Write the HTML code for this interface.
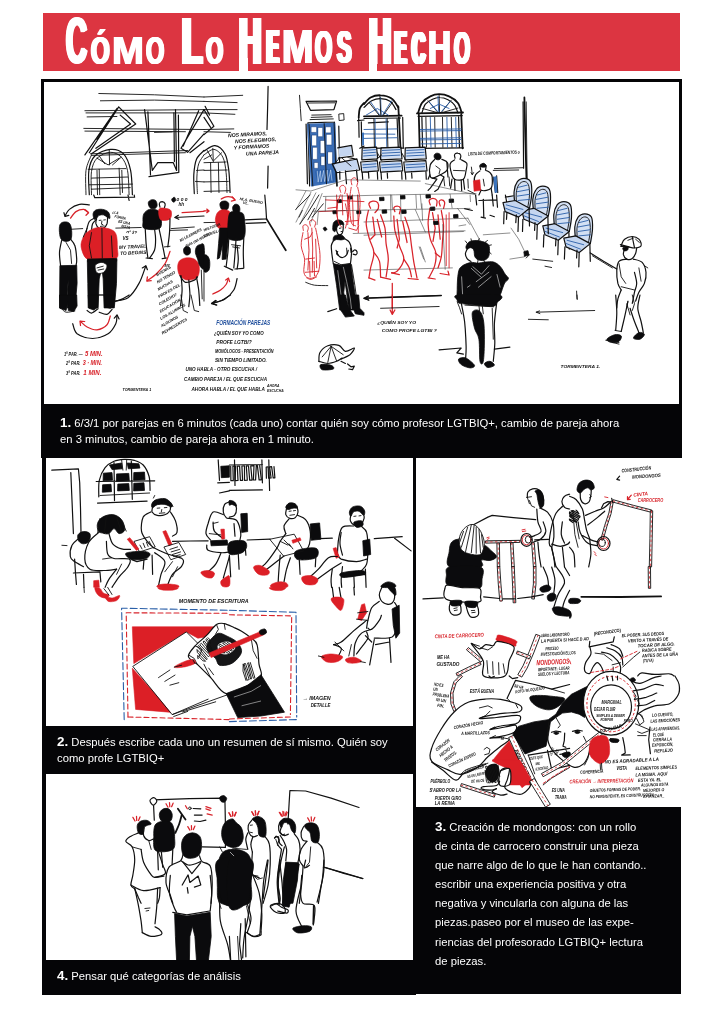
<!DOCTYPE html>
<html lang="es">
<head>
<meta charset="utf-8">
<title>Cómo Lo Hemos Hecho</title>
<style>
html,body{margin:0;padding:0;background:#fff;}
body{width:724px;height:1023px;position:relative;overflow:hidden;font-family:"Liberation Sans",sans-serif;}
.abs{position:absolute;}
#bar{left:42.9px;top:12.9px;width:637.5px;height:58px;background:#dc3541;}
#title{will-change:transform;margin:0;position:absolute;left:0;top:0;width:724px;height:80px;font-size:0;color:#fff;font-weight:bold;}
#title span{position:absolute;display:block;line-height:1;transform-origin:0 0;text-transform:uppercase;white-space:pre;}
.hstem{background:#fff;}
.blk{background:#050507;}
.wht{background:#fff;overflow:hidden;}
#f1{left:40.8px;top:79px;width:641.4px;height:379px;}
#p1{left:44px;top:82px;width:635.2px;height:322px;}
#f2{left:42.1px;top:457.6px;width:374.3px;height:537px;}
#p2{left:45.6px;top:457.6px;width:367.4px;height:268.7px;}
#p4{left:45.6px;top:773.8px;width:367.4px;height:186.6px;}
#f3{left:416.4px;top:806.5px;width:264.4px;height:187.1px;}
#p3{left:416.4px;top:458px;width:307.6px;height:348.5px;}
.cap{will-change:transform;color:#fff;font-size:11.25px;line-height:15.6px;white-space:nowrap;}
.cap b{font-size:13.4px;line-height:0;}
#c1{left:60.3px;top:415.9px;}
#c2{left:57.3px;top:735.2px;}
#c3{left:434.9px;top:818.2px;line-height:19.1px;}
#c4{left:57px;top:968.6px;}
svg{will-change:transform;position:absolute;left:0;top:0;overflow:hidden;}
svg text{font-family:"Liberation Sans",sans-serif;}
.k{fill:none;stroke:#111;stroke-width:.9;stroke-linecap:round;stroke-linejoin:round;}
.kt{fill:none;stroke:#333;stroke-width:.55;stroke-linecap:round;stroke-linejoin:round;}
.k2{fill:none;stroke:#111;stroke-width:1.2;stroke-linecap:round;stroke-linejoin:round;}
.k3{fill:none;stroke:#111;stroke-width:1.8;stroke-linecap:round;stroke-linejoin:round;}
.kf{fill:#0b0b0d;stroke:#0b0b0d;stroke-width:.8;stroke-linejoin:round;}
.r{fill:none;stroke:#d8232a;stroke-width:.9;stroke-linecap:round;stroke-linejoin:round;}
.r2{fill:none;stroke:#d8232a;stroke-width:1.25;stroke-linecap:round;stroke-linejoin:round;}
.rf{fill:#dc1f26;stroke:#dc1f26;stroke-width:.6;stroke-linejoin:round;}
.b{fill:none;stroke:#2a5fa8;stroke-width:.9;stroke-linecap:round;stroke-linejoin:round;}
.bf{fill:#3b74bd;stroke:none;}
.hw{font-size:4.6px;fill:#111;font-style:italic;font-weight:bold;}
.hwr{font-size:4.6px;fill:#d8232a;font-style:italic;font-weight:bold;}
.hwb{font-size:4.6px;fill:#1f4e9c;font-style:italic;font-weight:bold;}
</style>
</head>
<body>
<div id="bar" class="abs"></div>
<h1 id="title"><span style="left:66.10px;top:8.28px;font-size:65.54px;transform:scaleX(0.4436);text-shadow:1.13px 0 0 #fff,-1.13px 0 0 #fff,2.25px 0 0 #fff,-2.25px 0 0 #fff,3.38px 0 0 #fff,-3.38px 0 0 #fff;">C</span><span style="left:90.90px;top:31.63px;font-size:38.28px;transform:scaleX(0.6255);text-shadow:0.95px 0 0 #fff,-0.95px 0 0 #fff,1.89px 0 0 #fff,-1.89px 0 0 #fff;">ó</span><span style="left:111.99px;top:31.06px;font-size:39.39px;transform:scaleX(0.9727);text-shadow:0.67px 0 0 #fff,-0.67px 0 0 #fff;">m</span><span style="left:146.34px;top:31.63px;font-size:38.28px;transform:scaleX(0.6158);text-shadow:0.90px 0 0 #fff,-0.90px 0 0 #fff,1.81px 0 0 #fff,-1.81px 0 0 #fff;">o</span> <span style="left:181.71px;top:8.05px;font-size:66.57px;transform:scaleX(0.4964);text-shadow:1.17px 0 0 #fff,-1.17px 0 0 #fff,2.34px 0 0 #fff,-2.34px 0 0 #fff,3.51px 0 0 #fff,-3.51px 0 0 #fff,4.68px 0 0 #fff,-4.68px 0 0 #fff;">L</span><span style="left:205.92px;top:31.63px;font-size:38.28px;transform:scaleX(0.5770);text-shadow:1.06px 0 0 #fff,-1.06px 0 0 #fff,2.13px 0 0 #fff,-2.13px 0 0 #fff;">o</span> <span style="left:239.28px;top:8.05px;font-size:66.57px;transform:scaleX(0.4670);text-shadow:1.10px 0 0 #fff,-1.10px 0 0 #fff,2.21px 0 0 #fff,-2.21px 0 0 #fff,3.31px 0 0 #fff,-3.31px 0 0 #fff,4.41px 0 0 #fff,-4.41px 0 0 #fff;">H</span><span style="left:266.94px;top:23.42px;font-size:47.82px;transform:scaleX(0.3560);text-shadow:1.06px 0 0 #fff,-1.06px 0 0 #fff,2.13px 0 0 #fff,-2.13px 0 0 #fff,3.19px 0 0 #fff,-3.19px 0 0 #fff,4.26px 0 0 #fff,-4.26px 0 0 #fff,5.32px 0 0 #fff,-5.32px 0 0 #fff,6.39px 0 0 #fff,-6.39px 0 0 #fff;">e</span><span style="left:281.63px;top:23.42px;font-size:47.82px;transform:scaleX(0.7866);text-shadow:0.60px 0 0 #fff,-0.60px 0 0 #fff,1.21px 0 0 #fff,-1.21px 0 0 #fff;">m</span><span style="left:315.37px;top:24.11px;font-size:46.47px;transform:scaleX(0.4753);text-shadow:0.90px 0 0 #fff,-0.90px 0 0 #fff,1.79px 0 0 #fff,-1.79px 0 0 #fff,2.69px 0 0 #fff,-2.69px 0 0 #fff;">o</span><span style="left:336.54px;top:24.11px;font-size:46.47px;transform:scaleX(0.4661);text-shadow:1.05px 0 0 #fff,-1.05px 0 0 #fff,2.09px 0 0 #fff,-2.09px 0 0 #fff,3.14px 0 0 #fff,-3.14px 0 0 #fff;">s</span> <span style="left:369.01px;top:8.05px;font-size:66.57px;transform:scaleX(0.4636);text-shadow:1.07px 0 0 #fff,-1.07px 0 0 #fff,2.13px 0 0 #fff,-2.13px 0 0 #fff,3.20px 0 0 #fff,-3.20px 0 0 #fff,4.27px 0 0 #fff,-4.27px 0 0 #fff;">H</span><span style="left:395.25px;top:22.93px;font-size:48.40px;transform:scaleX(0.3418);text-shadow:1.15px 0 0 #fff,-1.15px 0 0 #fff,2.30px 0 0 #fff,-2.30px 0 0 #fff,3.45px 0 0 #fff,-3.45px 0 0 #fff,4.60px 0 0 #fff,-4.60px 0 0 #fff,5.75px 0 0 #fff,-5.75px 0 0 #fff,6.90px 0 0 #fff,-6.90px 0 0 #fff;">e</span><span style="left:411.74px;top:23.63px;font-size:47.03px;transform:scaleX(0.3879);text-shadow:0.97px 0 0 #fff,-0.97px 0 0 #fff,1.95px 0 0 #fff,-1.95px 0 0 #fff,2.92px 0 0 #fff,-2.92px 0 0 #fff,3.89px 0 0 #fff,-3.89px 0 0 #fff,4.86px 0 0 #fff,-4.86px 0 0 #fff;">c</span><span style="left:428.49px;top:22.93px;font-size:48.40px;transform:scaleX(0.6563);text-shadow:0.77px 0 0 #fff,-0.77px 0 0 #fff,1.54px 0 0 #fff,-1.54px 0 0 #fff;">h</span><span style="left:454.20px;top:23.63px;font-size:47.03px;transform:scaleX(0.4380);text-shadow:1.02px 0 0 #fff,-1.02px 0 0 #fff,2.04px 0 0 #fff,-2.04px 0 0 #fff,3.07px 0 0 #fff,-3.07px 0 0 #fff;">o</span></h1>
<div class="abs hstem" style="left:239.3px;top:58px;width:8.6px;height:14px;"></div>
<div class="abs hstem" style="left:369.1px;top:58px;width:8.3px;height:14px;"></div>
<div id="f1" class="abs blk"></div>
<div id="f2" class="abs blk"></div>
<div id="f3" class="abs blk"></div>
<div id="p1" class="abs wht"><svg width="635.2" height="322" viewBox="44 82 635.2 322">
<path class="k" d="M98.8 93.5 L154.5 94.8 L204.0 97.0 M100.4 100.8 L154.5 100.1 L204.0 101.4 M84.9 110.7 L204.0 109.6 M86.0 112.9 L204.0 112.9 M87.1 116.9 L116.9 116.5 M83.8 128.4 L204.0 129.5 M84.9 131.1 L185.4 131.7 M154.5 132.4 L172.2 131.9 M90.4 153.8 L187.6 150.5 M91.5 155.4 L185.4 152.7"/>
<path class="k2" d="M89.3 152.7 L118.7 106.8 L135.7 124.0 L91.5 153.8 M84.9 154.9 L116.9 108.5 M120.2 115.1 L130.6 124.0 L95.9 148.3 M110.3 119.6 L97.0 139.5"/>
<path class="k2" d="M144.6 109.6 L152.3 170.4 L157.8 162.7 L173.3 162.7 L176.6 170.4 L175.5 109.6 M147.9 111.8 L150.5 174.8 M173.9 112.9 L174.4 161.6 M149.0 176.6 L177.7 172.6 M178.4 115.1 L178.8 172.6"/>
<path class="k2" d="M204.0 109.6 L181.0 148.3 L187.6 152.3 L204.0 133.9 M198.7 110.7 L183.2 146.1 M204.0 141.7 L189.9 152.7"/>
<path class="k2" d="M89.3 194.7 C89.2 190.7 87.9 176.8 88.9 170.4 C89.8 164.0 91.3 159.5 94.8 156.0 C98.4 152.5 105.5 149.8 110.3 149.4 C115.1 149.0 120.2 150.3 123.6 153.8 C126.9 157.3 129.2 163.6 130.6 170.4 C132.1 177.2 132.1 190.7 132.4 194.7"/>
<path class="k" d="M86.0 194.7 C86.0 190.7 85.1 177.0 86.0 170.4 C86.9 163.8 90.6 157.5 91.5 154.9"/>
<path class="k" d="M91.5 194.7 C91.5 190.8 90.6 177.6 91.5 171.5 C92.4 165.4 93.9 161.4 97.0 158.2 C100.2 155.0 106.2 152.5 110.3 152.3 C114.3 152.1 118.5 154.1 121.3 157.1 C124.2 160.2 126.2 164.1 127.5 170.4 C128.8 176.7 128.8 190.7 129.1 194.7"/>
<path class="k" d="M109.2 149.4 L109.6 164.9 M97.0 158.2 L108.1 164.9 L119.1 158.2 M99.2 156.0 L104.8 163.8 M121.3 157.1 L112.5 164.9 M88.2 169.3 L125.8 168.6 M91.5 178.1 L128.0 177.0 M89.3 184.8 L132.4 184.1 M91.5 189.2 L130.2 187.6 M99.2 169.3 L99.7 194.7 M97.0 170.4 L97.5 194.7 M119.1 168.2 L120.2 194.7 M121.8 170.4 L122.5 192.5"/>
<path class="k2" d="M204.0 150.5 C202.7 152.0 198.2 155.3 196.5 159.3 C194.8 163.4 194.2 169.1 193.8 174.8 C193.5 180.5 194.2 190.5 194.3 193.6"/>
<path class="k" d="M204.0 154.9 C203.1 156.4 199.9 160.1 198.7 163.8 C197.5 167.5 197.1 172.1 196.9 177.0 C196.7 182.0 197.3 190.8 197.4 193.6"/>
<path class="k" d="M196.5 170.4 L204.0 170.0 M195.4 181.4 L204.0 181.9"/>
<path class="k" d="M204.0 97.0 L242.7 95.3 M204.0 101.4 L237.1 102.6 M204.0 109.6 L237.1 109.6 M204.0 112.9 L234.9 114.3 M204.0 129.5 L233.8 128.9 M204.0 131.7 L230.5 132.4"/>
<path class="k2" d="M204.0 109.6 L213.9 126.2 L204.0 134.6 M205.1 106.3 L209.5 115.1 M204.0 117.4 L210.6 127.3"/>
<path class="k2" d="M204.0 151.0 C205.8 150.1 211.6 145.2 215.0 145.6 C218.5 146.1 222.7 149.7 225.0 153.8 C227.3 157.9 227.9 164.0 228.8 170.4 C229.6 176.8 229.9 188.8 230.1 192.5"/>
<path class="k" d="M204.0 154.9 C205.7 154.0 210.8 149.0 213.9 149.4 C217.1 149.8 220.8 153.3 222.8 157.1 C224.8 161.0 225.4 166.7 226.1 172.6 C226.8 178.5 226.8 189.2 227.0 192.5"/>
<path class="k" d="M204.0 162.7 L226.1 162.0 M204.0 170.4 L227.2 170.0 M204.0 181.9 L228.3 181.4 M204.0 191.4 L229.4 190.7 M210.6 162.7 L211.1 192.5 M218.4 162.7 L219.0 192.5 M212.8 148.3 L213.3 161.6 M204.0 159.3 L211.7 154.9 M213.9 160.5 L221.7 152.7 M207.3 150.5 L212.8 160.5"/>
<path class="k2" d="M268.1 86.4 L267.6 108.5 L267.0 129.5 M268.1 166.0 L267.6 188.1"/>
<text class="hw" x="227.9" y="137.2" style="font-size:5.2px" transform="rotate(-3 227.9 137.2)">NOS MIRAMOS,</text>
<text class="hw" x="234.9" y="143.2" style="font-size:5.2px" transform="rotate(-3 234.9 143.2)">NOS ELEGIMOS,</text>
<text class="hw" x="233.8" y="149.4" style="font-size:5.2px" transform="rotate(-3 233.8 149.4)">Y FORMAMOS</text>
<text class="hw" x="246.0" y="155.6" style="font-size:5.2px" transform="rotate(-3 246.0 155.6)">UNA PAREJA</text>
<path class="k" d="M299.5 95.3 L300.4 108.5 L301.2 120.7"/>
<path class="k2" d="M306.1 101.4 L336.6 101.0 L333.9 109.6 L310.5 110.3Z"/>
<path class="k" d="M307.9 103.0 L334.8 102.8 M311.2 117.4 L332.2 116.7 M310.1 119.6 L333.3 118.9 M311.8 115.1 L331.1 114.7"/>
<path class="k2" d="M307.9 122.9 L308.8 154.9 L309.6 185.9 M334.4 122.2 L335.7 154.9 L337.0 185.9 M307.9 122.9 L334.4 122.0 M306.1 124.0 L307.4 183.7 M338.8 126.2 L339.9 179.2"/>
<path class="bf" d="M307.0 123.7 L335.3 122.7 L337.4 182.2 L311.0 186.5Z" style="fill:#3a6db6"/>
<path class="k" d="M311.3 126.8 L316.6 126.8 L316.6 132.4 L311.3 132.4Z" style="fill:#fff;stroke:#1d3f7a;stroke-width:.5"/>
<path class="k" d="M318.1 127.5 L322.7 127.5 L322.7 136.7 L318.1 136.7Z" style="fill:#fff;stroke:#1d3f7a;stroke-width:.5"/>
<path class="k" d="M325.7 126.8 L331.0 126.8 L331.0 132.9 L325.7 132.9Z" style="fill:#fff;stroke:#1d3f7a;stroke-width:.5"/>
<path class="k" d="M312.0 135.1 L316.6 135.1 L316.6 145.8 L312.0 145.8Z" style="fill:#fff;stroke:#1d3f7a;stroke-width:.5"/>
<path class="k" d="M320.4 140.5 L324.9 140.5 L324.9 153.4 L320.4 153.4Z" style="fill:#fff;stroke:#1d3f7a;stroke-width:.5"/>
<path class="k" d="M326.5 134.4 L331.8 134.4 L331.8 145.0 L326.5 145.0Z" style="fill:#fff;stroke:#1d3f7a;stroke-width:.5"/>
<path class="k" d="M312.8 147.3 L317.3 147.3 L317.3 159.4 L312.8 159.4Z" style="fill:#fff;stroke:#1d3f7a;stroke-width:.5"/>
<path class="k" d="M328.0 151.9 L332.5 151.9 L332.5 164.0 L328.0 164.0Z" style="fill:#fff;stroke:#1d3f7a;stroke-width:.5"/>
<path class="k" d="M321.1 156.4 L324.9 156.4 L324.9 165.5 L321.1 165.5Z" style="fill:#fff;stroke:#1d3f7a;stroke-width:.5"/>
<path class="k" d="M314.3 162.5 L318.1 162.5 L318.1 168.3 L314.3 168.3Z" style="fill:#fff;stroke:#1d3f7a;stroke-width:.5"/>
<path class="b" d="M334.2 173.9 L333.8 181.5 L333.1 181.6 L332.1 169.4 L330.8 169.4 L331.6 181.8 L329.8 181.9 L329.8 169.5 L328.3 169.5 L328.7 182.0 L327.3 182.1 L326.9 169.6 L325.4 169.7 L326.1 182.2 L324.8 182.3 L323.9 169.7 L323.1 169.8 L322.9 182.5 L321.5 182.6 L321.8 169.8 L319.8 169.9 L320.8 182.7 L319.1 182.8 L318.7 170.0 L317.1 170.0 L318.0 182.9 L315.6 172.2 L316.4 170.1"/>
<path d="M317.3 170.8 L318.1 182.2 L320.4 170.8 L321.1 181.9 L323.7 170.4 L324.6 181.6 L327.2 170.1 L328.3 181.3 L330.7 169.8 L331.9 180.7" style="fill:none;stroke:#cfe0f7;stroke-width:.6"/>
<path class="k" d="M309.0 124.5 L312.8 186.0 M334.1 123.0 L336.3 182.2 M324.2 123.7 L326.5 183.8"/>
<path class="k" d="M339.2 114.0 L343.7 113.6 L344.1 120.0 L339.5 120.5Z"/>
<path class="bf" d="M338.8 148.3 L351.0 146.1 L352.5 154.9 L339.2 157.1Z" style="fill:#c5d6f0"/>
<path class="bf" d="M333.3 163.8 L356.5 159.3 L358.7 169.3 L336.6 171.5Z" style="fill:#c5d6f0"/>
<path class="k2" d="M337.7 147.9 L351.6 145.4 L353.2 156.0 L338.4 158.2 M332.2 163.8 L356.9 158.9 L359.8 170.0 L336.2 172.6 L332.2 163.8 M336.2 172.6 L337.0 185.9 M356.5 170.0 L357.6 181.4 M347.6 157.1 L356.5 159.3 M345.4 170.8 L346.5 183.7"/>
<path class="k" d="M342.1 158.2 L351.0 166.0 M339.2 158.2 L334.4 164.2"/>
<path class="k3" d="M364.0 103.0 C363.3 103.9 360.7 106.1 359.8 108.5 C358.9 110.9 358.9 115.9 358.7 117.4"/>
<path class="k2" d="M358.7 117.4 L359.1 137.2 M357.6 120.7 L364.0 120.0 M361.3 121.8 L361.8 146.1 M359.8 148.3 L364.0 146.1"/>
<path class="bf" d="M362.0 132.8 L364.0 132.4 L364.0 145.0 L362.2 145.6Z"/>
<path class="k3" d="M364.0 104.1 C365.1 103.0 367.9 98.9 370.6 97.5 C373.4 96.0 377.1 95.1 380.6 95.3 C384.1 95.4 388.7 96.5 391.6 98.6 C394.6 100.6 397.1 105.9 398.3 107.4"/>
<path class="k2" d="M364.0 107.4 C365.3 106.3 369.0 102.3 371.7 100.8 C374.5 99.3 377.4 98.5 380.6 98.6 C383.7 98.7 387.9 99.6 390.5 101.4 C393.1 103.3 395.1 108.3 396.0 109.6"/>
<path class="k3" d="M364.0 116.3 L401.6 115.6 M398.3 106.3 L399.4 126.2 L400.5 148.3"/>
<path class="k2" d="M364.0 118.5 L400.5 118.0 M397.1 118.5 L398.3 148.3 M402.7 117.4 L403.3 148.3 M364.0 148.3 L403.8 147.9 M368.4 122.9 L388.3 121.8"/>
<path class="b" d="M380.6 97.5 L381.2 115.1 M370.6 101.9 L379.5 114.7 M391.6 100.8 L382.8 114.7 M364.0 129.5 L397.1 128.9 M364.0 138.4 L397.1 137.7 M364.0 133.9 L394.9 134.2 M375.0 118.5 L375.5 147.2 M386.1 118.5 L386.8 147.2 M366.2 115.1 L377.3 108.5 L388.3 115.1"/>
<path class="k" d="M379.9 96.4 L380.8 115.1 M369.5 103.0 L379.0 115.1 M392.7 101.9 L383.4 115.1 M373.9 118.5 L374.4 147.2 M387.2 118.5 L387.9 147.2"/>
<path class="k3" d="M418.1 112.9 C418.8 111.3 419.9 105.8 421.9 103.0 C423.9 100.2 427.4 97.8 430.3 96.4 C433.2 94.9 436.0 94.2 439.1 94.2 C442.3 94.2 446.0 94.9 449.1 96.4 C452.2 97.8 455.8 100.2 457.9 103.0 C460.0 105.8 461.1 111.3 461.7 112.9"/>
<path class="k2" d="M421.9 112.9 C422.5 111.5 423.7 106.4 425.4 104.1 C427.2 101.8 430.2 100.3 432.5 99.2 C434.9 98.1 437.0 97.4 439.6 97.5 C442.2 97.5 445.5 98.4 448.0 99.7 C450.5 101.0 453.0 103.0 454.6 105.2 C456.3 107.4 457.4 111.7 457.9 112.9"/>
<path class="k3" d="M417.0 113.4 L463.0 112.5 M418.8 114.0 L419.7 148.3 M461.2 112.9 L462.6 148.3"/>
<path class="k2" d="M418.1 116.3 L462.3 115.6 M419.2 148.3 L463.4 147.9 M421.9 117.4 L422.6 147.9 M458.6 116.9 L459.5 147.9"/>
<path class="k" d="M425.9 117.4 L426.5 147.2 M434.7 117.4 L435.2 147.2 M442.5 117.4 L442.9 147.2 M451.3 117.4 L452.0 147.2 M439.1 94.8 L439.6 112.5 M428.1 100.8 L438.0 112.5 M451.3 100.1 L441.3 112.5 M422.6 108.5 L436.9 112.5 M457.9 108.1 L442.5 112.5"/>
<path class="b" d="M420.4 129.5 L461.2 128.9 M420.4 131.1 L461.2 130.6 M420.4 138.4 L461.2 137.7 M420.4 139.9 L461.2 139.5 M430.3 117.4 L431.0 147.2 M446.9 117.4 L447.5 147.2 M438.0 96.4 L438.7 111.8 M429.2 101.9 L437.4 111.2 M450.2 101.4 L441.8 111.2 M430.3 108.5 L439.1 104.1 L449.1 108.5 M421.0 143.9 L460.8 143.4 M455.7 117.4 L456.4 147.2"/>
<path class="bf" d="M362.9 148.3 L376.2 147.9 L377.3 158.2 L361.8 158.9Z" style="fill:#d3e0f4"/>
<path class="bf" d="M361.8 162.7 L376.2 161.6 L377.3 170.4 L362.9 171.5Z" style="fill:#c5d6f0"/>
<path class="k2" d="M362.2 147.9 L376.6 147.2 L377.7 158.9 L361.8 159.8 L362.2 147.9 M360.7 162.0 L377.3 160.7 L378.4 170.8 L361.8 172.2 L360.7 162.0 M362.2 172.2 L362.7 179.2 M377.3 170.8 L377.7 179.2 M368.4 171.5 L368.9 178.1"/>
<path class="b" d="M363.6 150.5 L375.5 149.6 M363.6 153.2 L375.5 152.3 M363.6 156.0 L375.5 155.1 M362.9 164.9 L376.2 163.8 M362.9 167.7 L376.2 166.6"/>
<path class="bf" d="M381.7 148.3 L400.5 147.9 L401.6 158.2 L380.6 158.9Z" style="fill:#d3e0f4"/>
<path class="bf" d="M380.6 162.7 L400.5 161.6 L401.6 170.4 L381.7 171.5Z" style="fill:#c5d6f0"/>
<path class="k2" d="M381.0 147.9 L400.9 147.2 L402.0 158.9 L380.6 159.8 L381.0 147.9 M379.5 162.0 L401.6 160.7 L402.7 170.8 L380.6 172.2 L379.5 162.0 M381.0 172.2 L381.5 179.2 M401.6 170.8 L402.0 179.2 M387.2 171.5 L387.6 178.1"/>
<path class="b" d="M382.3 150.5 L399.8 149.6 M382.3 153.2 L399.8 152.3 M382.3 156.0 L399.8 155.1 M381.7 164.9 L400.5 163.8 M381.7 167.7 L400.5 166.6"/>
<path class="bf" d="M406.0 148.3 L424.8 147.9 L425.9 158.2 L404.9 158.9Z" style="fill:#d3e0f4"/>
<path class="bf" d="M404.9 162.7 L424.8 161.6 L425.9 170.4 L406.0 171.5Z" style="fill:#c5d6f0"/>
<path class="k2" d="M405.3 147.9 L425.2 147.2 L426.3 158.9 L404.9 159.8 L405.3 147.9 M403.8 162.0 L425.9 160.7 L427.0 170.8 L404.9 172.2 L403.8 162.0 M405.3 172.2 L405.8 179.2 M425.9 170.8 L426.3 179.2 M411.5 171.5 L412.0 178.1"/>
<path class="b" d="M406.7 150.5 L424.1 149.6 M406.7 153.2 L424.1 152.3 M406.7 156.0 L424.1 155.1 M406.0 164.9 L424.8 163.8 M406.0 167.7 L424.8 166.6"/>
<path class="k" d="M377.3 152.7 L381.7 160.5 M401.6 152.7 L406.0 160.5 M376.2 159.3 L381.7 154.9"/>
<path class="kf" d="M434.3 154.9 C434.6 154.1 435.9 153.2 436.9 153.2 C437.9 153.1 439.6 153.6 440.2 154.5 C440.9 155.3 441.3 157.4 440.9 158.2 C440.5 159.1 439.1 159.8 438.0 159.8 C437.0 159.8 435.3 159.1 434.7 158.2 C434.1 157.4 433.9 155.8 434.3 154.9Z"/>
<path class="k2" d="M434.7 159.3 C434.0 160.3 431.1 162.3 430.3 164.9 C429.5 167.5 429.5 172.6 429.9 174.8 C430.2 177.0 430.8 178.1 432.5 178.1 C434.2 178.1 437.8 176.1 440.2 174.8 C442.6 173.5 445.7 172.4 446.9 170.4 C448.1 168.4 448.4 164.5 447.5 162.7 C446.7 160.8 442.7 159.9 441.8 159.3"/>
<path class="k2" d="M432.5 178.1 L436.9 179.2 L430.3 188.1 L428.1 190.3 M440.2 174.8 L444.0 177.0 L438.0 189.2 L434.7 191.4 M446.9 162.7 L448.0 177.0 M429.9 174.8 L428.1 179.2"/>
<path class="k" d="M435.8 166.0 L440.2 169.3 L439.1 173.7 M443.6 177.0 L444.7 185.9 M449.1 177.0 L449.7 185.9"/>
<path class="k2" d="M455.0 158.2 C455.0 157.6 454.1 155.3 454.6 154.5 C455.1 153.6 456.9 153.0 457.9 153.2 C459.0 153.3 460.4 154.3 460.8 155.4 C461.2 156.4 460.2 158.7 460.1 159.3"/>
<path class="k2" d="M454.6 159.8 C453.9 160.5 450.7 161.6 450.2 163.8 C449.6 165.9 450.6 170.0 451.3 172.6 C452.0 175.2 452.6 178.1 454.6 179.2 C456.6 180.3 461.5 180.7 463.4 179.2 C465.4 177.8 465.5 173.0 466.1 170.4 C466.7 167.7 467.6 165.1 466.8 163.3 C466.0 161.6 462.2 160.4 461.2 159.8"/>
<path class="k2" d="M454.6 179.2 L455.0 190.3 M461.2 179.7 L461.7 190.7 M463.4 179.2 L464.6 189.2 M452.0 179.2 L450.6 188.1"/>
<path class="k" d="M453.5 170.4 L464.6 170.8 M467.9 179.2 L468.3 188.1"/>
<path class="k2" d="M480.7 169.3 C480.6 168.7 479.6 166.5 480.0 165.5 C480.5 164.6 482.3 163.7 483.3 163.8 C484.3 163.8 485.6 164.9 486.0 166.0 C486.4 167.0 485.6 169.3 485.5 170.0"/>
<path class="kf" d="M480.0 166.0 C480.4 165.4 482.3 163.4 483.3 163.3 C484.4 163.3 485.9 164.9 486.2 165.5 C486.5 166.2 486.0 166.9 485.1 167.1 C484.3 167.3 482.0 167.0 481.1 166.9 C480.3 166.7 479.7 166.6 480.0 166.0Z"/>
<path class="k2" d="M480.0 170.8 C479.3 171.5 476.5 173.0 475.6 174.8 C474.7 176.6 473.6 178.9 474.5 181.4 C475.4 184.0 478.4 189.2 481.1 190.3 C483.9 191.4 489.2 190.3 491.1 188.1 C492.9 185.9 492.4 179.6 492.2 177.0 C492.0 174.4 491.0 173.7 490.0 172.6 C488.9 171.5 486.7 170.8 486.0 170.4"/>
<path class="k2" d="M481.1 190.3 L478.9 194.9 M491.1 188.1 L492.2 194.9 M493.3 177.0 L495.5 192.5 M496.6 175.9 L497.7 192.5"/>
<path class="bf" d="M493.3 177.0 L496.6 175.9 L497.5 192.5 L494.8 192.9Z"/>
<path class="rf" d="M473.4 180.8 L479.8 179.7 L480.7 190.3 L474.1 191.2Z"/>
<path class="k" d="M467.9 190.3 L474.5 193.6 M483.3 179.2 L484.4 185.9"/>
<text class="hw" x="467.9" y="155.4" style="font-size:4.6px" transform="rotate(-2 467.9 155.4)" textLength="51.9" lengthAdjust="spacingAndGlyphs">LISTA DE COMPORTAMIENTOS o</text>
<path class="k" d="M471.4 167.1 L472.3 174.4 M471.0 172.6 L472.3 174.8 L473.6 172.6"/>
<path class="k2" d="M523.1 101.9 L523.6 168.2"/>
<path class="k" d="M494.4 168.6 L523.1 167.7 M493.3 170.4 L518.7 170.0"/>
<path class="k3" d="M524.4 97.5 L525.3 137.2 L526.7 185.9"/>
<path class="k" d="M526.2 101.9 L527.1 179.2"/>
<path class="k2" d="M93.7 195.0 L94.8 197.7 L134.6 197.2 L134.2 195.0 M128.0 195.0 L129.1 200.5"/>
<path class="k2" d="M65.0 216.0 C65.7 214.9 67.0 211.3 69.4 209.4 C71.8 207.4 76.0 205.0 79.4 204.3 C82.7 203.5 87.6 204.8 89.3 204.9"/>
<path class="k2" d="M63.9 212.7 L65.0 216.4 L68.8 215.3"/>
<path class="r2" d="M70.5 218.2 C71.4 217.1 73.8 213.0 76.0 211.6 C78.3 210.1 81.8 209.3 83.8 209.4 C85.8 209.5 87.5 211.8 88.2 212.2"/>
<path class="r2" d="M84.9 210.0 L88.6 212.7 L86.0 215.3"/>
<path class="kf" d="M59.9 224.8 C60.6 223.1 62.3 222.2 63.9 222.0 C65.5 221.7 68.1 221.9 69.4 223.3 C70.7 224.7 71.4 227.7 71.6 230.4 C71.9 233.0 71.9 237.4 71.0 239.2 C70.0 241.0 67.7 241.4 66.1 241.4 C64.5 241.4 62.3 240.7 61.2 239.2 C60.1 237.7 59.7 235.0 59.5 232.6 C59.2 230.2 59.2 226.6 59.9 224.8Z"/>
<path class="k2" d="M61.7 240.3 C61.3 242.3 59.7 248.2 59.5 252.5 C59.3 256.7 60.4 263.5 60.6 265.7"/>
<path class="k2" d="M70.5 239.2 C71.3 240.3 73.9 242.5 74.9 245.8 C76.0 249.1 76.5 255.8 76.7 259.1 C76.9 262.4 76.2 264.6 76.0 265.7"/>
<path class="k" d="M66.1 242.5 L70.5 250.2 L71.6 263.5"/>
<path class="kf" d="M59.9 265.7 L76.7 265.3 L77.1 283.4 L74.9 307.9 L67.2 307.9 L68.3 279.0 L66.1 307.9 L59.5 307.9Z"/>
<path class="k" d="M70.5 229.3 L82.7 228.6 M115.8 228.1 L141.2 227.5"/>
<path class="kf" d="M93.1 213.8 C93.3 212.2 94.3 210.8 95.9 210.0 C97.5 209.3 100.5 209.0 102.6 209.4 C104.7 209.7 107.3 210.8 108.5 212.2 C109.7 213.7 110.1 217.4 109.9 218.2 C109.6 219.0 108.0 217.7 107.0 217.1 C106.0 216.5 105.0 215.2 103.7 214.9 C102.4 214.6 100.4 214.8 99.2 215.3 C98.1 215.9 97.4 217.5 96.6 218.2 C95.8 218.9 95.0 220.0 94.4 219.3 C93.8 218.6 92.8 215.3 93.1 213.8Z"/>
<path class="k2" d="M96.6 218.2 C96.5 219.1 95.5 222.0 95.9 223.7 C96.4 225.5 98.0 227.9 99.2 228.6 C100.5 229.3 102.4 229.0 103.7 228.1 C105.0 227.3 106.3 225.6 107.0 223.7 C107.6 221.9 107.5 218.2 107.6 217.1"/>
<path class="k" d="M99.2 220.4 L101.0 220.2 M103.7 220.0 L105.4 219.8 M101.9 221.1 L101.5 224.2 L102.8 224.6 M100.4 226.4 L104.1 225.9"/>
<path class="k2" d="M94.4 218.2 C93.5 218.8 90.5 219.9 89.3 221.5 C88.1 223.2 87.6 226.1 87.1 228.1 C86.5 230.2 86.2 232.8 86.0 233.7"/>
<path class="k2" d="M96.6 219.3 C95.9 220.0 93.5 221.9 92.6 223.7 C91.8 225.6 91.7 229.3 91.5 230.4"/>
<path class="rf" d="M88.2 231.5 C90.5 229.9 93.7 228.2 97.0 227.7 C100.4 227.2 105.0 227.6 108.1 228.6 C111.2 229.6 114.3 230.4 115.8 233.7 C117.4 236.9 117.3 244.0 117.4 248.0 C117.5 252.1 119.1 256.1 116.5 258.0 C113.9 259.9 106.8 259.3 101.9 259.5 C97.0 259.7 90.6 261.2 87.1 259.1 C83.6 257.0 81.8 250.6 81.1 246.9 C80.5 243.3 82.2 239.6 83.3 237.0 C84.5 234.4 85.9 233.0 88.2 231.5Z"/>
<path class="k" d="M101.9 228.1 L102.3 258.0 M91.5 232.6 L89.3 245.8 L91.5 258.0 M111.4 235.9 L112.5 256.9 M83.3 237.0 L87.1 228.1"/>
<path class="kf" d="M87.1 259.1 L116.9 258.4 L116.5 261.3 L87.3 261.7"/>
<path class="kf" d="M87.3 260.2 L116.9 259.5 L116.5 283.4 L114.3 307.9 L104.1 307.9 L103.2 279.0 L101.9 267.9 L99.2 279.0 L98.1 307.9 L88.2 307.9 L87.8 283.4Z"/>
<path class="kf" d="M95.3 265.3 C96.1 263.5 99.9 262.3 101.9 262.4 C103.9 262.5 106.7 264.1 107.0 265.7 C107.3 267.4 105.3 271.2 103.7 272.3 C102.0 273.5 98.4 274.0 97.0 272.8 C95.6 271.6 94.5 267.0 95.3 265.3Z" style="fill:#fff;stroke:#111"/>
<path class="k" d="M97.0 267.9 L103.2 266.2 M98.1 270.1 L103.7 269.0"/>
<text class="hw" x="112.1" y="213.1" style="font-size:4.0px" transform="rotate(12 112.1 213.1)" textLength="6.2" lengthAdjust="spacingAndGlyphs">¿LA</text>
<text class="hw" x="114.3" y="217.5" style="font-size:4.0px" transform="rotate(12 114.3 217.5)" textLength="11.5" lengthAdjust="spacingAndGlyphs">FORMA</text>
<text class="hw" x="118.0" y="222.4" style="font-size:4.0px" transform="rotate(12 118.0 222.4)" textLength="12.2" lengthAdjust="spacingAndGlyphs">ES UNA</text>
<text class="hw" x="120.9" y="227.3" style="font-size:4.0px" transform="rotate(12 120.9 227.3)" textLength="9.3" lengthAdjust="spacingAndGlyphs">NOTA</text>
<text class="hw" x="126.2" y="233.0" style="font-size:4.0px" transform="rotate(5 126.2 233.0)" textLength="11.0" lengthAdjust="spacingAndGlyphs">nº 3?</text>
<text class="hw" x="122.5" y="240.3" style="font-size:4.6px">VS</text>
<text class="hw" x="119.1" y="249.1" style="font-size:4.8px" transform="rotate(-3 119.1 249.1)">MY TRAVEL</text>
<text class="hw" x="120.2" y="255.1" style="font-size:4.8px" transform="rotate(-3 120.2 255.1)">TO BEGINS</text>
<path class="kf" d="M148.3 202.7 C148.5 201.4 150.0 200.2 151.2 199.9 C152.4 199.5 154.6 199.6 155.6 200.5 C156.6 201.5 157.3 204.2 157.1 205.6 C157.0 207.0 155.7 208.3 154.5 208.7 C153.3 209.1 151.1 208.8 150.1 207.8 C149.0 206.8 148.1 204.1 148.3 202.7Z"/>
<path class="kf" d="M143.9 213.8 C145.0 211.8 147.3 209.9 149.6 209.4 C152.0 208.8 156.0 209.5 157.8 210.5 C159.7 211.4 160.3 211.9 160.7 214.9 C161.1 217.8 162.7 225.9 160.0 228.1 C157.3 230.4 147.4 229.7 144.6 228.6 C141.7 227.5 143.1 224.0 143.0 221.5 C142.9 219.1 142.8 215.8 143.9 213.8Z"/>
<path class="k2" d="M145.2 228.1 C145.4 230.7 145.7 238.6 146.1 243.6 C146.5 248.6 147.6 255.6 147.9 258.0"/>
<path class="k2" d="M154.5 228.6 C154.7 230.4 155.6 235.6 155.6 239.2 C155.6 242.8 155.5 247.1 154.5 250.2 C153.5 253.4 150.4 256.7 149.6 258.0"/>
<path class="k2" d="M158.9 228.1 C159.5 230.7 161.2 238.6 162.2 243.6 C163.3 248.6 164.6 255.6 165.1 258.0"/>
<path class="k2" d="M146.1 258.0 L152.3 258.6 M162.2 258.6 L166.7 258.0"/>
<path class="k2" d="M160.0 207.2 C159.9 206.5 159.0 204.3 159.4 203.4 C159.7 202.5 161.3 201.6 162.2 201.6 C163.2 201.7 164.7 202.8 165.1 203.8 C165.5 204.9 164.6 207.2 164.4 207.8"/>
<path class="rf" d="M158.9 209.4 C159.7 207.4 163.1 208.0 165.1 208.3 C167.1 208.5 170.3 209.1 171.1 210.9 C171.9 212.7 171.7 217.4 170.0 218.9 C168.2 220.3 162.5 221.3 160.7 219.8 C158.8 218.2 158.2 211.3 158.9 209.4Z"/>
<path class="k2" d="M170.0 218.9 C169.9 221.2 169.9 227.9 169.5 232.6 C169.2 237.2 168.1 244.5 167.8 246.9"/>
<path class="k" d="M164.4 246.9 L170.0 246.3"/>
<path class="r2" d="M182.1 212.7 L204.0 211.4"/>
<path class="k2" d="M174.8 217.5 L204.0 216.0 M178.4 215.3 L174.8 217.5 L178.8 219.3"/>
<path class="k" d="M171.1 228.6 L194.3 227.0 M170.4 230.4 L187.6 229.9"/>
<text class="hw" x="176.6" y="201.2" style="font-size:4.6px">o o o</text>
<text class="hw" x="178.4" y="206.0" style="font-size:4.6px">hh</text>
<path class="kf" d="M171.7 199.4 C171.9 198.6 173.7 197.0 174.4 197.2 C175.0 197.4 175.9 199.7 175.7 200.5 C175.5 201.3 173.9 202.3 173.3 202.1 C172.6 201.9 171.6 200.2 171.7 199.4Z"/>
<path class="r2" d="M170.0 251.4 C169.2 253.4 167.3 259.8 165.1 263.5 C162.9 267.2 159.7 270.6 156.7 273.5 C153.8 276.3 149.0 279.5 147.4 280.7"/>
<path class="r2" d="M147.4 276.8 L146.8 281.2 L151.2 280.7"/>
<path class="k2" d="M114.7 301.1 C116.9 300.5 123.9 300.7 128.0 297.8 C132.0 294.8 136.1 288.7 139.0 283.4 C142.0 278.1 144.6 269.0 145.7 266.2"/>
<path class="k2" d="M142.3 267.9 L145.9 265.7 L147.4 269.7"/>
<path class="kf" d="M183.7 249.1 C184.0 247.9 185.5 246.5 186.5 246.3 C187.6 246.1 189.2 246.9 189.9 248.0 C190.5 249.1 190.7 251.7 190.3 252.9 C189.9 254.1 188.2 255.0 187.2 255.1 C186.2 255.2 184.9 254.6 184.3 253.6 C183.7 252.6 183.3 250.4 183.7 249.1Z"/>
<path class="rf" d="M179.2 261.3 C180.5 259.6 182.9 258.4 185.4 258.0 C187.9 257.6 192.0 257.8 194.3 259.1 C196.6 260.4 198.6 262.8 199.1 265.7 C199.7 268.7 199.5 274.4 197.6 276.8 C195.7 279.2 190.6 280.3 187.6 280.1 C184.7 279.9 181.6 277.7 179.9 275.7 C178.3 273.6 177.8 270.3 177.7 267.9 C177.6 265.5 178.0 263.0 179.2 261.3Z"/>
<path class="k2" d="M181.0 275.7 C181.2 278.1 182.2 285.1 182.1 290.0 C182.0 295.0 180.8 302.9 180.6 305.5"/>
<path class="k2" d="M196.5 277.2 C196.9 279.3 198.1 285.3 198.7 290.0 C199.2 294.7 199.6 302.9 199.8 305.5"/>
<path class="k2" d="M188.8 280.1 C188.9 282.5 189.9 290.0 189.9 294.4 C189.9 298.9 188.9 304.6 188.8 306.6"/>
<path class="k2" d="M179.9 275.7 C180.8 276.8 183.0 281.6 185.4 282.3 C187.8 283.0 192.3 281.0 194.3 280.1 C196.3 279.2 197.0 277.3 197.6 276.8"/>
<path class="kf" d="M196.5 246.9 C197.2 245.6 198.5 244.9 199.8 244.7 C201.1 244.5 203.3 242.0 204.0 245.8 C204.7 249.7 204.7 264.6 204.0 267.9 C203.3 271.2 200.9 267.2 199.8 265.7 C198.7 264.2 198.3 261.3 197.6 259.1 C196.9 256.9 195.6 254.5 195.4 252.5 C195.2 250.4 195.7 248.2 196.5 246.9Z"/>
<path class="k" d="M201.3 270.1 L202.2 298.9 M204.0 271.2 L204.0 301.1"/>
<text class="hw" x="180.6" y="241.9" style="font-size:4.0px" transform="rotate(-28 180.6 241.9)" textLength="24.3" lengthAdjust="spacingAndGlyphs">MI LEARNERS</text>
<text class="hw" x="186.5" y="247.6" style="font-size:4.0px" transform="rotate(-28 186.5 247.6)" textLength="28.7" lengthAdjust="spacingAndGlyphs">PARA UNA HISTORIA</text>
<path class="kf" d="M219.9 204.3 C220.0 203.1 220.6 202.1 221.7 201.6 C222.7 201.1 224.9 200.8 226.1 201.2 C227.3 201.6 228.5 202.6 228.8 203.8 C229.0 205.1 228.6 207.5 227.9 208.7 C227.1 209.9 225.4 210.9 224.3 210.9 C223.2 210.9 222.0 209.8 221.2 208.7 C220.5 207.6 219.8 205.5 219.9 204.3Z"/>
<path class="r2" d="M221.2 199.0 C222.0 198.6 224.4 197.1 226.1 196.8 C227.8 196.5 230.2 196.7 231.6 197.2 C233.1 197.7 234.4 199.4 234.9 199.9"/>
<path class="r2" d="M232.3 196.8 L235.2 200.1 L231.4 201.2"/>
<path class="rf" d="M216.8 213.8 C217.8 211.9 219.4 210.6 221.2 210.0 C223.1 209.5 226.3 209.7 227.9 210.5 C229.4 211.3 230.2 211.9 230.5 214.9 C230.9 217.8 231.9 225.9 230.1 228.1 C228.2 230.4 221.9 229.7 219.5 228.6 C217.0 227.5 215.9 224.0 215.5 221.5 C215.0 219.1 215.9 215.7 216.8 213.8Z"/>
<path class="kf" d="M219.9 228.1 L228.8 228.1 L227.9 243.6 L226.1 259.1 L222.1 259.5 L222.8 243.6 L219.5 258.0 L217.3 259.1 L218.6 243.6Z"/>
<path class="kf" d="M232.7 207.2 C233.0 205.9 234.3 204.5 235.4 204.3 C236.4 204.0 238.2 204.6 238.9 205.6 C239.7 206.6 240.1 209.2 239.8 210.5 C239.5 211.7 238.2 212.9 237.1 213.1 C236.1 213.3 234.3 212.8 233.6 211.8 C232.9 210.8 232.4 208.4 232.7 207.2Z"/>
<path class="kf" d="M229.4 213.8 C230.4 211.4 232.0 211.8 233.8 211.6 C235.7 211.3 238.7 211.3 240.5 212.2 C242.2 213.2 243.7 212.8 244.2 217.1 C244.8 221.4 246.4 234.5 243.8 238.1 C241.2 241.7 231.4 240.8 228.8 238.8 C226.1 236.7 227.8 230.1 227.9 225.9 C228.0 221.8 228.4 216.2 229.4 213.8Z"/>
<path class="k2" d="M228.8 238.8 C228.6 241.0 228.3 247.8 227.9 252.5 C227.4 257.1 226.4 264.4 226.1 266.8"/>
<path class="k2" d="M243.8 238.1 C243.7 240.5 243.3 247.5 243.3 252.5 C243.3 257.4 243.7 265.3 243.8 267.9"/>
<path class="k2" d="M236.0 239.2 C235.9 241.8 235.3 249.9 234.9 254.7 C234.6 259.5 234.0 265.7 233.8 267.9"/>
<path class="k2" d="M237.1 245.8 C237.3 248.0 238.3 255.2 238.3 259.1 C238.3 263.0 237.3 267.4 237.1 269.0"/>
<path class="k2" d="M224.3 266.2 L232.7 270.1 M234.9 269.0 L243.3 268.4"/>
<path class="k" d="M231.6 244.7 L240.5 245.8 M232.7 246.9 L239.4 248.0"/>
<text class="hw" x="239.4" y="199.9" style="font-size:3.8px" transform="rotate(10 239.4 199.9)">HLA. BUENO</text>
<text class="hw" x="242.7" y="203.8" style="font-size:3.8px" transform="rotate(10 242.7 203.8)">VL.</text>
<path class="k2" d="M264.8 195.0 L265.9 208.3 L266.5 218.2 M244.9 219.8 L266.5 218.9 M246.0 223.3 L265.9 222.6"/>
<path class="k3" d="M266.5 218.9 L276.9 235.9 L285.8 250.2"/>
<path class="r2" d="M204.0 210.9 L208.9 210.9 M206.7 209.1 L209.1 210.9 L206.7 212.7"/>
<path class="k" d="M204.0 222.6 L215.0 222.4"/>
<text class="hw" x="204.0" y="231.5" style="font-size:3.8px" transform="rotate(-20 204.0 231.5)">HISTORIA</text>
<text class="hw" x="204.0" y="237.4" style="font-size:3.8px" transform="rotate(-20 204.0 237.4)">ESCUELA</text>
<path class="kf" d="M204.0 256.4 C204.6 253.9 206.4 255.0 207.3 255.8 C208.3 256.6 209.5 258.9 209.7 261.3 C210.0 263.7 209.8 268.5 208.9 270.1 C207.9 271.8 204.8 273.5 204.0 271.2 C203.2 269.0 203.4 259.0 204.0 256.4Z"/>
<path class="r2" d="M212.8 294.0 C214.1 293.3 218.4 291.6 220.6 290.0 C222.8 288.4 224.8 286.4 226.1 284.5 C227.4 282.6 227.9 279.5 228.3 278.5"/>
<path class="r2" d="M225.7 280.1 L228.5 278.1 L229.6 281.6"/>
<path class="k2" d="M237.1 278.5 C236.6 280.5 235.9 286.6 233.8 290.0 C231.8 293.4 228.5 296.7 225.0 298.9 C221.5 301.1 214.9 302.6 212.8 303.3"/>
<path class="k2" d="M216.2 300.6 L212.4 303.5 L216.8 305.1"/>
<path class="k" d="M310.1 195.0 L295.7 209.4 M318.9 195.0 L307.9 212.7 L300.1 223.7 M314.5 208.3 L307.9 219.8 M323.3 203.8 L312.3 217.1 M302.3 210.5 L299.0 217.1"/>
<path class="r" d="M303.4 230.4 C303.4 229.6 302.6 226.9 303.0 225.9 C303.4 225.0 305.2 224.5 306.1 224.8 C307.0 225.1 308.1 226.6 308.3 227.7 C308.5 228.8 307.6 230.8 307.4 231.5"/>
<path class="r" d="M310.5 225.9 C310.4 225.2 309.3 222.6 309.6 221.5 C310.0 220.5 311.7 219.6 312.7 219.8 C313.7 219.9 315.3 221.4 315.6 222.6 C315.9 223.8 314.7 226.3 314.5 227.0"/>
<path class="r" d="M303.0 232.6 C302.7 234.8 301.0 241.4 301.2 245.8 C301.5 250.2 304.1 254.7 304.6 259.1 C305.0 263.5 303.3 269.2 303.9 272.3 C304.4 275.5 306.1 277.1 307.9 277.9 C309.6 278.7 312.7 278.5 314.5 277.2 C316.3 275.9 318.0 273.9 318.9 270.1 C319.8 266.4 320.2 259.8 320.0 254.7 C319.8 249.5 318.5 243.6 317.8 239.2 C317.1 234.8 316.0 230.0 315.6 228.1"/>
<path class="r" d="M307.9 232.6 L309.0 250.2 L307.9 270.1 M311.8 228.1 L312.7 248.0 L312.3 272.3 M315.6 239.2 L316.7 267.9 M305.7 259.1 L314.5 258.0 M305.2 272.3 L318.9 271.2 M304.6 239.2 L310.1 237.0 L312.3 232.6 M309.6 261.3 L310.1 276.8 M314.1 261.3 L314.5 275.7"/>
<path class="r" d="M306.8 277.9 C307.5 278.1 309.5 279.6 311.2 279.4 C312.8 279.2 315.8 277.2 316.7 276.8"/>
<path class="r" d="M325.5 199.9 L364.0 201.6 M318.9 211.6 L345.4 210.5 M336.6 195.0 L337.0 208.3 M342.1 195.0 L342.8 214.9 M347.6 195.0 L348.1 217.1 M352.5 195.0 L353.4 225.9 M357.6 195.0 L358.3 232.6 M327.8 208.3 L336.6 207.2 M345.4 221.5 L358.7 220.4 M348.8 228.1 L356.5 230.4 L358.7 225.9"/>
<path class="r" d="M337.7 201.6 C337.5 203.5 336.4 209.0 336.6 212.7 C336.8 216.4 338.4 221.9 338.8 223.7"/>
<path class="r" d="M345.4 203.8 C345.8 206.0 347.6 213.0 347.6 217.1 C347.6 221.2 345.8 226.3 345.4 228.1"/>
<path class="kf" d="M332.8 210.9 L336.8 210.7 L337.0 213.6 L333.1 213.8Z"/>
<path class="kf" d="M337.3 199.9 L341.2 199.6 L341.5 202.5 L337.5 202.7Z"/>
<path class="kf" d="M356.7 210.9 L360.7 210.7 L360.9 213.6 L356.9 213.8Z"/>
<path class="kf" d="M347.9 196.3 L351.8 196.1 L352.1 199.0 L348.1 199.2Z"/>
<path class="k" d="M305.7 282.3 C307.1 282.8 310.8 284.6 314.5 285.2 C318.2 285.7 325.5 285.5 327.8 285.6"/>
<path class="kf" d="M323.3 228.1 C323.5 227.6 325.0 227.0 325.5 227.3 C326.1 227.5 327.0 228.9 326.9 229.5 C326.7 230.1 325.3 231.0 324.7 230.8 C324.1 230.6 323.2 228.7 323.3 228.1Z"/>
<path class="kf" d="M332.8 227.2 C332.9 225.8 333.0 223.4 333.9 222.2 C334.7 221.0 336.4 220.2 337.7 220.0 C339.1 219.8 341.1 220.2 342.2 221.1 C343.2 221.9 344.0 224.4 343.8 224.9 C343.6 225.5 342.0 224.3 341.0 224.4 C340.1 224.5 339.0 224.9 338.3 225.5 C337.6 226.1 337.2 227.2 336.6 228.3 C336.1 229.3 335.6 231.2 335.0 231.6 C334.4 231.9 333.5 231.2 333.1 230.5 C332.7 229.7 332.6 228.5 332.8 227.2Z"/>
<path class="k2" d="M336.6 228.3 C336.7 228.8 336.5 230.5 336.9 231.6 C337.2 232.6 338.0 234.3 338.8 234.7 C339.6 235.1 340.9 234.7 341.6 234.0 C342.3 233.3 342.8 231.9 343.0 230.5 C343.3 229.1 343.2 226.3 343.3 225.5"/>
<path class="k" d="M339.4 228.3 L341.0 228.0 M341.0 231.6 L342.4 231.4"/>
<path class="kf" d="M333.9 236.5 C334.6 235.5 336.4 235.1 337.7 234.9 C339.1 234.7 341.0 234.8 342.2 235.4 C343.4 236.1 345.1 238.0 344.9 238.8 C344.7 239.5 342.4 239.7 341.0 239.9 C339.7 240.0 337.9 239.3 336.6 239.5 C335.3 239.7 333.8 241.5 333.3 241.0 C332.9 240.5 333.1 237.6 333.9 236.5Z"/>
<path class="k2" d="M333.3 241.0 C333.0 241.8 331.5 243.6 331.3 245.9 C331.1 248.2 331.7 251.8 332.0 254.8 C332.3 257.7 333.1 262.1 333.3 263.6"/>
<path class="k2" d="M344.9 238.8 C345.7 239.3 348.2 240.3 349.3 242.1 C350.4 243.8 351.2 246.8 351.5 249.3 C351.9 251.7 351.4 254.6 351.2 257.0 C351.0 259.4 350.6 262.5 350.4 263.6"/>
<path class="k2" d="M336.1 250.4 C336.5 251.3 337.7 254.7 338.8 255.9 C339.9 257.1 341.4 257.7 342.7 257.5 C344.0 257.4 345.7 256.0 346.6 254.8 C347.5 253.6 348.0 251.1 348.2 250.4"/>
<path class="k2" d="M337.7 251.5 C337.6 251.8 336.5 253.0 336.6 253.7 C336.7 254.3 338.0 255.1 338.3 255.3"/>
<path class="k2" d="M352.7 251.5 C353.0 251.2 354.1 249.7 354.9 249.8 C355.6 249.9 356.9 251.2 357.1 252.0 C357.3 252.8 356.6 254.4 356.0 254.8 C355.3 255.1 353.7 254.3 353.2 254.2"/>
<path class="k" d="M346.6 248.1 L347.1 253.7 M350.4 248.1 L351.0 252.6 M334.4 261.4 L341.0 264.7 L349.9 263.6"/>
<path class="kf" d="M333.3 263.6 L341.0 265.3 L350.8 263.6 L353.2 281.3 L356.0 301.2 L356.7 310.0 L348.8 310.0 L346.6 292.3 L344.9 281.3 L343.8 292.3 L345.5 310.0 L339.7 310.0 L336.6 285.7Z"/>
<path d="M343.3 266.9 L346.6 281.3 L350.4 299.0 L351.5 308.9" style="fill:none;stroke:#fff;stroke-width:.5"/>
<path d="M337.7 270.2 L339.9 286.8 L342.2 303.4" style="fill:none;stroke:#fff;stroke-width:.5"/>
<path class="k" d="M351.5 264.7 L354.9 285.7 L357.1 302.3"/>
<path class="kt" d="M364.0 222.0 L467.9 218.2 M364.0 235.2 L463.4 231.5 M390.5 195.0 L391.0 221.5 M400.5 195.0 L401.1 221.1 M415.9 195.0 L416.6 208.3 M421.9 203.8 L422.6 220.4 M364.0 270.1 L452.4 267.9 M419.2 246.9 L423.7 259.1 M459.0 225.9 L465.7 224.8 M483.3 234.8 L509.9 233.0 M467.9 218.2 L474.5 230.4 L481.1 242.5 M511.0 228.1 L518.7 239.2 L524.0 250.2 M509.9 259.1 L524.0 256.9 M470.1 195.0 L470.5 201.6"/>
<path class="r2" d="M370.6 208.3 C370.3 207.5 368.5 205.0 368.9 203.8 C369.2 202.7 371.4 201.4 372.8 201.2 C374.3 201.0 376.8 201.6 377.7 202.7 C378.6 203.9 378.8 206.6 378.4 208.3 C377.9 209.9 375.6 211.9 375.0 212.7"/>
<path class="r2" d="M368.4 210.5 C368.1 212.7 366.0 218.9 366.2 223.7 C366.4 228.5 368.2 234.4 369.5 239.2 C370.8 244.0 373.8 247.7 373.9 252.5 C374.1 257.2 371.5 263.7 370.6 267.9 C369.8 272.2 369.2 276.2 368.9 277.9"/>
<path class="r2" d="M380.6 214.9 C381.3 217.1 384.1 223.4 385.0 228.1 C385.9 232.9 385.5 238.5 386.1 243.6 C386.7 248.8 388.3 253.6 388.3 259.1 C388.3 264.6 386.5 273.8 386.1 276.8"/>
<path class="r2" d="M373.9 252.5 C374.9 253.9 378.4 257.2 379.5 261.3 C380.6 265.3 380.4 274.2 380.6 276.8"/>
<path class="r2" d="M368.9 277.9 L375.0 280.1 M380.6 277.2 L390.5 279.4 M372.8 217.1 L375.0 234.8 L370.6 239.2 M377.3 219.3 L381.7 237.0"/>
<path class="r2" d="M394.9 211.6 C394.8 210.9 393.5 208.7 393.8 207.8 C394.2 206.9 396.0 206.0 397.1 206.0 C398.3 206.1 400.1 207.0 400.5 208.3 C400.8 209.5 399.5 212.9 399.4 213.8"/>
<path class="r2" d="M393.8 216.0 C394.0 218.4 394.0 225.4 394.9 230.4 C395.9 235.3 397.9 241.0 399.4 245.8 C400.8 250.6 404.1 254.9 403.8 259.1 C403.4 263.3 399.2 269.0 397.1 271.2 C395.1 273.5 392.5 272.5 391.6 272.8"/>
<path class="r2" d="M404.9 217.1 C405.6 219.3 408.2 225.6 409.3 230.4 C410.4 235.1 410.8 240.7 411.5 245.8 C412.3 251.0 412.8 256.0 413.7 261.3 C414.6 266.6 416.5 275.1 417.0 277.9"/>
<path class="r2" d="M403.8 259.1 C404.7 260.6 408.0 265.0 409.3 267.9 C410.6 270.9 411.1 275.3 411.5 276.8"/>
<path class="r2" d="M391.6 272.8 L399.4 274.6 M408.2 278.5 L418.1 279.4 M397.1 219.3 L399.4 239.2 L397.1 248.0 M402.7 221.5 L407.1 242.5"/>
<path class="r2" d="M430.3 204.9 C430.1 204.2 428.8 201.6 429.2 200.5 C429.6 199.4 431.7 198.3 433.0 198.3 C434.2 198.3 436.3 199.2 436.9 200.5 C437.5 201.8 436.6 205.1 436.5 206.0"/>
<path class="r2" d="M440.2 206.0 C440.1 205.3 438.9 202.7 439.1 201.6 C439.4 200.6 440.9 199.7 441.8 199.9 C442.7 200.0 444.4 201.3 444.7 202.7 C445.0 204.1 443.7 207.3 443.6 208.3"/>
<path class="r2" d="M429.9 208.3 C429.6 210.8 428.0 218.6 428.1 223.7 C428.2 228.9 429.0 234.4 430.3 239.2 C431.6 244.0 435.1 248.0 435.8 252.5 C436.6 256.9 435.8 261.6 434.7 265.7 C433.6 269.8 430.1 275.3 429.2 277.2"/>
<path class="r2" d="M441.3 210.5 C441.7 213.0 443.4 220.8 443.6 225.9 C443.7 231.1 442.8 236.3 442.5 241.4 C442.1 246.6 442.1 252.5 441.3 256.9 C440.6 261.3 438.6 266.1 438.0 267.9"/>
<path class="r2" d="M428.1 277.9 L435.2 279.0 M440.2 273.5 L449.1 275.0 L448.0 271.2 M432.5 212.7 L435.2 228.1 L433.0 241.4 M438.0 214.9 L440.2 239.2 M435.2 252.9 L440.2 256.9"/>
<path class="r" d="M449.1 212.7 L449.1 267.9 M446.2 214.9 L446.2 265.7"/>
<path class="r2" d="M392.3 283.4 L392.3 307.9"/>
<path class="kf" d="M379.5 197.4 L383.9 197.2 L384.1 200.5 L379.7 200.7Z"/>
<path class="kf" d="M382.1 210.0 L386.5 209.8 L386.8 213.1 L382.3 213.3Z"/>
<path class="kf" d="M400.5 195.7 L404.9 195.4 L405.1 198.8 L400.7 199.0Z"/>
<path class="kf" d="M401.6 210.2 L406.0 210.0 L406.2 213.3 L401.8 213.6Z"/>
<path class="kf" d="M425.9 194.8 L430.3 194.6 L430.5 197.9 L426.1 198.1Z"/>
<path class="kf" d="M430.3 207.2 L434.7 206.9 L434.9 210.2 L430.5 210.5Z"/>
<path class="kf" d="M433.6 221.3 L438.0 221.1 L438.3 224.4 L433.8 224.6Z"/>
<path class="kf" d="M449.1 199.2 L453.5 199.0 L453.7 202.3 L449.3 202.5Z"/>
<path class="kf" d="M453.5 214.7 L457.9 214.4 L458.1 217.8 L453.7 218.0Z"/>
<path class="k2" d="M364.0 298.0 L403.8 296.7 L441.3 295.6 M368.0 296.2 L364.0 298.2 L368.4 299.8"/>
<path class="kf" d="M466.0 246.6 C466.3 245.4 467.3 243.2 468.8 242.2 C470.2 241.1 472.5 240.6 474.8 240.5 C477.1 240.4 480.3 240.9 482.6 241.6 C484.9 242.3 487.5 243.2 488.6 244.9 C489.8 246.7 489.5 250.0 489.4 252.1 C489.3 254.2 489.1 256.2 488.1 257.6 C487.1 259.0 485.3 260.0 483.7 260.4 C482.0 260.8 479.6 260.5 478.1 259.8 C476.7 259.2 475.6 258.2 474.8 256.5 C474.1 254.9 474.5 251.4 473.7 249.9 C473.0 248.4 471.5 247.8 470.4 247.7 C469.3 247.6 467.8 249.5 467.1 249.3 C466.4 249.2 465.7 247.8 466.0 246.6Z"/>
<path class="k" d="M467.1 243.3 L465.4 241.0 M471.5 241.0 L471.0 238.8 M478.1 240.8 L479.3 238.6 M484.8 242.4 L487.5 240.5 M488.6 245.5 L491.4 244.9 M489.2 252.1 L491.2 253.8 M478.1 259.8 L477.6 262.6 M483.7 260.4 L485.3 263.1"/>
<path class="k2" d="M467.1 249.3 C466.8 250.1 465.4 252.2 465.4 253.8 C465.4 255.3 466.2 257.4 467.1 258.7 C468.0 260.0 470.3 261.0 471.0 261.5"/>
<path class="kf" d="M458.3 273.1 C459.0 269.2 459.5 268.2 461.6 266.5 C463.6 264.7 467.7 263.1 470.4 262.6 C473.2 262.0 475.8 263.2 478.1 263.1 C480.5 263.1 482.2 262.2 484.8 262.0 C487.4 261.9 491.0 261.3 493.6 262.0 C496.2 262.8 498.3 264.4 500.2 266.5 C502.2 268.5 503.8 272.2 505.2 274.2 C506.6 276.2 508.6 277.1 508.5 278.6 C508.4 280.1 505.9 280.8 504.7 283.0 C503.5 285.2 502.5 288.9 501.4 291.9 C500.2 294.8 499.3 298.3 498.0 300.7 C496.7 303.1 496.9 305.5 493.6 306.2 C490.3 307.0 482.9 305.7 478.1 305.4 C473.4 305.0 468.3 304.6 464.9 304.0 C461.5 303.4 459.0 304.2 457.7 301.8 C456.4 299.4 457.1 294.5 457.2 289.7 C457.2 284.9 457.5 277.0 458.3 273.1Z"/>
<path d="M472.6 266.5 L481.5 274.2 L489.2 265.4" style="fill:none;stroke:#fff;stroke-width:.55"/>
<path d="M471.0 268.1 L481.5 277.5" style="fill:none;stroke:#fff;stroke-width:.55"/>
<path d="M475.9 281.9 L489.2 272.0" style="fill:none;stroke:#fff;stroke-width:.55"/>
<path d="M478.1 287.5 L491.4 276.4" style="fill:none;stroke:#fff;stroke-width:.55"/>
<path d="M467.1 287.5 L470.4 285.2" style="fill:none;stroke:#fff;stroke-width:.55"/>
<path d="M461.6 276.4 L462.7 296.3" style="fill:none;stroke:#fff;stroke-width:.55"/>
<path d="M496.9 274.2 L500.2 287.5" style="fill:none;stroke:#fff;stroke-width:.55"/>
<path class="k" d="M457.2 301.8 L459.4 307.3 L461.6 314.0 M464.9 305.1 L493.6 306.8"/>
<path class="k2" d="M475.6 195.0 L476.7 204.9 M483.3 199.4 L483.8 217.1 M492.2 195.0 L493.3 206.0 M496.6 195.0 L497.5 207.2 M478.9 200.5 L496.6 199.9"/>
<path class="k2" d="M464.6 208.7 L472.3 210.5 M481.1 217.1 L485.5 218.2 M490.0 215.3 L494.4 216.7"/>
<path class="bf" d="M507.6 197.2 L524.0 195.0 L524.0 206.0 L509.9 207.2Z" style="fill:#d3e0f4"/>
<path class="k2" d="M505.4 195.0 L507.6 207.2 L524.0 205.6 M507.2 208.3 L506.5 219.3 M505.4 197.2 L518.7 195.0"/>
<path class="bf" d="M554.9 230.4 C552.4 227.6 553.5 219.1 553.8 214.9 C554.2 210.7 555.5 207.2 557.1 204.9 C558.8 202.7 561.6 201.6 563.8 201.6 C566.0 201.6 569.1 202.4 570.4 204.9 C571.7 207.5 571.7 212.7 571.5 217.1 C571.3 221.5 572.1 229.3 569.3 231.5 C566.5 233.7 557.5 233.1 554.9 230.4Z" style="fill:#d3e0f4"/>
<path class="k2" d="M554.9 230.4 C554.8 227.8 553.5 219.1 553.8 214.9 C554.2 210.7 555.5 207.2 557.1 204.9 C558.8 202.7 561.6 201.6 563.8 201.6 C566.0 201.6 569.1 202.4 570.4 204.9 C571.7 207.5 571.7 212.7 571.5 217.1 C571.3 221.5 569.7 229.1 569.3 231.5"/>
<path class="k" d="M556.5 229.3 C556.4 227.0 555.7 219.6 556.0 216.0 C556.4 212.4 557.4 209.7 558.7 207.8 C560.0 205.9 562.2 204.7 563.8 204.7 C565.4 204.7 567.3 205.6 568.2 207.8 C569.1 210.1 569.4 214.4 569.3 218.2 C569.2 222.0 567.8 228.3 567.5 230.4"/>
<path class="bf" d="M542.8 225.9 L554.9 223.7 L569.3 231.5 L558.3 240.3 L545.0 234.8Z" style="fill:#c5d6f0"/>
<path class="k2" d="M542.8 225.9 L554.9 223.7 L569.3 231.5 L558.3 240.3 L545.0 234.8Z"/>
<path class="k2" d="M543.9 234.8 L543.4 246.9 M558.3 240.3 L557.8 254.7 M568.9 232.6 L569.3 249.1 M556.0 238.1 L555.6 245.8"/>
<path class="b" d="M558.3 210.5 L567.1 208.3 M557.1 214.9 L568.9 212.7 M557.1 219.3 L569.3 217.5 M557.8 223.7 L569.3 222.6 M546.1 228.1 L562.7 232.6 M545.4 231.5 L559.4 237.0"/>
<path class="bf" d="M575.9 242.5 C573.4 239.8 574.5 231.3 574.8 227.0 C575.2 222.8 576.5 219.3 578.1 217.1 C579.8 214.9 582.6 213.8 584.8 213.8 C587.0 213.8 590.1 214.5 591.4 217.1 C592.7 219.7 592.7 224.8 592.5 229.3 C592.3 233.7 593.1 241.4 590.3 243.6 C587.5 245.8 578.5 245.3 575.9 242.5Z" style="fill:#d3e0f4"/>
<path class="k2" d="M575.9 242.5 C575.7 239.9 574.5 231.3 574.8 227.0 C575.2 222.8 576.5 219.3 578.1 217.1 C579.8 214.9 582.6 213.8 584.8 213.8 C587.0 213.8 590.1 214.5 591.4 217.1 C592.7 219.7 592.7 224.8 592.5 229.3 C592.3 233.7 590.7 241.2 590.3 243.6"/>
<path class="k" d="M577.5 241.4 C577.4 239.2 576.7 231.7 577.0 228.1 C577.4 224.6 578.4 221.9 579.7 220.0 C581.0 218.1 583.2 216.9 584.8 216.9 C586.4 216.9 588.3 217.7 589.2 220.0 C590.1 222.2 590.4 226.6 590.3 230.4 C590.2 234.1 588.8 240.5 588.5 242.5"/>
<path class="bf" d="M563.8 238.1 L575.9 235.9 L590.3 243.6 L579.2 252.5 L566.0 246.9Z" style="fill:#c5d6f0"/>
<path class="k2" d="M563.8 238.1 L575.9 235.9 L590.3 243.6 L579.2 252.5 L566.0 246.9Z"/>
<path class="k2" d="M564.9 246.9 L564.4 259.1 M579.2 252.5 L578.8 266.8 M589.9 244.7 L590.3 261.3 M577.0 250.2 L576.6 258.0"/>
<path class="b" d="M579.2 222.6 L588.1 220.4 M578.1 227.0 L589.9 224.8 M578.1 231.5 L590.3 229.7 M578.8 235.9 L590.3 234.8 M567.1 240.3 L583.7 244.7 M566.4 243.6 L580.4 249.1"/>
<path class="bf" d="M533.9 214.9 C531.4 212.1 532.5 203.7 532.8 199.4 C533.2 195.2 534.5 191.7 536.2 189.5 C537.8 187.3 540.6 186.2 542.8 186.2 C545.0 186.2 548.1 186.9 549.4 189.5 C550.7 192.1 550.7 197.2 550.5 201.6 C550.3 206.0 551.1 213.8 548.3 216.0 C545.5 218.2 536.5 217.7 533.9 214.9Z" style="fill:#d3e0f4"/>
<path class="k2" d="M533.9 214.9 C533.8 212.3 532.5 203.7 532.8 199.4 C533.2 195.2 534.5 191.7 536.2 189.5 C537.8 187.3 540.6 186.2 542.8 186.2 C545.0 186.2 548.1 186.9 549.4 189.5 C550.7 192.1 550.7 197.2 550.5 201.6 C550.3 206.0 548.7 213.6 548.3 216.0"/>
<path class="k" d="M535.5 213.8 C535.4 211.6 534.7 204.1 535.0 200.5 C535.4 197.0 536.4 194.2 537.7 192.3 C539.0 190.5 541.2 189.3 542.8 189.3 C544.4 189.3 546.3 190.1 547.2 192.3 C548.1 194.6 548.4 199.0 548.3 202.7 C548.2 206.5 546.8 212.9 546.5 214.9"/>
<path class="bf" d="M521.8 210.5 L533.9 208.3 L548.3 216.0 L537.3 224.8 L524.0 219.3Z" style="fill:#c5d6f0"/>
<path class="k2" d="M521.8 210.5 L533.9 208.3 L548.3 216.0 L537.3 224.8 L524.0 219.3Z"/>
<path class="k2" d="M522.9 219.3 L522.5 231.5 M537.3 224.8 L536.8 239.2 M547.9 217.1 L548.3 233.7 M535.0 222.6 L534.6 230.4"/>
<path class="b" d="M537.3 195.0 L546.1 192.8 M536.2 199.4 L547.9 197.2 M536.2 203.8 L548.3 202.1 M536.8 208.3 L548.3 207.2 M525.1 212.7 L541.7 217.1 M524.4 216.0 L538.4 221.5"/>
<path class="bf" d="M515.2 207.2 C512.6 204.4 513.7 195.9 514.1 191.7 C514.4 187.4 515.7 184.0 517.4 181.7 C519.0 179.5 521.8 178.4 524.0 178.4 C526.2 178.4 529.3 179.2 530.6 181.7 C531.9 184.3 531.9 189.5 531.7 193.9 C531.6 198.3 532.3 206.0 529.5 208.3 C526.8 210.5 517.7 209.9 515.2 207.2Z" style="fill:#d3e0f4"/>
<path class="k2" d="M515.2 207.2 C515.0 204.6 513.7 195.9 514.1 191.7 C514.4 187.4 515.7 184.0 517.4 181.7 C519.0 179.5 521.8 178.4 524.0 178.4 C526.2 178.4 529.3 179.2 530.6 181.7 C531.9 184.3 531.9 189.5 531.7 193.9 C531.6 198.3 529.9 205.9 529.5 208.3"/>
<path class="k" d="M516.7 206.0 C516.6 203.8 515.9 196.4 516.3 192.8 C516.6 189.2 517.6 186.5 518.9 184.6 C520.2 182.7 522.4 181.5 524.0 181.5 C525.6 181.5 527.5 182.4 528.4 184.6 C529.3 186.9 529.6 191.2 529.5 195.0 C529.4 198.8 528.1 205.1 527.8 207.2"/>
<path class="bf" d="M503.0 202.7 L515.2 200.5 L529.5 208.3 L518.5 217.1 L505.2 211.6Z" style="fill:#c5d6f0"/>
<path class="k2" d="M503.0 202.7 L515.2 200.5 L529.5 208.3 L518.5 217.1 L505.2 211.6Z"/>
<path class="k2" d="M504.1 211.6 L503.7 223.7 M518.5 217.1 L518.0 231.5 M529.1 209.4 L529.5 225.9 M516.3 214.9 L515.8 222.6"/>
<path class="b" d="M518.5 187.3 L527.3 185.1 M517.4 191.7 L529.1 189.5 M517.4 196.1 L529.5 194.3 M518.0 200.5 L529.5 199.4 M506.3 204.9 L522.9 209.4 M505.7 208.3 L519.6 213.8"/>
<path class="k" d="M524.0 252.9 L529.5 254.7 L526.2 258.0 M532.8 259.1 L552.7 261.3 M545.0 266.2 L551.6 267.5 M576.6 291.1 L577.0 298.9"/>
<path class="kf" d="M524.0 251.4 L528.0 250.7 L528.9 255.1 L524.4 256.4Z"/>
<path class="k2" d="M621.2 245.4 C621.8 244.4 622.7 240.7 624.6 239.2 C626.4 237.7 629.9 236.5 632.3 236.5 C634.7 236.5 637.4 237.7 638.9 239.2 C640.4 240.7 641.9 244.4 641.1 245.8 C640.4 247.3 636.7 247.9 634.5 248.0 C632.3 248.2 630.2 247.2 627.9 246.9 C625.6 246.6 622.0 246.4 620.8 246.3"/>
<path class="k2" d="M620.4 244.7 L629.0 246.9 M632.3 237.0 L634.5 247.6"/>
<path class="k" d="M627.9 240.3 L633.4 238.1 M635.6 239.2 L639.4 242.5"/>
<path class="k2" d="M624.6 248.0 C624.4 249.1 623.1 252.8 623.4 254.7 C623.8 256.5 625.3 258.4 626.8 259.1 C628.2 259.8 630.8 259.6 632.3 258.6 C633.8 257.7 634.9 255.3 635.6 253.6 C636.3 251.8 636.5 249.0 636.7 248.0"/>
<path class="kf" d="M623.0 247.6 C623.7 247.0 627.1 246.7 627.9 247.2 C628.6 247.6 628.1 249.7 627.4 250.2 C626.8 250.8 624.6 251.1 623.9 250.7 C623.2 250.2 622.3 248.2 623.0 247.6Z"/>
<path class="k2" d="M626.8 259.1 C625.5 259.5 620.7 259.5 619.0 261.3 C617.4 263.1 617.0 266.5 616.8 270.1 C616.6 273.8 617.2 280.1 617.9 283.4 C618.7 286.7 620.7 288.9 621.2 290.0"/>
<path class="k2" d="M633.4 259.1 C634.9 259.6 640.1 260.2 642.2 262.4 C644.3 264.6 645.6 268.8 646.0 272.3 C646.4 275.8 645.6 280.1 644.4 283.4 C643.3 286.7 640.4 289.3 638.9 292.2 C637.4 295.2 636.2 299.6 635.6 301.1"/>
<path class="k2" d="M621.2 290.0 C620.7 291.5 618.7 295.9 617.9 298.9 C617.2 301.9 617.0 306.4 616.8 307.9"/>
<path class="k2" d="M634.5 272.3 C634.9 274.2 636.7 280.1 636.7 283.4 C636.7 286.7 635.2 288.9 634.5 292.2 C633.8 295.6 632.7 301.4 632.3 303.3"/>
<path class="k" d="M619.0 263.5 L621.2 276.8 L625.7 283.4 M638.9 267.9 L641.1 281.2 M627.9 301.1 L626.8 307.9 M621.2 286.7 L634.5 290.0 M644.4 265.7 L647.8 267.9"/>
<path class="k2" d="M590.3 252.9 L603.6 261.3 L616.8 269.0"/>
<path class="k" d="M592.5 255.8 L612.4 267.9"/>
<path class="kf" d="M59.5 295.0 L76.7 295.0 L77.1 306.0 L73.8 311.6 L68.3 310.5 L67.9 301.6 L66.1 310.5 L59.9 308.3Z"/>
<path class="kf" d="M88.2 295.0 L114.7 295.0 L113.8 306.0 L110.3 308.3 L105.9 307.2 L104.1 295.0 L98.1 295.0 L97.7 307.2 L93.7 310.0 L89.1 308.3Z"/>
<path class="k2" d="M87.1 310.5 C87.8 310.9 89.7 313.4 91.5 313.1 C93.4 312.8 97.0 309.4 98.1 308.7"/>
<path class="k2" d="M99.2 312.2 C100.5 312.6 104.8 314.9 107.0 314.4 C109.1 314.0 111.2 310.2 112.1 309.4"/>
<path class="k" d="M61.7 308.7 C62.4 309.3 63.9 311.9 66.1 312.2 C68.3 312.6 73.5 311.1 74.9 310.9"/>
<path class="k2" d="M114.7 301.6 C115.8 301.3 119.0 300.5 121.3 299.4 C123.7 298.3 127.8 295.7 129.1 295.0"/>
<path class="k2" d="M72.7 323.7 C73.5 325.4 73.8 331.2 77.1 333.7 C80.5 336.1 87.5 338.5 92.6 338.5 C97.8 338.5 104.2 336.1 108.1 333.7 C112.0 331.2 114.3 326.8 115.8 323.7 C117.3 320.7 116.7 316.7 116.9 315.3"/>
<path class="k2" d="M114.3 318.2 L117.1 314.9 L119.1 318.9"/>
<path class="r2" d="M110.3 316.0 C109.7 317.5 109.2 322.5 107.0 324.8 C104.8 327.2 100.4 329.5 97.0 329.9 C93.7 330.3 89.9 328.4 87.1 327.0 C84.3 325.6 81.6 322.4 80.5 321.5"/>
<path class="r2" d="M80.5 325.5 L80.0 321.1 L84.7 321.5"/>
<text class="hw" x="63.9" y="356.4" style="font-size:5.8px" textLength="18.8" lengthAdjust="spacingAndGlyphs">1ª PAR. —</text>
<text class="hwr" x="84.9" y="356.4" style="font-size:6.6px" textLength="17.7" lengthAdjust="spacingAndGlyphs">5 MIN.</text>
<text class="hw" x="66.1" y="365.3" style="font-size:5.8px" textLength="14.4" lengthAdjust="spacingAndGlyphs">2ª PAR.</text>
<text class="hwr" x="82.7" y="364.6" style="font-size:6.6px" textLength="19.4" lengthAdjust="spacingAndGlyphs">3 · MIN.</text>
<text class="hw" x="66.1" y="374.6" style="font-size:5.8px" textLength="14.4" lengthAdjust="spacingAndGlyphs">3ª PAR.</text>
<text class="hwr" x="83.3" y="374.6" style="font-size:6.6px" textLength="18.1" lengthAdjust="spacingAndGlyphs">1 MIN.</text>
<text class="hw" x="122.5" y="391.4" style="font-size:3.6px" textLength="28.7" lengthAdjust="spacingAndGlyphs">TORMENTERA 1</text>
<text class="hw" x="164.4" y="267.4" style="font-size:3.8px">MY</text>
<text class="hw" x="157.1" y="276.2" style="font-size:3.9px" transform="rotate(-30 157.1 276.2)">BUENAS</text>
<text class="hw" x="157.8" y="283.5" style="font-size:3.9px" transform="rotate(-30 157.8 283.5)">NO TENGO</text>
<text class="hw" x="158.5" y="290.8" style="font-size:3.9px" transform="rotate(-30 158.5 290.8)">MUCHAS</text>
<text class="hw" x="159.1" y="298.1" style="font-size:3.9px" transform="rotate(-30 159.1 298.1)">PROFES DEL</text>
<text class="hw" x="159.8" y="305.4" style="font-size:3.9px" transform="rotate(-30 159.8 305.4)">COLEGIO?</text>
<text class="hw" x="160.5" y="312.7" style="font-size:3.9px" transform="rotate(-30 160.5 312.7)">EDUCACIÓN</text>
<text class="hw" x="161.1" y="320.0" style="font-size:3.9px" transform="rotate(-30 161.1 320.0)">LOS ALUMNOS</text>
<text class="hw" x="161.8" y="327.3" style="font-size:3.9px" transform="rotate(-30 161.8 327.3)">ALGUNOS</text>
<text class="hw" x="162.5" y="334.6" style="font-size:3.9px" transform="rotate(-30 162.5 334.6)">REPRESENTES</text>
<path class="k" d="M181.0 295.0 L183.2 310.5 L187.6 312.7 M191.0 295.0 L194.3 310.5 L198.7 311.6"/>
<path class="k2" d="M211.7 303.4 C213.4 302.9 218.5 301.9 221.7 300.5 C224.8 299.1 229.0 295.9 230.5 295.0"/>
<path class="k2" d="M215.5 300.5 L211.5 303.6 L216.2 304.9"/>
<text class="hwb" x="216.2" y="325.5" style="font-size:6.6px" textLength="54.1" lengthAdjust="spacingAndGlyphs">FORMACIÓN PAREJAS</text>
<text class="hw" x="213.9" y="335.4" style="font-size:4.8px" textLength="49.7" lengthAdjust="spacingAndGlyphs">¿QUIÉN SOY YO COMO</text>
<text class="hw" x="216.2" y="343.6" style="font-size:5.8px" textLength="35.4" lengthAdjust="spacingAndGlyphs">PROFE LGTBI?</text>
<text class="hw" x="215.0" y="353.1" style="font-size:4.6px" textLength="58.6" lengthAdjust="spacingAndGlyphs">MONÓLOGOS - PRESENTACIÓN</text>
<text class="hw" x="215.0" y="362.0" style="font-size:4.6px" textLength="51.9" lengthAdjust="spacingAndGlyphs">SIN TIEMPO LIMITADO.</text>
<text class="hw" x="185.4" y="370.8" style="font-size:5.0px" textLength="71.6" lengthAdjust="spacingAndGlyphs">UNO HABLA - OTRO ESCUCHA /</text>
<text class="hw" x="184.1" y="380.7" style="font-size:5.0px" textLength="82.9" lengthAdjust="spacingAndGlyphs">CAMBIO PAREJA / EL QUE ESCUCHA</text>
<text class="hw" x="191.4" y="390.7" style="font-size:5.0px" textLength="73.4" lengthAdjust="spacingAndGlyphs">AHORA HABLA / EL QUE HABLA</text>
<text class="hw" x="267.0" y="387.4" style="font-size:3.4px">AHORA</text>
<text class="hw" x="267.0" y="391.8" style="font-size:3.4px">ESCUCHA</text>
<path class="k2" d="M318.9 361.3 C319.1 359.8 318.5 355.0 320.0 352.5 C321.5 349.9 324.6 347.0 327.8 345.8 C330.9 344.7 335.9 344.5 338.8 345.4 C341.8 346.3 342.9 350.9 345.4 351.4 C348.0 351.8 353.5 347.5 354.3 348.0 C355.0 348.6 352.1 352.8 349.9 354.7 C347.6 356.5 342.5 358.4 341.0 359.1"/>
<path class="k2" d="M318.9 361.3 C320.4 361.7 324.8 363.5 327.8 363.5 C330.7 363.5 334.2 362.2 336.6 361.3 C339.0 360.4 341.2 358.5 342.1 358.0"/>
<path class="k" d="M331.1 346.3 L327.8 362.4 M331.1 346.3 L336.6 360.9 M331.1 346.3 L322.2 356.9 M331.1 346.3 L343.2 354.7"/>
<path class="kf" d="M320.7 364.6 C322.2 363.9 329.0 364.5 331.1 365.3 C333.2 366.0 334.8 368.3 333.3 369.0 C331.8 369.8 324.3 370.4 322.2 369.7 C320.1 369.0 319.2 365.3 320.7 364.6Z"/>
<path class="k2" d="M341.0 361.3 L345.4 363.5 M347.6 364.0 L351.0 366.8 L354.3 366.2 L352.5 369.7 L348.8 369.0"/>
<path class="kf" d="M339.9 295.0 L345.4 295.0 L348.8 308.3 L354.3 316.0 L345.4 317.1 L341.0 310.5Z"/>
<path class="kf" d="M351.6 295.0 L358.7 295.0 L359.8 308.3 L364.0 312.7 L364.0 315.3 L355.4 313.8 L352.5 306.0Z"/>
<path class="k2" d="M327.8 311.6 L336.6 308.7"/>
<path class="k2" d="M364.0 298.3 L408.2 296.8 L441.3 295.4 M368.4 296.1 L364.0 298.5 L368.9 300.3"/>
<path class="r2" d="M392.3 295.0 L392.3 313.8 M390.1 310.0 L392.3 314.4 L394.9 310.0"/>
<path class="k" d="M380.6 308.3 L439.1 306.5"/>
<text class="hw" x="377.3" y="323.7" style="font-size:4.2px" textLength="38.7" lengthAdjust="spacingAndGlyphs">¿QUIÉN SOY YO</text>
<text class="hw" x="381.7" y="332.1" style="font-size:4.2px" textLength="55.2" lengthAdjust="spacingAndGlyphs">COMO PROFE LGTBI ?</text>
<path class="kf" d="M457.9 295.0 C464.6 294.1 492.2 293.9 498.8 295.0 C505.4 296.1 500.3 300.2 497.7 301.6 C495.1 303.1 488.3 303.7 483.3 303.8 C478.4 304.0 472.0 303.3 467.9 302.7 C463.7 302.2 460.2 301.8 458.6 300.5 C456.9 299.2 451.2 295.9 457.9 295.0Z"/>
<path class="k2" d="M461.2 302.7 C461.8 305.9 463.7 314.3 464.6 321.5 C465.4 328.7 465.9 339.8 466.1 345.8 C466.3 351.9 465.7 356.0 465.7 358.0"/>
<path class="k2" d="M496.6 303.8 C496.2 307.2 494.7 317.1 494.4 323.7 C494.1 330.4 495.0 337.4 494.8 343.6 C494.6 349.9 493.5 358.4 493.3 361.3"/>
<path class="kf" d="M472.3 312.7 C473.0 309.7 477.1 309.4 478.9 310.5 C480.8 311.6 482.4 314.5 483.3 319.3 C484.3 324.1 484.4 332.2 484.4 339.2 C484.4 346.2 484.1 357.6 483.3 361.3 C482.6 365.0 480.8 365.0 480.0 361.3 C479.3 357.6 479.8 344.7 478.9 339.2 C478.0 333.7 475.6 332.6 474.5 328.1 C473.4 323.7 471.6 315.6 472.3 312.7Z"/>
<path class="k" d="M478.9 304.9 L480.0 314.9 M482.2 304.9 L483.3 313.8 M492.2 308.3 L493.3 339.2"/>
<path class="kf" d="M458.6 359.1 C459.3 358.0 463.0 357.0 465.7 358.0 C468.3 359.0 473.8 363.6 474.5 365.3 C475.2 366.9 472.3 368.0 470.1 367.9 C467.9 367.8 463.2 366.1 461.2 364.6 C459.3 363.1 457.8 360.2 458.6 359.1Z"/>
<path class="kf" d="M484.4 363.5 C484.8 362.5 488.3 361.0 490.0 361.3 C491.6 361.6 494.8 364.2 494.4 365.3 C494.0 366.3 489.4 367.8 487.8 367.5 C486.1 367.2 484.1 364.5 484.4 363.5Z"/>
<path class="k2" d="M439.1 349.8 L461.2 348.0 L456.8 352.9 L463.4 354.2 M494.4 349.1 L509.9 347.2"/>
<path class="k" d="M577.0 295.0 L577.3 299.4 M536.2 312.2 L594.7 310.5 M528.4 319.3 L548.3 319.8 M539.5 310.9 L536.2 312.2 L539.9 313.6"/>
<path class="k2" d="M615.7 295.0 C615.9 297.9 616.8 306.8 616.8 312.7 C616.8 318.6 615.9 327.4 615.7 330.4"/>
<path class="k2" d="M627.9 301.6 C627.3 304.2 625.7 312.1 624.6 317.1 C623.4 322.1 621.8 329.1 621.2 331.5"/>
<path class="k2" d="M630.1 308.3 C630.8 310.5 633.0 317.5 634.5 321.5 C636.0 325.6 638.2 330.7 638.9 332.6"/>
<path class="k2" d="M640.0 295.0 C639.7 297.2 637.6 303.8 637.8 308.3 C638.0 312.7 640.2 317.5 641.1 321.5 C642.0 325.6 643.0 330.7 643.3 332.6"/>
<path class="k" d="M632.3 295.0 L634.5 303.8 L632.3 310.5 M626.8 303.8 L630.1 314.9 M615.0 330.4 L621.2 331.5"/>
<path class="kf" d="M606.9 339.2 C607.4 337.9 612.2 335.3 614.6 334.8 C617.0 334.2 620.5 334.8 621.2 335.9 C622.0 337.0 620.7 340.3 619.0 341.4 C617.4 342.5 613.3 342.9 611.3 342.5 C609.3 342.1 606.3 340.5 606.9 339.2Z"/>
<path class="kf" d="M633.4 338.1 C633.2 337.0 637.1 333.2 638.9 332.6 C640.8 331.9 644.3 333.2 644.4 334.3 C644.6 335.4 641.9 338.6 640.0 339.2 C638.2 339.8 633.6 339.2 633.4 338.1Z"/>
<path class="k" d="M605.8 340.3 L619.0 342.5 M612.4 342.5 L619.0 344.1"/>
<text class="hw" x="560.5" y="367.9" style="font-size:3.8px" textLength="39.8" lengthAdjust="spacingAndGlyphs">TORMENTERA 1.</text>
<path class="kt" d="M323.3 196.5 L395.4 194.8 L476.0 193.5 M313.4 211.2 L390.5 209.7 L470.0 208.4 M353.2 233.5 L407.9 232.0 L465.1 230.8 M310.9 192.3 L303.5 207.2 L296.0 222.1 M315.9 192.8 L307.2 209.7 L299.7 224.6 M322.1 193.5 L315.9 209.7 L310.9 222.1 M305.9 191.0 L296.0 209.7 M325.8 197.2 L325.3 210.9 M358.2 196.0 L358.7 209.7 M391.7 195.2 L392.5 209.2 M420.3 194.8 L421.6 208.4 M450.1 194.3 L452.1 207.7 M318.4 211.7 L317.1 224.6 M415.3 209.7 L425.3 232.0 M420.3 247.0 L425.3 261.9 M457.6 208.4 L470.0 224.6 M442.7 224.6 L445.2 269.3 M296.0 189.8 L310.9 191.0 L345.7 179.8 L420.3 181.1 M425.3 183.6 L476.0 194.8"/>
<path class="r" d="M340.8 192.3 C340.6 191.4 339.3 188.5 339.8 187.3 C340.2 186.1 342.2 185.1 343.2 185.3 C344.2 185.5 345.5 187.2 345.7 188.5 C346.0 189.9 344.9 192.7 344.7 193.5"/>
<path class="r" d="M351.9 184.8 C351.8 184.0 350.7 181.0 351.2 179.8 C351.6 178.7 353.6 177.6 354.7 177.8 C355.8 178.1 357.3 179.9 357.7 181.3 C358.0 182.7 356.8 185.5 356.7 186.3"/>
<path class="r" d="M340.3 194.8 C339.7 196.8 337.4 202.6 337.0 207.2 C336.7 211.7 337.4 218.8 338.3 222.1 C339.1 225.4 341.4 226.2 342.0 227.1"/>
<path class="r" d="M347.0 193.5 C347.3 195.8 348.6 202.0 348.7 207.2 C348.8 212.4 347.9 221.7 347.7 224.6"/>
<path class="r" d="M351.2 187.3 C350.9 189.8 349.5 196.4 349.5 202.2 C349.5 208.0 350.2 218.2 351.2 222.1 C352.2 226.0 354.9 225.2 355.7 225.8"/>
<path class="r" d="M357.7 187.3 C358.1 189.8 360.1 196.0 360.1 202.2 C360.2 208.4 358.5 220.9 358.2 224.6"/>
</svg></div>
<div id="p2" class="abs wht"><svg width="367.4" height="268.7" viewBox="45.6 457.6 367.4 268.7">
<path class="k2" d="M51.4 469.7 L78.0 468.4 L79.3 482.4 L80.1 507.8 L80.6 533.2 M70.4 472.2 L71.7 502.7 L73.0 533.2"/>
<path class="k" d="M61.5 544.9 L66.6 545.2"/>
<path class="k2" d="M98.4 496.4 C98.5 493.6 97.8 484.7 98.9 479.9 C99.9 475.0 102.3 470.3 104.7 467.2 C107.2 464.0 110.4 462.2 113.6 460.8 C116.8 459.5 120.4 459.2 123.8 459.0 C127.2 458.9 130.8 459.1 134.0 460.0 C137.1 461.0 140.4 462.0 142.8 464.6 C145.3 467.3 147.5 471.8 148.7 476.1 C149.8 480.3 149.5 487.7 149.7 490.0"/>
<path class="k2" d="M97.1 502.7 L146.7 500.7 M95.8 481.1 L154.3 480.4 M113.6 462.1 L114.1 500.2 M130.9 460.8 L131.9 498.9"/>
<path class="k" d="M99.6 495.1 L149.2 492.6 M121.2 459.5 L122.5 469.7 M126.3 459.5 L125.8 469.7"/>
<path class="kf" d="M102.9 472.8 L111.6 472.2 L112.1 479.9 L102.7 480.4Z"/>
<path class="kf" d="M116.2 473.5 L128.4 473.0 L128.9 480.4 L115.9 480.9Z"/>
<path class="kf" d="M133.4 472.2 L144.1 471.7 L144.6 479.4 L133.2 479.9Z"/>
<path class="kf" d="M102.2 484.4 L110.6 483.9 L111.1 491.3 L101.9 491.8Z"/>
<path class="kf" d="M117.4 483.7 L128.4 483.2 L128.9 490.0 L117.2 490.5Z"/>
<path class="kf" d="M133.4 482.9 L143.6 482.4 L144.1 490.0 L133.2 490.5Z"/>
<path class="kf" d="M109.0 464.6 L121.2 462.6 L121.8 468.4 L111.6 469.2Z"/>
<path class="kf" d="M126.8 462.6 L138.5 463.4 L139.5 467.7 L127.9 468.4Z"/>
<path class="k2" d="M217.8 459.5 L219.1 479.9 M219.1 492.6 L229.0 490.5 M217.3 482.4 L229.0 481.9"/>
<path class="kf" d="M220.4 465.9 L229.0 465.4 L229.0 476.8 L220.9 477.3Z"/>
<path class="kf" d="M77.5 534.5 C78.3 532.9 81.1 531.4 83.1 531.2 C85.1 531.0 88.5 531.6 89.5 533.2 C90.4 534.9 89.8 539.2 88.7 540.9 C87.7 542.6 84.8 543.4 83.1 543.4 C81.4 543.4 79.5 542.3 78.5 540.9 C77.6 539.4 76.8 536.1 77.5 534.5Z"/>
<path class="k2" d="M78.0 538.3 C77.0 539.4 73.0 541.7 71.7 544.7 C70.3 547.6 69.5 553.4 69.9 556.1 C70.3 558.9 72.0 559.5 74.2 561.2 C76.4 562.9 81.6 565.4 83.1 566.3"/>
<path class="kf" d="M97.1 523.1 C97.8 520.7 99.6 518.2 102.2 516.7 C104.7 515.2 109.2 513.8 112.3 514.2 C115.5 514.6 119.3 516.7 121.2 519.3 C123.2 521.8 124.7 527.1 124.3 529.4 C123.9 531.8 120.5 533.5 118.7 533.2 C116.9 533.0 115.3 528.2 113.6 528.2 C111.9 528.2 110.4 532.5 108.5 533.2 C106.6 534.0 104.0 533.2 102.2 532.7 C100.4 532.3 98.7 532.3 97.9 530.7 C97.0 529.1 96.4 525.4 97.1 523.1Z"/>
<path class="k" d="M99.6 518.0 L97.1 533.2 M106.0 515.5 L104.0 533.2 M116.2 516.7 L121.2 532.0 M121.2 520.5 L125.8 530.7"/>
<path class="k2" d="M98.4 532.0 C96.7 533.7 90.5 537.7 88.2 542.1 C85.9 546.6 84.2 554.2 84.4 558.7 C84.6 563.1 86.3 566.9 89.5 568.8 C92.7 570.7 99.0 570.1 103.5 570.1 C107.9 570.1 114.0 569.0 116.2 568.8"/>
<path class="k2" d="M108.5 533.2 C109.2 534.9 110.2 540.9 112.3 543.4 C114.5 546.0 118.3 547.6 121.2 548.5 C124.2 549.4 128.7 548.9 130.1 549.0"/>
<path class="k2" d="M106.0 540.9 C106.2 543.0 106.0 550.7 107.3 553.6 C108.5 556.5 110.0 557.3 113.6 558.1 C117.2 559.0 126.5 557.3 128.9 558.7 C131.2 560.0 129.3 563.3 127.6 566.3 C125.9 569.2 121.4 573.0 118.7 576.4 C116.0 579.9 112.8 585.1 111.6 586.9"/>
<path class="k2" d="M116.2 568.8 C114.9 570.5 110.4 576.0 108.5 579.0 C106.6 582.0 105.4 585.6 104.7 586.9"/>
<path class="k" d="M102.2 558.7 L111.1 557.4 M121.2 563.7 L116.2 573.9"/>
<path class="k2" d="M74.2 558.7 L75.0 571.4 L76.0 584.1 M73.0 572.6 L99.6 571.4 M83.1 573.9 L83.6 586.9 M99.6 571.9 L100.4 581.5"/>
<path class="rf" d="M93.3 580.3 L98.4 579.8 L98.9 586.9 L93.3 586.9Z"/>
<path class="kf" d="M125.1 553.6 C125.1 552.3 128.2 552.0 131.4 551.5 C134.6 551.1 141.1 550.7 144.1 551.0 C147.2 551.4 149.5 552.4 149.7 553.6 C149.9 554.8 148.4 557.2 145.4 558.1 C142.3 559.1 134.8 559.9 131.4 559.2 C128.0 558.4 125.1 554.8 125.1 553.6Z"/>
<path class="k2" d="M143.6 558.7 L142.8 568.8 M151.7 554.8 L152.2 573.9 M131.4 559.2 L136.5 561.2 L146.7 558.7"/>
<path class="k" d="M134.0 540.9 L149.2 536.3 L154.8 546.5 L139.5 551.5Z"/>
<path class="k" d="M139.5 544.7 L141.6 548.5 M142.8 542.9 L144.6 547.2 M146.1 541.9 L147.7 546.0 M148.7 540.9 L150.7 544.9"/>
<path class="rf" d="M126.8 538.8 L129.4 537.3 L138.5 548.5 L136.0 550.0Z"/>
<path class="kf" d="M151.2 504.0 C151.7 502.7 152.6 500.7 154.8 499.7 C157.0 498.7 161.8 497.7 164.4 498.2 C167.1 498.7 169.6 501.3 170.8 502.7 C172.0 504.1 172.6 506.3 171.6 506.6 C170.5 506.8 166.9 504.4 164.4 504.0 C162.0 503.6 158.9 503.7 156.8 504.3 C154.8 504.8 153.2 507.4 152.2 507.3 C151.3 507.3 150.8 505.3 151.2 504.0Z"/>
<path class="k2" d="M152.2 506.6 C152.2 507.4 151.0 510.2 151.7 511.6 C152.5 513.0 154.7 514.5 156.8 514.9 C158.9 515.4 162.3 515.2 164.4 514.4 C166.6 513.7 168.6 511.9 169.5 510.4 C170.5 508.8 170.0 506.1 170.0 505.3"/>
<path class="k" d="M156.8 507.8 L159.4 507.6 M163.9 507.3 L166.5 507.1 M161.4 509.1 L160.9 511.6 M158.9 512.9 L164.4 512.4"/>
<path class="k" d="M153.0 497.7 L154.3 495.1 M170.8 504.0 L172.6 505.8"/>
<path class="k2" d="M150.5 511.6 C149.2 512.5 144.4 513.5 142.8 516.7 C141.3 519.9 140.4 526.7 141.1 530.7 C141.7 534.7 144.7 538.1 146.7 540.9 C148.6 543.6 152.0 546.2 153.0 547.2"/>
<path class="k2" d="M170.0 511.6 C170.9 513.1 174.0 517.1 175.1 520.5 C176.2 523.9 177.2 529.4 176.6 532.0 C176.1 534.5 172.8 535.1 172.1 535.8"/>
<path class="k2" d="M153.0 547.2 C155.3 548.3 162.1 551.7 167.0 553.6 C171.9 555.5 179.9 556.5 182.2 558.7 C184.6 560.8 182.7 563.7 181.0 566.3 C179.3 568.8 174.4 570.7 172.1 573.9 C169.7 577.1 167.8 583.4 167.0 585.3"/>
<path class="k2" d="M154.3 552.3 C156.0 553.8 163.4 557.6 164.4 561.2 C165.5 564.8 161.7 569.9 160.6 573.9 C159.6 577.9 158.5 583.4 158.1 585.3"/>
<path class="k" d="M172.1 561.2 L164.4 571.4 M177.2 566.3 L172.1 576.4"/>
<path class="rf" d="M162.4 531.2 L165.5 530.2 L171.6 543.9 L168.5 545.4Z"/>
<path class="k" d="M163.9 546.5 L178.4 542.1 L185.3 554.1 L170.8 559.2Z"/>
<path class="k" d="M169.5 549.0 L177.2 546.5 M170.8 551.5 L179.2 549.0 M172.1 554.1 L180.2 551.5 M173.3 556.1 L179.7 554.3"/>
<path class="rf" d="M158.1 584.6 C159.6 584.0 163.8 583.5 167.0 583.6 C170.2 583.6 175.5 584.3 177.2 584.8 C178.8 585.4 179.8 586.5 176.6 586.9 C173.5 587.2 161.2 587.2 158.1 586.9 C155.0 586.5 156.6 585.1 158.1 584.6Z"/>
<path class="k2" d="M172.1 540.9 L189.9 540.6 L207.7 540.4"/>
<path class="k2" d="M229.0 501.5 C228.2 501.9 225.2 502.3 224.2 504.0 C223.2 505.7 222.6 509.4 222.9 511.6 C223.2 513.9 224.9 516.4 226.0 517.5 C227.0 518.5 228.5 517.9 229.0 518.0"/>
<path class="k2" d="M222.9 514.2 C221.2 513.8 215.3 510.2 212.7 511.6 C210.2 513.1 208.8 519.5 207.7 523.1 C206.5 526.7 205.2 530.5 205.6 533.2 C206.0 536.0 209.4 538.5 210.2 539.6"/>
<path class="k2" d="M212.7 521.8 C212.9 523.3 212.3 527.9 214.0 530.7 C215.7 533.5 221.4 537.1 222.9 538.3"/>
<path class="kf" d="M210.2 540.4 L226.7 539.6 L227.5 544.7 L210.7 545.4Z"/>
<path class="k2" d="M206.4 544.7 C206.6 545.5 205.3 548.5 207.7 549.8 C210.0 551.0 216.8 552.0 220.4 552.3 C223.9 552.6 227.6 551.7 229.0 551.5"/>
<path class="k2" d="M220.4 553.1 C219.5 554.8 217.4 560.7 215.3 563.7 C213.2 566.8 208.9 570.1 207.7 571.4"/>
<path class="k2" d="M229.0 556.1 C228.4 558.2 226.5 565.2 225.4 568.8 C224.4 572.4 223.3 576.2 222.9 577.7"/>
<path class="rf" d="M220.4 528.9 L223.9 528.7 L224.4 538.3 L221.4 538.8Z"/>
<path class="rf" d="M200.5 571.9 C201.0 570.8 205.4 570.0 207.7 570.1 C209.9 570.2 213.4 571.4 214.0 572.6 C214.6 573.9 213.0 576.8 211.5 577.5 C209.9 578.1 206.4 577.4 204.6 576.4 C202.8 575.5 200.0 572.9 200.5 571.9Z"/>
<path class="rf" d="M220.4 581.0 C221.0 579.4 224.5 577.3 226.0 576.4 C227.4 575.6 228.5 574.5 229.0 575.9 C229.5 577.4 230.1 583.6 229.0 585.3 C227.9 587.0 223.8 586.8 222.4 586.1 C221.0 585.4 219.8 582.6 220.4 581.0Z"/>
<path class="k" d="M212.7 523.1 L217.8 521.8 M208.9 533.2 L220.4 534.5"/>
<path class="k2" d="M234.1 459.5 L234.6 485.0 M261.5 459.5 L262.0 482.4 M268.4 459.5 L269.2 490.0 M229.0 490.0 L262.0 489.5 M229.0 464.6 L262.0 464.1"/>
<path class="k2" d="M259.3 465.2 L261.0 479.4 L258.7 479.5 L257.0 465.2 L255.9 465.2 L255.2 479.6 L253.0 479.6 L253.6 465.3 L250.3 465.4 L251.7 479.7 L249.3 479.7 L248.1 465.4 L245.9 465.5 L246.9 479.8 L244.1 479.9 L244.1 465.5 L241.5 465.6 L242.2 480.0 L240.0 480.0 L239.2 465.7 L236.9 465.7 L237.6 480.1 L234.8 480.2 L235.2 465.7 L232.5 465.8 L232.9 480.3 L230.5 480.3 L230.3 465.9"/>
<path class="k2" d="M273.6 466.2 L274.5 477.4 L272.8 477.5 L271.2 466.3 L269.2 466.4 L270.7 477.6 L268.2 477.7 L267.7 466.5 L265.8 466.6 L266.0 477.8"/>
<path class="k2" d="M229.0 500.7 C229.8 501.0 232.4 501.1 233.6 502.2 C234.8 503.4 236.0 505.7 236.1 507.8 C236.2 509.9 235.3 513.5 234.1 514.9 C232.9 516.4 229.8 516.4 229.0 516.7"/>
<path class="kf" d="M229.0 500.2 C229.8 499.7 232.9 500.5 234.1 501.5 C235.3 502.4 236.5 505.4 236.1 505.8 C235.7 506.2 232.7 504.2 231.5 504.0 C230.4 503.8 229.4 505.4 229.0 504.8 C228.6 504.1 228.2 500.8 229.0 500.2Z"/>
<path class="kf" d="M240.4 513.4 L246.8 512.9 L247.3 531.2 L241.2 532.0Z"/>
<path class="k2" d="M229.0 518.0 C230.3 518.4 234.7 518.0 236.6 520.5 C238.5 523.1 240.0 529.9 240.4 533.2 C240.9 536.6 239.4 539.6 239.2 540.9"/>
<path class="kf" d="M229.0 542.1 C231.3 539.9 240.1 539.7 243.0 540.4 C245.9 541.0 246.5 544.0 246.3 546.0 C246.1 547.9 244.6 551.0 241.7 552.3 C238.8 553.6 231.1 555.3 229.0 553.6 C226.9 551.9 226.7 544.3 229.0 542.1Z"/>
<path class="k2" d="M237.9 553.6 L238.7 568.8 M244.8 546.0 L245.5 554.8 M229.0 554.8 L230.3 576.4 M233.6 523.1 L234.6 535.8"/>
<path class="k2" d="M246.8 539.6 L269.7 538.8 M319.2 538.3 L331.9 537.8 M373.9 538.3 L401.8 536.3 M394.2 537.8 L410.7 550.5"/>
<path class="kf" d="M285.4 506.6 C285.6 505.5 287.2 503.3 288.7 502.7 C290.2 502.2 293.2 502.5 294.6 503.3 C296.0 504.0 297.4 506.6 297.1 507.3 C296.8 508.1 294.1 507.5 292.5 507.8 C290.9 508.1 288.6 509.3 287.5 509.1 C286.3 508.9 285.2 507.6 285.4 506.6Z"/>
<path class="k2" d="M286.2 507.8 C286.1 508.9 284.9 512.5 285.4 514.2 C286.0 515.9 287.9 517.5 289.5 518.0 C291.1 518.5 293.7 518.0 295.1 517.0 C296.4 515.9 297.4 513.4 297.6 511.6 C297.9 509.9 296.8 507.4 296.6 506.6"/>
<path class="k" d="M288.7 510.9 L290.8 510.6 M293.0 510.4 L295.1 510.1 M289.5 514.9 L294.1 514.2"/>
<path class="k2" d="M288.7 518.5 C287.9 519.7 284.2 523.2 283.6 525.6 C283.1 528.1 285.1 532.0 285.4 533.2"/>
<path class="k2" d="M297.1 514.9 C298.5 515.7 303.1 516.6 305.2 519.3 C307.4 521.9 309.2 526.7 309.8 530.7 C310.5 534.7 309.8 540.0 309.1 543.4 C308.3 546.8 305.9 549.8 305.2 551.0"/>
<path class="kf" d="M309.8 523.6 L319.2 522.6 L320.5 538.8 L310.8 539.9Z"/>
<path class="kf" d="M294.6 551.5 C295.8 549.7 301.6 548.5 305.2 548.0 C308.9 547.5 315.0 546.9 316.7 548.5 C318.4 550.1 318.6 555.6 315.4 557.4 C312.2 559.2 301.1 560.1 297.6 559.2 C294.1 558.2 293.3 553.4 294.6 551.5Z"/>
<path class="k2" d="M298.9 559.2 L299.7 573.9 M315.4 557.4 L314.9 566.3"/>
<path class="k" d="M269.7 538.8 L293.8 533.8 L303.2 550.5 L283.6 555.6Z"/>
<path class="k" d="M279.8 540.9 L287.5 544.7 M283.6 539.6 L290.0 546.0 M288.7 543.4 L292.5 548.5"/>
<path class="rf" d="M291.5 539.9 L299.7 537.3 L300.7 539.9 L292.5 542.9Z"/>
<path class="k2" d="M285.4 533.2 C284.5 534.5 281.4 538.3 279.8 540.9 C278.3 543.4 278.6 544.7 276.0 548.5 C273.5 552.3 267.8 560.4 264.6 563.7 C261.4 567.1 258.2 568.0 257.0 568.8"/>
<path class="k2" d="M283.6 555.6 C281.3 557.4 272.8 563.9 269.7 566.3 C266.5 568.7 265.4 569.5 264.6 570.1"/>
<path class="k2" d="M290.0 557.4 C289.4 559.3 287.2 564.8 286.2 568.8 C285.1 572.8 284.1 579.4 283.6 581.5"/>
<path class="k2" d="M279.8 554.8 C279.6 557.2 278.9 564.4 278.6 568.8 C278.2 573.3 277.9 579.4 277.8 581.5"/>
<path class="rf" d="M253.1 566.8 C253.4 565.3 257.0 564.5 259.5 565.0 C262.0 565.6 267.1 568.5 268.4 570.1 C269.7 571.7 268.8 573.8 267.1 574.4 C265.4 575.0 260.6 575.2 258.2 573.9 C255.9 572.6 252.9 568.3 253.1 566.8Z"/>
<path class="rf" d="M270.9 584.1 C272.1 583.2 276.0 581.7 278.6 581.5 C281.1 581.3 284.9 581.9 286.2 582.8 C287.5 583.7 288.6 586.2 286.2 586.9 C283.8 587.5 274.2 587.3 271.7 586.9 C269.2 586.4 269.8 585.0 270.9 584.1Z"/>
<path class="kf" d="M349.0 511.6 C349.3 510.1 350.4 507.5 352.3 506.6 C354.1 505.6 357.9 505.2 359.9 505.8 C361.9 506.4 363.7 508.8 364.2 510.4 C364.8 511.9 364.1 514.9 363.2 514.9 C362.3 515.0 360.3 511.4 358.6 510.9 C356.9 510.3 354.4 510.8 353.0 511.6 C351.7 512.5 351.2 516.0 350.5 516.0 C349.8 516.0 348.7 513.2 349.0 511.6Z"/>
<path class="k2" d="M350.5 514.2 C350.4 515.2 349.3 518.7 350.0 520.5 C350.7 522.4 353.0 524.6 354.8 525.1 C356.6 525.6 359.2 524.8 360.6 523.6 C362.1 522.4 363.3 519.8 363.7 518.0 C364.1 516.2 363.3 513.8 363.2 512.9"/>
<path class="kf" d="M353.5 521.8 C354.4 520.7 359.7 520.0 361.2 520.5 C362.6 521.1 363.3 524.1 362.4 525.1 C361.6 526.2 357.6 527.4 356.1 526.9 C354.6 526.3 352.7 522.9 353.5 521.8Z"/>
<path class="k" d="M353.5 516.0 L355.6 515.7 M358.6 515.5 L360.6 515.2"/>
<path class="k2" d="M353.5 525.6 C351.6 525.8 344.6 524.8 342.1 526.9 C339.6 529.0 339.1 533.9 338.3 538.3 C337.4 542.8 337.2 551.0 337.0 553.6"/>
<path class="k2" d="M361.2 526.1 C362.0 527.1 365.2 528.2 366.2 532.0 C367.3 535.7 367.5 543.2 367.5 548.5 C367.5 553.8 367.3 560.1 366.2 563.7 C365.2 567.3 362.0 569.0 361.2 570.1"/>
<path class="kf" d="M362.4 540.4 L369.3 538.8 L370.3 554.1 L363.2 555.6Z"/>
<path class="k2" d="M337.0 553.6 C337.6 554.4 337.6 557.4 340.8 558.7 C344.0 559.9 351.8 561.2 356.1 561.2 C360.3 561.2 364.5 559.1 366.2 558.7"/>
<path class="k2" d="M340.8 532.0 C340.6 533.9 339.3 539.6 339.6 543.4 C339.8 547.2 341.7 552.9 342.1 554.8"/>
<path class="rf" d="M332.7 548.0 L335.7 547.2 L338.8 556.6 L335.7 557.9Z"/>
<path class="k2" d="M337.0 556.1 C335.5 556.3 331.3 555.3 328.1 557.4 C324.9 559.5 320.9 565.7 318.0 568.8 C315.0 571.9 311.6 574.8 310.3 575.9"/>
<path class="k2" d="M340.8 562.5 C339.1 563.5 334.7 566.1 330.7 568.8 C326.6 571.6 319.0 577.3 316.7 579.0"/>
<path class="k2" d="M331.9 568.8 C331.7 570.5 330.8 576.0 330.7 579.0 C330.5 582.0 331.1 585.6 331.2 586.9"/>
<path class="k2" d="M342.1 566.3 C341.9 568.4 341.0 575.6 340.8 579.0 C340.7 582.4 341.2 585.6 341.3 586.9"/>
<path class="k2" d="M342.1 576.4 L365.0 573.9 M365.0 568.8 L365.7 586.9 M353.5 576.4 L354.0 586.9"/>
<path class="kf" d="M340.8 572.6 C343.8 571.5 357.3 569.9 361.2 570.1 C365.0 570.3 366.7 572.8 363.7 573.9 C360.7 575.0 347.2 577.2 343.4 577.0 C339.6 576.7 337.9 573.8 340.8 572.6Z"/>
<path class="rf" d="M301.4 577.0 C302.4 575.6 307.7 574.8 310.3 575.2 C313.0 575.5 316.8 577.5 317.4 579.0 C318.1 580.5 316.3 583.3 314.1 584.1 C312.0 584.8 306.9 584.7 304.7 583.6 C302.6 582.4 300.5 578.4 301.4 577.0Z"/>
<path class="kf" d="M382.0 584.1 C383.1 583.2 385.8 581.6 387.8 581.5 C389.9 581.4 393.1 582.7 394.2 583.6 C395.3 584.5 396.3 586.3 394.2 586.9 C392.1 587.4 383.5 587.3 381.5 586.9 C379.5 586.4 380.9 585.0 382.0 584.1Z"/>
<path class="rf" d="M94.6 587.0 C95.2 586.3 98.2 587.1 99.6 588.0 C101.0 588.9 101.5 591.5 102.9 592.6 C104.4 593.7 108.0 593.8 108.5 594.6 C109.0 595.5 107.5 597.4 106.0 597.7 C104.5 597.9 101.3 597.1 99.6 596.1 C97.9 595.2 96.7 593.6 95.8 592.1 C95.0 590.6 93.9 587.7 94.6 587.0Z"/>
<path class="rf" d="M104.7 595.9 C105.3 595.3 109.2 597.8 111.6 597.7 C114.0 597.5 118.4 594.7 119.2 595.1 C120.0 595.6 118.0 599.2 116.2 600.2 C114.3 601.2 109.9 601.7 108.0 601.0 C106.1 600.3 104.1 596.4 104.7 595.9Z"/>
<path class="k" d="M103.5 588.3 L108.5 594.6 M107.3 587.0 L111.6 594.1 M83.6 587.0 L83.9 592.1"/>
<path class="rf" d="M158.1 587.0 C160.6 586.6 174.6 586.6 177.2 587.0 C179.7 587.4 175.9 589.1 173.3 589.5 C170.8 590.0 164.4 590.0 161.9 589.5 C159.4 589.1 155.6 587.4 158.1 587.0Z"/>
<text class="hw" x="178.4" y="602.2" style="font-size:5.0px" textLength="69.9" lengthAdjust="spacingAndGlyphs">MOMENTO DE ESCRITURA</text>
<path class="b" d="M123.8 719.2 L121.2 607.8 L229.0 609.9" style="stroke-width:1.1;stroke-dasharray:7 3"/>
<path class="r" d="M127.6 716.6 L125.8 612.4 L229.0 612.9" style="stroke-width:1.1;stroke-dasharray:5 3"/>
<path class="r" d="M127.6 716.6 L229.0 719.2" style="stroke-width:1.1;stroke-dasharray:5 3"/>
<path class="rf" d="M131.9 626.4 L220.4 626.4 L229.0 625.1 L229.0 632.7 L197.5 637.8 L186.0 631.5 L133.4 663.2Z"/>
<path class="rf" d="M131.9 667.8 L171.6 712.0 L135.2 709.0Z"/>
<path class="k" d="M132.7 665.8 L186.0 631.5 L200.0 645.5 L229.0 670.9 L229.0 693.7 L172.1 714.1Z" style="fill:#fff"/>
<path class="k" d="M158.1 677.2 L169.5 669.6 M164.4 681.0 L174.6 674.7 M169.5 684.8 L178.4 682.3 M172.1 714.1 L207.7 698.8 M182.2 711.5 L215.3 701.4 M173.3 716.1 L187.3 711.0"/>
<path class="b" d="M229.0 609.9 L295.6 611.9 L296.3 715.3" style="stroke-width:1.1;stroke-dasharray:7 3"/>
<path class="r" d="M229.0 614.4 L291.3 615.5 L290.0 714.1" style="stroke-width:1.1;stroke-dasharray:5 3"/>
<path class="r" d="M229.0 718.6 L290.0 716.6" style="stroke-width:1.1;stroke-dasharray:5 3"/>
<path class="b" d="M229.0 721.2 L296.3 719.2 L296.3 715.3" style="stroke-width:1.1;stroke-dasharray:7 3"/>
<path class="k2" d="M381.5 587.0 C381.1 588.3 378.7 592.1 378.9 594.6 C379.2 597.2 380.9 600.8 382.8 602.2 C384.7 603.7 388.5 604.4 390.4 603.5 C392.3 602.7 393.8 599.9 394.2 597.2 C394.6 594.4 393.1 588.7 392.9 587.0"/>
<path class="kf" d="M387.8 587.0 C388.3 586.2 392.9 585.7 394.2 587.0 C395.5 588.3 395.9 593.8 395.5 594.6 C395.0 595.5 392.9 593.4 391.7 592.1 C390.4 590.8 387.4 587.8 387.8 587.0Z"/>
<path class="k2" d="M378.9 601.0 C377.7 602.0 373.2 604.2 371.3 607.3 C369.4 610.5 368.4 616.7 367.5 620.0 C366.7 623.4 366.4 626.4 366.2 627.7"/>
<path class="k2" d="M394.2 602.2 C394.8 603.5 397.6 606.1 398.0 609.9 C398.4 613.7 397.8 620.7 396.7 625.1 C395.7 629.6 395.5 634.4 391.7 636.6 C387.8 638.7 376.8 637.6 373.9 637.8"/>
<path class="kf" d="M391.7 608.6 L398.8 604.8 L399.3 632.7 L395.5 637.8 L392.9 625.1Z"/>
<path class="k2" d="M381.0 615.0 C380.6 615.8 380.6 617.7 378.9 620.0 C377.3 622.4 373.2 627.7 371.3 628.9 C369.4 630.2 368.1 627.9 367.5 627.7"/>
<path class="k2" d="M366.2 620.0 C364.1 621.7 357.8 626.6 353.5 630.2 C349.3 633.8 344.2 639.3 340.8 641.6 C337.4 644.0 334.5 643.8 333.2 644.2"/>
<path class="k2" d="M371.3 628.9 C369.6 629.6 363.9 630.4 361.2 632.7 C358.4 635.1 356.1 639.1 354.8 642.9 C353.5 646.7 353.7 653.5 353.5 655.6"/>
<path class="k2" d="M366.2 631.5 C366.4 632.5 368.4 635.3 367.5 637.8 C366.7 640.4 363.1 644.1 361.2 646.7 C359.2 649.3 356.9 652.4 356.1 653.6"/>
<path class="k2" d="M333.2 644.2 C334.5 644.8 340.0 646.2 340.8 648.0 C341.7 649.8 338.7 653.9 338.3 655.1"/>
<path class="k2" d="M373.9 639.1 L369.3 664.5 M389.1 637.8 L390.6 662.0 M375.1 644.2 L389.1 641.6 M365.0 635.3 L371.3 641.6"/>
<path class="rf" d="M361.2 604.3 L364.2 603.3 L366.2 612.4 L361.2 620.0 L357.3 618.8Z"/>
<path class="k" d="M357.3 612.4 L367.5 611.1 M356.1 618.8 L367.5 620.0"/>
<path class="rf" d="M321.0 656.1 C321.6 654.8 327.1 653.6 330.7 653.6 C334.2 653.6 341.0 654.9 342.1 656.1 C343.2 657.4 339.6 660.3 337.0 661.2 C334.5 662.1 329.5 662.6 326.8 661.7 C324.2 660.9 320.4 657.5 321.0 656.1Z"/>
<path class="rf" d="M345.4 658.7 C346.5 657.8 350.9 656.6 353.5 656.9 C356.2 657.2 360.9 659.7 361.2 660.7 C361.4 661.7 357.1 662.5 354.8 662.7 C352.5 663.0 348.7 662.9 347.2 662.2 C345.6 661.5 344.3 659.6 345.4 658.7Z"/>
<path class="k" d="M318.0 655.6 L323.5 656.9 M359.9 661.2 L365.0 662.2 M334.5 641.6 L343.4 650.5 M351.0 644.2 L348.4 655.6"/>
<path class="k2" d="M331.9 587.0 L333.2 597.2 M338.8 587.0 L340.8 598.4 M353.5 587.0 L354.0 594.6"/>
<path class="rf" d="M330.7 598.4 C331.1 597.1 334.9 596.5 337.0 596.7 C339.1 596.8 342.7 597.0 343.4 599.2 C344.0 601.4 342.3 608.9 340.8 609.9 C339.3 610.8 336.2 606.7 334.5 604.8 C332.8 602.9 330.2 599.8 330.7 598.4Z"/>
<path class="rf" d="M269.7 587.0 C271.8 586.6 283.0 586.5 284.9 587.0 C286.8 587.5 283.2 589.6 281.1 590.0 C279.0 590.5 274.1 590.0 272.2 589.5 C270.3 589.0 267.5 587.4 269.7 587.0Z"/>
<text class="hw" x="302.2" y="700.1" style="font-size:5.0px" textLength="28.0" lengthAdjust="spacingAndGlyphs">→ IMAGEN</text>
<text class="hw" x="310.3" y="707.0" style="font-size:5.0px" textLength="19.8" lengthAdjust="spacingAndGlyphs">DETALLE</text>
<path class="k2" d="M188.0 656.1 C187.7 653.0 191.7 649.0 194.8 645.4 C197.9 641.9 202.9 638.4 206.4 634.8 C210.0 631.3 213.2 626.1 216.1 624.2 C219.0 622.2 220.9 622.7 223.8 623.2 C226.7 623.7 230.6 625.8 233.5 627.1 C236.4 628.4 238.3 629.2 241.2 630.9 C244.1 632.7 248.3 635.5 250.9 637.7 C253.5 640.0 255.4 640.1 256.7 644.5 C258.0 648.8 258.0 658.5 258.6 663.8 C259.3 669.1 262.5 672.8 260.6 676.4 C258.6 679.9 252.8 682.3 247.0 685.1 C241.2 687.9 231.9 694.5 225.7 693.2 C219.6 691.9 215.1 682.2 210.3 677.3 C205.4 672.4 200.4 667.4 196.7 663.8 C193.0 660.3 188.4 659.1 188.0 656.1Z" style="fill:#fff"/>
<path class="kf" d="M210.7 638.7 C212.6 636.6 215.3 633.4 218.0 632.9 C220.7 632.4 223.7 634.3 226.7 635.8 C229.8 637.2 234.0 639.2 236.4 641.6 C238.8 644.0 241.1 647.5 241.2 650.3 C241.4 653.0 239.3 655.8 237.3 658.0 C235.4 660.3 232.7 662.7 229.6 663.8 C226.6 664.9 221.4 665.7 219.0 664.8 C216.6 663.8 216.9 660.1 215.1 658.0 C213.3 655.9 209.8 654.3 208.3 652.2 C206.9 650.1 206.0 647.7 206.4 645.4 C206.8 643.2 208.7 640.8 210.7 638.7Z" style="fill:#151517"/>
<path class="kf" d="M218.0 644.5 C219.3 642.7 224.9 641.1 227.7 641.6 C230.4 642.1 234.4 645.4 234.4 647.4 C234.4 649.3 230.1 652.4 227.7 653.2 C225.3 654.0 221.6 653.7 219.9 652.2 C218.3 650.8 216.7 646.2 218.0 644.5Z" style="fill:#fff;stroke:#fff"/>
<path class="k" d="M226.7 641.7 L231.1 644.9 L233.4 648.5 L224.5 642.2 L222.2 642.9 L232.0 649.7 L230.8 650.5 L219.7 643.9 L218.3 645.0 L229.4 651.8 L228.0 653.0 L218.8 647.4 L219.1 650.2 L224.7 652.4 L220.0 652.2 L219.9 652.2"/>
<path class="k" d="M207.6 637.3 L209.0 638.8 L209.9 643.1 L206.5 638.2 L205.4 639.2 L210.9 647.3 L211.9 650.7 L203.8 640.5 L202.6 641.5 L210.7 652.3 L210.0 653.6 L201.0 642.9 L199.3 644.3 L209.4 654.8 L208.1 656.5 L198.2 645.2 L197.2 646.0 L206.7 658.3 L206.3 659.4 L196.6 649.1 L197.0 652.1 L205.2 660.9 L202.4 660.4 L197.3 655.0 L197.4 658.2 L198.2 657.8"/>
<path class="k" d="M249.9 662.1 L254.5 677.4 L253.0 677.9 L248.3 662.4 L247.2 662.6 L251.2 678.4 L250.3 678.7 L245.1 663.1 L243.6 663.4 L248.8 679.2 L246.6 679.8 L242.8 663.5 L242.6 670.7 L245.6 680.1"/>
<path class="k" d="M194.8 645.4 L201.6 649.3 L198.7 656.1 M189.0 655.1 L193.8 658.0 L196.7 663.8 M216.1 624.2 L218.0 629.0 L215.1 633.8 M223.8 623.2 L224.8 629.0 M203.5 663.8 L210.3 677.3 M208.3 667.7 L213.2 674.4 M250.9 638.7 L252.8 650.3 L256.7 658.0"/>
<path class="kf" d="M225.7 693.2 L247.0 685.1 L260.6 674.4 L272.2 692.8 L284.1 711.8 L260.6 715.6 L237.3 717.2Z"/>
<path d="M233.5 696.7 L250.9 690.9 L260.6 685.1" style="fill:none;stroke:#fff;stroke-width:.5"/>
<path d="M241.2 705.4 L260.6 700.6" style="fill:none;stroke:#fff;stroke-width:.5"/>
<path class="rf" d="M208.7 652.6 L261.5 630.6 L263.5 634.4 L210.7 657.2Z"/>
<path class="kf" d="M259.0 630.6 C259.6 629.6 263.3 628.3 264.4 628.6 C265.6 628.9 266.5 631.5 266.0 632.5 C265.4 633.5 262.1 634.7 260.9 634.4 C259.8 634.1 258.4 631.5 259.0 630.6Z"/>
<path class="rf" d="M173.9 666.7 C173.9 665.8 180.1 662.7 183.2 661.5 C186.3 660.2 190.6 658.9 192.5 659.2 C194.4 659.4 196.0 661.8 194.4 663.0 C192.9 664.3 186.6 666.1 183.2 666.7 C179.8 667.3 173.9 667.6 173.9 666.7Z"/>
<path class="k" d="M173.9 666.7 L181.3 664.8 M192.5 659.2 L194.4 663.0"/>
</svg></div>
<div id="p3" class="abs wht"><svg width="307.6" height="348.5" viewBox="416.4 458 307.6 348.5">
<path class="k2" d="M473.4 525.0 L488.3 517.1 L492.6 515.4 L513.8 517.6 L536.2 519.7 M486.2 541.4 L520.2 540.5"/>
<path class="k" d="M497.3 543.1 L497.7 566.9 L500.2 566.9 L499.8 543.1Z" style="fill:#fff"/>
<path class="r" d="M498.5 543.1 L499.0 566.9" style="stroke-width:.8;stroke-dasharray:1.6 3.2"/>
<path class="k" d="M510.9 543.2 L512.1 567.0 L514.7 566.8 L513.4 543.0Z" style="fill:#fff"/>
<path class="r" d="M512.1 543.1 L513.4 566.9" style="stroke-width:.8;stroke-dasharray:1.6 3.2"/>
<path class="k" d="M532.1 543.2 L533.8 567.0 L536.4 566.8 L534.7 543.0Z" style="fill:#fff"/>
<path class="r" d="M533.4 543.1 L535.1 566.9" style="stroke-width:.8;stroke-dasharray:1.6 3.2"/>
<path class="k" d="M486.2 543.1 L520.2 542.4 L520.2 540.3 L486.2 541.0Z" style="fill:#fff"/>
<path class="r" d="M486.2 542.0 L520.2 541.4" style="stroke-width:.8;stroke-dasharray:1.6 3.2"/>
<path class="kf" d="M452.2 542.0 C454.0 540.1 458.2 538.3 460.7 539.9 C463.2 541.5 463.9 549.1 467.0 551.6 C470.2 554.1 477.0 555.8 479.8 554.8 C482.6 553.7 481.9 545.7 484.1 545.2 C486.2 544.7 490.4 549.6 492.6 551.6 C494.7 553.5 497.2 555.4 496.8 556.9 C496.5 558.4 492.9 560.0 490.4 560.5 C488.0 561.1 483.5 559.0 481.9 560.1 C480.3 561.2 486.2 565.8 480.9 566.9 C475.6 568.0 455.2 569.5 450.0 566.9 C444.8 564.4 449.3 555.7 449.6 551.6 C450.0 547.4 450.3 544.0 452.2 542.0Z"/>
<path class="k" d="M459.6 538.8 C460.0 535.5 461.7 531.7 463.9 529.3 C466.0 526.8 469.7 524.4 472.4 524.4 C475.0 524.4 477.8 526.5 479.8 529.3 C481.8 532.0 483.9 537.6 484.5 541.0 C485.1 544.3 484.4 547.2 483.6 549.5 C482.9 551.8 482.2 554.1 479.8 554.8 C477.4 555.5 472.2 554.6 469.2 553.7 C466.2 552.8 463.3 551.9 461.7 549.5 C460.1 547.0 459.3 542.2 459.6 538.8Z" style="fill:#fff"/>
<path class="k" d="M471.7 525.0 L466.0 551.6 M474.5 525.6 L471.7 552.7 M476.6 527.1 L476.6 553.3 M468.1 527.1 L461.7 547.3 M479.4 529.3 L480.9 552.7 M481.9 534.6 L483.6 547.3 M463.9 531.4 L460.2 542.0"/>
<path class="k2" d="M527.7 497.4 C527.8 496.5 527.4 493.5 528.3 492.0 C529.2 490.6 531.1 489.2 533.0 488.8 C534.8 488.5 537.7 488.8 539.4 489.9 C541.1 491.0 542.5 492.9 543.2 495.2 C543.9 497.5 544.1 501.6 543.6 503.7 C543.2 505.9 541.0 507.3 540.4 508.0"/>
<path class="kf" d="M535.5 491.0 C536.1 490.3 539.1 489.4 540.4 490.3 C541.8 491.2 543.0 493.8 543.6 496.3 C544.2 498.8 544.6 503.4 544.0 505.2 C543.5 507.1 541.4 508.1 540.4 507.3 C539.5 506.6 538.8 502.7 538.3 500.5 C537.8 498.3 537.7 495.8 537.2 494.2 C536.8 492.6 535.0 491.6 535.5 491.0Z"/>
<path class="k" d="M527.0 497.4 L531.9 496.7 M529.8 500.5 L531.9 505.9 L535.1 507.3 M527.7 497.4 L529.8 503.7"/>
<path class="k2" d="M540.4 508.0 C541.7 508.7 545.8 509.9 547.9 512.2 C550.0 514.5 552.1 517.7 553.2 521.8 C554.3 525.9 554.4 532.4 554.3 536.7 C554.1 541.0 552.5 545.6 552.1 547.3"/>
<path class="k2" d="M537.2 509.0 C537.4 511.2 537.6 518.1 538.3 521.8 C539.0 525.5 542.0 529.1 541.5 531.4 C541.0 533.7 537.1 534.7 535.1 535.6 C533.2 536.6 530.7 536.9 529.8 537.1"/>
<path class="k2" d="M543.6 521.8 C544.0 523.4 546.5 528.5 546.2 531.4 C545.8 534.2 543.5 537.1 541.5 538.8 C539.5 540.6 535.3 541.5 534.1 542.0"/>
<path class="k2" d="M538.3 542.0 C538.5 544.0 538.8 549.6 539.4 553.7 C539.9 557.9 541.1 564.7 541.5 566.9"/>
<path class="k2" d="M552.1 547.3 C552.5 549.1 553.7 554.7 554.3 558.0 C554.8 561.2 555.1 565.4 555.3 566.9"/>
<path class="k2" d="M535.1 539.9 L548.9 539.3"/>
<ellipse class="k2" cx="527.0" cy="539.9" rx="5.7" ry="6.4"/>
<ellipse class="r" cx="527.0" cy="539.9" rx="4.3" ry="4.9"/>
<ellipse class="k" cx="528.7" cy="539.5" rx="3.0" ry="3.6"/>
<path class="r" d="M522.4 529.9 L525.5 529.3 M522.8 531.6 L526.2 531.0 M487.3 537.8 L489.4 537.1 M487.9 539.3 L489.6 538.4"/>
<path class="k2" d="M570.0 494.2 C569.1 494.5 566.2 495.0 564.9 496.3 C563.6 497.5 562.3 499.8 562.3 501.6 C562.3 503.4 563.6 506.1 564.9 507.3 C566.2 508.6 569.1 508.8 570.0 509.0"/>
<path class="k2" d="M562.8 506.5 C561.7 507.6 558.2 510.0 556.4 513.3 C554.6 516.6 553.3 521.1 552.1 526.1 C551.0 531.0 549.6 539.5 549.6 543.1 C549.6 546.6 551.7 546.6 552.1 547.3"/>
<path class="k2" d="M552.1 544.1 C553.6 544.5 558.0 546.3 560.6 546.3 C563.3 546.3 566.5 544.9 568.1 544.1 C569.6 543.4 569.7 542.4 570.0 542.0"/>
<path class="k2" d="M562.8 521.8 C562.6 523.9 561.3 531.0 561.7 534.6 C562.1 538.1 564.4 541.7 564.9 543.1"/>
<path class="k2" d="M562.8 547.3 L564.9 566.9 M552.1 548.4 L556.4 566.9"/>
<text class="hw" x="622.1" y="472.5" style="font-size:5.0px" transform="rotate(-6 622.1 472.5)" textLength="29.8" lengthAdjust="spacingAndGlyphs">CONSTRUCCIÓN</text>
<text class="hw" x="632.7" y="478.8" style="font-size:5.0px" transform="rotate(-4 632.7 478.8)" textLength="28.7" lengthAdjust="spacingAndGlyphs">MONDONGOS</text>
<path class="k2" d="M620.0 476.1 L617.2 479.3 L620.0 480.1"/>
<text class="hwr" x="633.8" y="496.7" style="font-size:5.0px" transform="rotate(-6 633.8 496.7)" textLength="14.9" lengthAdjust="spacingAndGlyphs">CINTA</text>
<text class="hwr" x="638.1" y="501.8" style="font-size:5.0px" textLength="25.5" lengthAdjust="spacingAndGlyphs">CARROCERO</text>
<path class="r2" d="M631.7 495.2 L627.9 499.5 M627.9 496.7 L627.9 499.7 L630.6 499.3"/>
<path class="kf" d="M577.4 489.9 C577.3 488.2 578.2 484.7 579.6 483.1 C581.0 481.5 583.8 480.3 586.0 480.1 C588.1 479.9 590.9 480.5 592.3 481.8 C593.8 483.1 594.9 486.4 594.7 487.8 C594.5 489.1 592.4 489.9 591.3 489.9 C590.2 489.9 589.3 487.8 588.1 487.8 C586.8 487.8 585.1 489.0 583.8 489.9 C582.6 490.8 581.7 493.1 580.6 493.1 C579.6 493.1 577.6 491.6 577.4 489.9Z"/>
<path class="k2" d="M580.6 492.0 C580.7 493.3 580.4 497.5 581.1 499.5 C581.8 501.4 583.5 503.4 584.9 503.7 C586.3 504.1 588.5 503.0 589.6 501.6 C590.6 500.2 590.9 497.2 591.3 495.2 C591.6 493.3 591.6 490.8 591.7 489.9"/>
<path class="k" d="M590.2 494.6 L591.7 496.7 L590.0 497.6"/>
<path class="k2" d="M570.0 496.3 C571.1 496.8 574.3 497.4 576.4 499.5 C578.5 501.6 581.3 505.7 582.8 509.0 C584.2 512.4 584.2 516.1 584.9 519.7 C585.6 523.2 586.1 527.1 587.0 530.3 C587.9 533.5 589.7 537.4 590.2 538.8"/>
<path class="k2" d="M586.0 515.4 C587.5 514.7 592.5 512.4 595.5 511.2 C598.5 509.9 601.4 509.6 604.0 508.0 C606.7 506.4 610.2 502.7 611.5 501.6"/>
<path class="k2" d="M588.1 525.0 C589.7 523.8 594.8 519.9 597.7 517.6 C600.5 515.3 603.9 512.2 605.1 511.2"/>
<path class="k2" d="M582.8 535.6 C584.2 536.3 588.6 538.8 591.3 539.9 C593.9 541.0 597.5 541.7 598.7 542.0"/>
<path class="k2" d="M578.5 521.8 C578.9 523.6 579.0 528.9 580.6 532.4 C582.2 536.0 585.2 540.9 588.1 543.1 C590.9 545.3 596.1 545.2 597.7 545.6"/>
<path class="k2" d="M576.4 510.1 L577.9 511.5 L579.3 513.7 L573.8 510.7 L571.5 510.9 L580.4 516.3 L580.0 517.5 L570.0 511.9 L569.9 513.6 L579.2 518.7 L578.1 520.4 L570.2 514.9 L570.2 516.6 L577.2 521.7 L576.8 522.3 L569.8 519.0 L570.1 520.2 L573.3 522.6"/>
<path class="k" d="M573.2 511.2 L575.3 534.6 L578.5 547.3 M576.4 521.8 L579.6 538.8"/>
<path class="k2" d="M570.0 547.3 C570.7 548.4 573.4 550.5 574.3 553.7 C575.1 557.0 575.1 564.7 575.3 566.9"/>
<path class="k2" d="M590.2 539.9 C590.4 542.2 591.4 549.2 591.3 553.7 C591.1 558.2 589.5 564.7 589.1 566.9"/>
<path class="k2" d="M601.9 508.0 L604.0 503.7 L608.3 501.6 L612.1 502.2"/>
<path class="k" d="M611.4 501.4 L609.3 513.0 L605.0 525.7 L601.2 539.6 L603.5 540.2 L607.3 526.4 L611.5 513.6 L613.7 501.8Z" style="fill:#fff"/>
<path class="r" d="M612.5 501.6 L610.4 513.3 L606.2 526.1 L602.3 539.9" style="stroke-width:.8;stroke-dasharray:1.6 3.2"/>
<path class="k" d="M613.3 502.1 L633.5 507.6 L651.6 512.3 L652.2 510.0 L634.1 505.4 L613.9 499.8Z" style="fill:#fff"/>
<path class="r" d="M613.6 501.0 L633.8 506.5 L651.9 511.2" style="stroke-width:.8;stroke-dasharray:1.6 3.2"/>
<path class="k" d="M650.7 511.2 L650.3 538.8 L649.7 566.9 L652.0 566.9 L652.6 538.9 L653.1 511.2Z" style="fill:#fff"/>
<path class="r" d="M651.9 511.2 L651.5 538.8 L650.8 566.9" style="stroke-width:.8;stroke-dasharray:1.6 3.2"/>
<path class="k2" d="M612.1 498.4 L613.2 502.7"/>
<ellipse class="k2" cx="604.0" cy="543.5" rx="6.4" ry="7.0"/>
<ellipse class="r" cx="604.0" cy="543.5" rx="4.9" ry="5.5"/>
<ellipse class="k" cx="602.3" cy="542.7" rx="3.4" ry="3.8"/>
<path class="r" d="M605.1 496.9 L608.3 497.6 M594.5 551.6 L596.0 553.3 M595.1 554.1 L596.8 555.8"/>
<path class="k" d="M497.7 567.1 L498.7 584.1 L500.2 601.1 L502.8 600.9 L501.3 583.9 L500.2 566.9Z" style="fill:#fff"/>
<path class="r" d="M499.0 567.0 L500.0 584.0 L501.5 601.0" style="stroke-width:.8;stroke-dasharray:1.6 3.2"/>
<path class="k" d="M512.1 567.1 L513.0 586.2 L513.6 602.8 L516.2 602.7 L515.5 586.1 L514.7 566.9Z" style="fill:#fff"/>
<path class="r" d="M513.4 567.0 L514.3 586.1 L514.9 602.7" style="stroke-width:.8;stroke-dasharray:1.6 3.2"/>
<path class="k" d="M533.8 567.0 L533.8 583.9 L532.1 598.8 L534.7 599.1 L536.4 584.1 L536.4 567.0Z" style="fill:#fff"/>
<path class="r" d="M535.1 567.0 L535.1 584.0 L533.4 598.9" style="stroke-width:.8;stroke-dasharray:1.6 3.2"/>
<path class="kf" d="M450.0 567.0 C455.7 565.6 475.5 564.9 480.9 567.0 C486.3 569.1 482.5 576.2 482.4 579.8 C482.2 583.3 483.1 587.0 479.8 588.3 C476.6 589.5 468.1 587.7 462.8 587.2 C457.5 586.7 450.6 587.0 447.9 585.1 C445.2 583.1 446.5 578.5 446.8 575.5 C447.2 572.5 444.4 568.4 450.0 567.0Z"/>
<path class="k2" d="M447.9 585.1 C450.8 585.0 457.5 587.1 462.8 587.6 C468.1 588.2 476.8 586.7 479.8 588.3 C482.8 589.8 481.1 594.5 480.9 596.8 C480.7 599.1 483.5 601.4 478.7 602.1 C474.0 602.8 457.8 601.9 452.2 601.0 C446.5 600.1 445.8 598.9 444.7 596.8 C443.6 594.7 444.8 590.2 445.4 588.3 C445.9 586.3 445.0 585.2 447.9 585.1Z" style="fill:#fff"/>
<path class="k2" d="M451.1 603.2 C452.7 601.8 457.9 601.1 459.6 602.7 C461.3 604.3 462.0 610.7 461.1 612.7 C460.2 614.8 456.1 615.4 454.3 615.1 C452.4 614.7 450.6 612.6 450.0 610.6 C449.5 608.6 449.5 604.5 451.1 603.2Z" style="fill:#fff"/>
<path class="k2" d="M467.0 603.2 C468.5 601.8 474.7 601.6 476.6 603.6 C478.6 605.5 479.6 612.6 478.7 614.9 C477.9 617.1 473.5 617.7 471.7 617.2 C470.0 616.7 468.9 614.0 468.1 611.7 C467.3 609.3 465.6 604.5 467.0 603.2Z" style="fill:#fff"/>
<path class="kf" d="M451.1 601.0 C452.7 600.2 460.1 599.9 461.7 600.6 C463.3 601.3 462.3 604.4 460.7 605.3 C459.1 606.1 453.8 606.4 452.2 605.7 C450.6 605.0 449.5 601.9 451.1 601.0Z"/>
<path class="kf" d="M466.0 601.5 C467.8 600.7 476.1 601.1 477.7 602.1 C479.3 603.1 477.3 606.7 475.6 607.4 C473.8 608.1 468.6 607.3 467.0 606.4 C465.5 605.4 464.2 602.2 466.0 601.5Z"/>
<path class="k" d="M454.3 608.5 L457.5 607.8 M454.7 610.6 L457.7 610.0 M471.7 610.6 L475.1 610.4 M472.2 612.7 L475.6 612.3"/>
<path class="k2" d="M423.4 598.9 L443.7 597.8 M484.1 596.8 L500.0 598.5 M518.1 598.5 L531.9 596.8 L543.6 594.7"/>
<path class="k2" d="M503.2 598.9 L516.0 598.9"/>
<path class="k2" d="M543.6 567.0 C544.3 568.8 547.0 574.4 547.9 577.6 C548.8 580.8 548.8 584.7 548.9 586.1"/>
<path class="k2" d="M552.1 567.0 C552.7 569.1 555.0 575.5 555.3 579.8 C555.7 584.0 554.4 590.4 554.3 592.5"/>
<path class="kf" d="M540.4 588.3 C541.1 587.1 545.0 585.3 546.8 585.1 C548.6 584.9 550.6 586.2 551.1 587.2 C551.5 588.2 551.0 590.0 549.6 590.8 C548.2 591.6 544.1 592.5 542.6 592.1 C541.0 591.7 539.7 589.4 540.4 588.3Z"/>
<path class="kf" d="M547.9 595.7 C548.6 594.4 551.8 593.0 553.2 593.0 C554.6 593.0 556.2 594.4 556.4 595.7 C556.6 597.0 555.5 599.8 554.3 600.6 C553.0 601.4 550.0 601.4 548.9 600.6 C547.9 599.8 547.2 597.0 547.9 595.7Z"/>
<path class="k2" d="M556.8 567.0 C557.8 568.4 561.4 572.8 562.8 575.5 C564.1 578.2 565.6 579.8 564.9 583.0 C564.2 586.1 560.3 590.6 558.5 594.7 C556.7 598.7 555.0 604.9 554.3 607.0"/>
<path class="k2" d="M564.9 567.0 L570.0 575.5"/>
<path class="k2" d="M570.0 590.4 C569.1 592.2 566.1 598.0 564.9 601.0 C563.7 604.0 563.1 607.2 562.8 608.5"/>
<path class="kf" d="M553.2 607.8 C554.3 607.1 557.8 606.5 560.6 607.0 C563.4 607.4 568.4 609.1 570.0 610.6 C571.6 612.1 572.1 615.2 570.0 615.9 C567.9 616.6 560.1 615.6 557.5 614.9 C554.8 614.2 554.5 612.8 553.8 611.7 C553.1 610.5 552.1 608.6 553.2 607.8Z"/>
<text class="hwr" x="435.1" y="638.3" style="font-size:5.5px" transform="rotate(-2 435.1 638.3)" textLength="49.3" lengthAdjust="spacingAndGlyphs">CINTA DE CARROCERO</text>
<text class="hw" x="437.3" y="659.5" style="font-size:5.0px" textLength="12.8" lengthAdjust="spacingAndGlyphs">ME HA</text>
<text class="hw" x="436.8" y="665.9" style="font-size:5.0px" textLength="23.0" lengthAdjust="spacingAndGlyphs">GUSTADO</text>
<path class="k" d="M467.1 650.0 L474.6 656.4 L481.4 662.2 L483.3 659.9 L476.5 654.1 L469.1 647.8Z" style="fill:#fff"/>
<path class="r" d="M468.1 648.9 L475.6 655.3 L482.4 661.0" style="stroke-width:.8;stroke-dasharray:1.6 3.2"/>
<path class="k" d="M458.1 675.8 L469.8 670.0 L481.5 664.5 L480.2 661.8 L468.5 667.3 L456.8 673.1Z" style="fill:#fff"/>
<path class="r" d="M457.5 674.4 L469.2 668.7 L480.9 663.1" style="stroke-width:.8;stroke-dasharray:1.6 3.2"/>
<path class="k" d="M536.1 634.7 L529.8 651.2 L523.4 665.9 L518.2 674.7 L522.2 677.1 L527.6 668.0 L534.1 653.0 L540.5 636.3Z" style="fill:#fff"/>
<path class="r" d="M538.3 635.5 L531.9 652.1 L525.5 667.0 L520.2 675.9" style="stroke-width:.8;stroke-dasharray:1.6 3.2"/>
<path class="k" d="M517.1 653.9 L529.9 658.8 L531.0 656.0 L518.2 651.1Z" style="fill:#fff"/>
<path class="r" d="M517.7 652.5 L530.4 657.4" style="stroke-width:.8;stroke-dasharray:1.6 3.2"/>
<path class="rf" d="M497.3 637.2 C497.6 636.2 496.9 634.5 500.0 635.1 C503.1 635.6 513.2 638.9 516.0 640.4 C518.7 641.9 516.7 643.0 516.4 644.0 C516.1 645.0 517.4 646.6 514.3 646.1 C511.2 645.6 500.7 642.5 497.9 641.0 C495.1 639.5 496.9 638.2 497.3 637.2Z"/>
<path class="k2" d="M479.8 648.9 C482.2 649.1 483.9 645.2 486.2 644.6 C488.5 644.1 491.7 646.2 493.6 645.7 C495.6 645.2 494.5 641.3 497.9 641.4 C501.3 641.6 512.3 643.6 514.3 646.8 C516.2 650.0 511.1 655.7 509.6 660.6 C508.1 665.4 509.6 673.4 505.3 675.9 C501.1 678.5 487.7 678.5 484.1 675.9 C480.5 673.4 485.7 666.0 483.6 660.6 C481.6 655.2 472.4 645.5 471.7 643.6 C471.1 641.6 477.4 648.7 479.8 648.9Z" style="fill:#fff"/>
<path class="k" d="M487.3 660.6 L488.3 673.4 M493.0 661.7 L493.6 674.4 M499.0 662.7 L499.4 674.4 M503.6 663.8 L505.3 673.4 M480.9 647.8 L488.3 650.0 L493.0 646.8 M471.7 643.6 L479.8 646.1"/>
<text class="hw" x="541.5" y="637.2" style="font-size:4.6px" transform="rotate(-3 541.5 637.2)" textLength="28.5" lengthAdjust="spacingAndGlyphs">ABRO LABORATORIO</text>
<text class="hw" x="541.5" y="642.7" style="font-size:4.6px" transform="rotate(-3 541.5 642.7)" textLength="47.9" lengthAdjust="spacingAndGlyphs">LA PUERTA SI HACE D AD</text>
<text class="hw" x="545.8" y="650.4" style="font-size:4.6px" transform="rotate(-3 545.8 650.4)" textLength="13.2" lengthAdjust="spacingAndGlyphs">PROCESO</text>
<text class="hw" x="541.1" y="655.9" style="font-size:4.6px" transform="rotate(-3 541.1 655.9)" textLength="35.1" lengthAdjust="spacingAndGlyphs">INVESTIGACIÓN ELLOS</text>
<text class="hwr" x="536.8" y="665.3" style="font-size:7.4px" transform="rotate(-3 536.8 665.3)" textLength="33.2" lengthAdjust="spacingAndGlyphs">MONDONGOS</text>
<text class="hw" x="538.3" y="671.2" style="font-size:4.6px" transform="rotate(-3 538.3 671.2)" textLength="31.7" lengthAdjust="spacingAndGlyphs">IMPORTANTE : LUGAR</text>
<text class="hw" x="538.3" y="675.9" style="font-size:4.6px" transform="rotate(-3 538.3 675.9)" textLength="31.7" lengthAdjust="spacingAndGlyphs">SUELOS Y LECTURA</text>
<path class="k" d="M648.6 567.0 L648.8 588.3 L651.1 588.3 L650.9 567.0Z" style="fill:#fff"/>
<path class="r" d="M649.8 567.0 L650.0 588.3" style="stroke-width:.8;stroke-dasharray:1.6 3.2"/>
<path class="k3" d="M581.7 596.8 L621.0 597.0 L661.5 596.4"/>
<path class="kf" d="M570.0 598.9 C571.2 598.1 575.6 598.2 577.4 598.5 C579.3 598.8 580.9 599.8 581.1 600.6 C581.2 601.4 580.4 602.7 578.5 603.2 C576.7 603.6 571.4 603.9 570.0 603.2 C568.6 602.5 568.8 599.7 570.0 598.9Z"/>
<path class="kf" d="M570.0 611.7 C570.3 611.1 571.5 613.9 571.7 614.9 C571.9 615.9 571.3 617.1 571.1 617.6 C570.8 618.2 570.2 619.0 570.0 618.0 C569.8 617.1 569.7 612.2 570.0 611.7Z"/>
<text class="hw" x="594.5" y="635.5" style="font-size:4.8px" transform="rotate(-8 594.5 635.5)" textLength="27.2" lengthAdjust="spacingAndGlyphs">(RECONOZCO)</text>
<path class="k2" d="M590.2 641.4 L589.6 646.8 L613.6 641.9 L614.7 636.8"/>
<text class="hw" x="622.1" y="637.2" style="font-size:4.6px" transform="rotate(-3 622.1 637.2)" textLength="42.5" lengthAdjust="spacingAndGlyphs">EL PODER. SUS DEDOS</text>
<text class="hw" x="628.5" y="642.5" style="font-size:4.6px" transform="rotate(-3 628.5 642.5)" textLength="40.4" lengthAdjust="spacingAndGlyphs">VENTO A TRAVÉS DE</text>
<text class="hw" x="638.1" y="647.4" style="font-size:4.6px" transform="rotate(-3 638.1 647.4)" textLength="37.2" lengthAdjust="spacingAndGlyphs">TOCAR DE ALGO.</text>
<text class="hw" x="642.3" y="652.1" style="font-size:4.6px" transform="rotate(-3 642.3 652.1)" textLength="29.8" lengthAdjust="spacingAndGlyphs">RADICA SOBRE</text>
<text class="hw" x="642.3" y="657.4" style="font-size:4.6px" transform="rotate(-3 642.3 657.4)" textLength="36.2" lengthAdjust="spacingAndGlyphs">ANTES DE LA UÑA</text>
<text class="hw" x="643.4" y="662.3" style="font-size:4.6px" transform="rotate(-3 643.4 662.3)" textLength="10.6" lengthAdjust="spacingAndGlyphs">(TUYA)</text>
<path class="k2" d="M590.2 646.8 C590.4 648.0 592.0 651.6 591.3 654.2 C590.6 656.9 586.9 659.9 586.0 662.7 C585.0 665.6 584.6 669.5 585.3 671.2 C586.0 673.0 588.9 674.1 590.2 673.4 C591.6 672.6 592.2 668.7 593.4 667.0 C594.6 665.2 596.2 662.7 597.7 662.7 C599.1 662.7 600.8 665.2 601.9 667.0 C603.0 668.7 603.7 672.3 604.0 673.4"/>
<path class="k2" d="M601.9 652.1 C603.3 652.4 607.8 652.8 610.4 654.2 C613.1 655.6 616.1 658.5 617.9 660.6 C619.6 662.7 620.7 664.4 621.0 667.0 C621.4 669.5 620.2 674.4 620.0 675.9"/>
<path class="k2" d="M607.2 647.8 C608.6 648.4 613.3 649.4 615.7 651.0 C618.2 652.6 620.9 655.1 622.1 657.4 C623.4 659.7 623.0 663.6 623.2 664.8"/>
<path class="k2" d="M611.5 644.6 C612.9 645.3 618.0 646.9 620.0 648.9 C621.9 650.8 622.6 655.1 623.2 656.3"/>
<path class="k" d="M595.5 653.1 L604.0 654.2 L612.5 660.6 M612.5 664.8 L621.0 662.7 M613.6 667.0 L613.6 675.9 M623.2 667.0 L633.8 657.4 L640.2 652.1"/>
<path class="r" d="M621.0 658.9 L638.1 651.0" style="stroke-dasharray:3 2"/>
<path class="r" d="M591.3 672.5 L612.5 669.1 L620.0 665.9" style="stroke-dasharray:3 2"/>
<path class="r" d="M570.0 660.6 L571.1 663.8"/>
<path class="k2" d="M638.1 675.9 C638.8 675.4 639.5 673.2 642.3 672.9 C645.2 672.7 650.5 674.3 655.1 674.4 C659.7 674.6 666.8 673.5 670.0 673.8 C673.2 674.0 673.5 675.6 674.2 675.9"/>
<path class="k" d="M460.8 675.1 L454.2 681.8 L450.9 692.9 L451.3 703.9 L454.2 711.5 L456.5 710.7 L453.8 703.4 L453.4 693.2 L456.5 683.0 L462.6 676.9Z" style="fill:#fff"/>
<path class="r" d="M461.7 676.0 L455.4 682.4 L452.2 693.0 L452.6 703.7 L455.4 711.1" style="stroke-width:.8;stroke-dasharray:1.6 3.2"/>
<text class="hw" x="434.1" y="685.6" style="font-size:4.6px" transform="rotate(8 434.1 685.6)" textLength="9.6" lengthAdjust="spacingAndGlyphs">NO ES</text>
<text class="hw" x="433.4" y="690.5" style="font-size:4.6px" transform="rotate(8 433.4 690.5)" textLength="4.7" lengthAdjust="spacingAndGlyphs">UN</text>
<text class="hw" x="433.0" y="695.6" style="font-size:4.6px" transform="rotate(8 433.0 695.6)" textLength="16.6" lengthAdjust="spacingAndGlyphs">PROBLEMA</text>
<text class="hw" x="436.2" y="701.1" style="font-size:4.6px" transform="rotate(8 436.2 701.1)" textLength="10.2" lengthAdjust="spacingAndGlyphs">NI UN</text>
<text class="hw" x="437.3" y="706.8" style="font-size:4.6px" transform="rotate(8 437.3 706.8)" textLength="7.2" lengthAdjust="spacingAndGlyphs">FIN.</text>
<text class="hw" x="470.2" y="692.6" style="font-size:5.0px" textLength="24.5" lengthAdjust="spacingAndGlyphs">ESTÁ BUENA</text>
<path class="k2" d="M507.5 698.3 L516.0 680.3 L535.1 684.5 L552.1 689.2 L570.0 684.5"/>
<path class="k" d="M507.5 698.3 L510.7 701.5 M552.1 689.2 L564.9 693.0"/>
<text class="hw" x="514.3" y="687.1" style="font-size:4.3px" transform="rotate(12 514.3 687.1)" textLength="9.6" lengthAdjust="spacingAndGlyphs">SE HA</text>
<text class="hw" x="516.0" y="693.4" style="font-size:4.3px" transform="rotate(-8 516.0 693.4)" textLength="29.8" lengthAdjust="spacingAndGlyphs">ROTO / BLOQUEADO</text>
<path class="k2" d="M489.4 676.0 L491.5 677.7 L494.7 676.4 M509.6 676.0 L512.8 678.6 L518.1 677.7"/>
<path class="k2" d="M432.0 748.3 C433.5 743.0 437.8 735.2 441.5 729.2 C445.2 723.2 449.7 716.7 454.3 712.2 C458.9 707.6 463.9 704.1 469.2 702.0 C474.5 699.8 480.9 699.4 486.2 699.0 C491.5 698.5 496.1 698.7 501.1 699.4 C506.0 700.1 512.5 702.0 516.0 703.2 C519.4 704.5 521.3 705.4 521.9 706.8 C522.6 708.3 522.6 710.7 519.8 711.7 C517.0 712.8 510.2 712.6 505.3 713.2 C500.4 713.8 494.7 714.5 490.4 715.4 C486.2 716.2 478.7 718.2 479.8 718.5 C480.9 718.9 490.4 718.0 496.8 717.5 C503.2 716.9 514.1 715.0 518.1 715.4 C522.1 715.7 521.0 718.2 520.7 719.6 C520.3 721.0 519.2 722.8 516.0 723.9 C512.7 724.9 505.3 725.0 501.1 726.0 C496.8 726.9 489.7 729.4 490.4 729.6 C491.2 729.8 501.1 727.8 505.3 727.0 C509.6 726.3 514.3 724.6 516.0 725.3 C517.7 726.1 517.3 730.0 515.5 731.7 C513.8 733.4 509.5 734.5 505.3 735.6 C501.2 736.6 491.2 737.8 490.4 738.1 C489.7 738.5 497.9 737.4 501.1 737.7 C504.3 738.0 509.6 738.4 509.6 739.8 C509.6 741.2 504.6 743.4 501.1 746.2 C497.5 749.0 492.2 753.3 488.3 756.8 C484.4 760.4 482.3 764.6 477.7 767.5 C473.1 770.4 465.6 773.9 460.7 774.3 C455.7 774.6 452.7 771.8 447.9 769.6 C443.1 767.4 434.6 764.6 432.0 761.1 C429.3 757.5 430.4 753.6 432.0 748.3Z" style="fill:#fff"/>
<path class="k" d="M479.8 718.5 L486.2 715.4 L490.4 711.1 M490.4 729.6 L495.1 727.0 M490.4 738.1 L495.8 735.6 M479.8 707.9 L488.3 705.8 L492.6 707.9 M516.0 703.7 L518.1 707.9 M484.5 749.4 L487.3 747.3 L490.4 749.4 L489.4 753.6 L485.1 754.7"/>
<text class="hw" x="454.3" y="729.2" style="font-size:4.6px" transform="rotate(-10 454.3 729.2)" textLength="29.8" lengthAdjust="spacingAndGlyphs">CORAZÓN HECHO</text>
<text class="hw" x="461.7" y="735.1" style="font-size:4.6px" transform="rotate(-2 461.7 735.1)" textLength="28.7" lengthAdjust="spacingAndGlyphs">A MARTILLAZOS</text>
<text class="hw" x="437.3" y="751.5" style="font-size:4.6px" transform="rotate(-38 437.3 751.5)" textLength="17.0" lengthAdjust="spacingAndGlyphs">CORAZÓN</text>
<text class="hw" x="441.1" y="757.3" style="font-size:4.6px" transform="rotate(-38 441.1 757.3)" textLength="16.0" lengthAdjust="spacingAndGlyphs">HECHO A</text>
<text class="hw" x="445.8" y="762.1" style="font-size:4.6px" transform="rotate(-38 445.8 762.1)" textLength="14.9" lengthAdjust="spacingAndGlyphs">TROZOS.</text>
<text class="hw" x="449.6" y="767.5" style="font-size:4.6px" transform="rotate(-25 449.6 767.5)" textLength="29.8" lengthAdjust="spacingAndGlyphs">CORAZÓN ÁSPERO</text>
<text class="hw" x="501.1" y="739.8" style="font-size:3.8px">M</text>
<path class="rf" d="M492.6 761.1 L501.1 750.4 L509.6 740.9 L520.2 761.1 L530.9 780.2 L531.9 784.9 L501.1 784.9 L505.3 776.0 L509.6 769.6Z"/>
<path class="k" d="M509.2 737.9 L519.5 760.3 L531.2 784.8 L536.9 782.0 L525.2 757.6 L515.0 735.3Z" style="fill:#fff"/>
<path class="r" d="M512.1 736.6 L522.4 759.0 L534.1 783.4" style="stroke-width:.8;stroke-dasharray:1.6 3.2"/>
<text class="hw" x="514.3" y="750.4" style="font-size:5.3px" transform="rotate(64 514.3 750.4)" textLength="37.2" lengthAdjust="spacingAndGlyphs">PERSPECTIVA</text>
<path class="kf" d="M488.3 766.4 C489.9 764.8 495.0 763.4 496.8 764.3 C498.7 765.2 499.4 769.1 499.4 771.7 C499.4 774.4 498.3 778.6 496.8 780.2 C495.3 781.8 492.0 782.4 490.4 781.3 C488.9 780.2 487.6 776.3 487.3 773.8 C486.9 771.4 486.7 768.0 488.3 766.4Z"/>
<path class="k2" d="M501.1 770.7 C502.7 767.9 507.9 767.6 509.6 768.5 C511.3 769.4 511.3 773.2 511.3 776.0 C511.3 778.7 511.5 783.4 509.6 784.9 C507.7 786.4 501.4 787.3 500.0 784.9 C498.6 782.5 499.5 773.4 501.1 770.7Z" style="fill:#fff"/>
<text class="hw" x="466.0" y="772.8" style="font-size:4.1px" transform="rotate(-15 466.0 772.8)" textLength="19.6" lengthAdjust="spacingAndGlyphs">CADA CORAZÓN</text>
<text class="hw" x="468.1" y="778.1" style="font-size:4.1px" transform="rotate(-12 468.1 778.1)" textLength="22.3" lengthAdjust="spacingAndGlyphs">ES UN LABERINTO</text>
<text class="hw" x="471.7" y="782.8" style="font-size:4.1px" transform="rotate(-5 471.7 782.8)" textLength="13.2" lengthAdjust="spacingAndGlyphs">DE HILOS</text>
<path class="k" d="M461.7 773.8 C462.6 773.1 464.0 771.0 467.0 769.6 C470.1 768.2 476.3 766.4 479.8 765.3 C483.4 764.3 486.9 763.6 488.3 763.2"/>
<path class="k2" d="M528.7 755.1 L570.0 748.3"/>
<path class="k2" d="M547.9 750.4 L552.1 769.6 L570.0 765.3"/>
<path class="k" d="M528.7 755.1 L535.1 773.8 M543.6 784.9 L552.1 778.1 L570.0 767.5"/>
<path class="r" d="M543.6 783.4 L554.3 776.0 L570.0 766.4" style="stroke-dasharray:3 2"/>
<text class="hw" x="529.8" y="760.0" style="font-size:4.1px" transform="rotate(-8 529.8 760.0)" textLength="13.8" lengthAdjust="spacingAndGlyphs">ESTE QUE</text>
<text class="hw" x="536.2" y="765.3" style="font-size:4.1px" transform="rotate(-8 536.2 765.3)" textLength="4.3" lengthAdjust="spacingAndGlyphs">ME</text>
<text class="hw" x="536.2" y="770.7" style="font-size:4.1px" transform="rotate(-8 536.2 770.7)" textLength="12.8" lengthAdjust="spacingAndGlyphs">HE ENCONTRADO</text>
<text class="hw" x="552.1" y="755.8" style="font-size:4.1px" transform="rotate(-70 552.1 755.8)" textLength="8.5" lengthAdjust="spacingAndGlyphs">LE DOY</text>
<text class="hw" x="557.5" y="755.8" style="font-size:4.1px" transform="rotate(-70 557.5 755.8)" textLength="6.0" lengthAdjust="spacingAndGlyphs">MÁS</text>
<text class="hw" x="562.8" y="756.8" style="font-size:4.1px" transform="rotate(-20 562.8 756.8)" textLength="6.8" lengthAdjust="spacingAndGlyphs">VALOR</text>
<path class="kf" d="M562.8 753.6 C563.6 752.8 568.8 751.7 570.0 752.1 C571.2 752.6 570.9 755.6 570.0 756.4 C569.1 757.3 566.1 757.7 564.9 757.3 C563.7 756.8 561.9 754.5 562.8 753.6Z"/>
<path class="kf" d="M513.2 734.1 L518.7 726.4 L534.2 721.9 L548.6 719.7 L556.3 714.2 L562.9 703.1 L571.8 694.3 L587.2 686.6 L593.9 684.4 L590.6 694.3 L587.2 707.6 L585.0 717.5 L579.5 714.2 L571.8 712.0 L562.9 713.1 L556.3 717.5 L550.8 721.9 L548.6 736.3 L546.4 746.2 L525.4 754.0Z"/>
<path class="kf" d="M530.9 696.5 C532.4 695.4 537.0 695.4 540.8 695.4 C544.7 695.4 550.0 696.0 554.1 696.5 C558.1 697.1 564.4 697.1 565.1 698.7 C565.9 700.4 561.1 704.6 558.5 706.5 C555.9 708.3 552.8 709.6 549.7 709.8 C546.5 710.0 542.7 708.9 539.7 707.6 C536.8 706.3 533.5 703.9 532.0 702.0 C530.5 700.2 529.4 697.6 530.9 696.5Z"/>
<path class="k2" d="M549.2 721.9 C549.0 724.3 547.6 732.1 547.9 736.3 C548.2 740.5 548.6 743.7 550.8 747.3 C552.9 751.0 556.9 755.1 560.7 758.4 C564.6 761.7 570.1 766.3 574.0 767.2 C577.8 768.2 581.3 766.1 583.9 763.9 C586.5 761.7 588.2 757.1 589.4 754.0 C590.7 750.8 590.9 746.6 591.2 745.1"/>
<path class="k2" d="M551.9 732.3 L556.3 731.0 L561.2 731.9 M572.9 731.4 L578.0 730.1 L582.8 731.0 M565.1 733.0 L564.7 740.7 L563.4 746.2 L566.2 747.3 M560.3 754.4 L566.2 753.5 L569.6 754.9"/>
<path class="kf" d="M554.1 732.8 C554.2 732.3 556.3 731.8 557.2 731.9 C558.1 732.0 559.5 732.8 559.4 733.2 C559.2 733.6 557.2 734.6 556.3 734.5 C555.4 734.5 553.9 733.2 554.1 732.8Z"/>
<path class="kf" d="M575.1 731.9 C575.2 731.4 577.5 730.9 578.4 731.0 C579.3 731.1 580.8 731.9 580.6 732.3 C580.5 732.8 578.4 733.7 577.5 733.6 C576.6 733.6 574.9 732.3 575.1 731.9Z"/>
<path class="k" d="M566.2 749.6 L567.3 752.2 M556.3 717.5 L560.7 725.2 L558.5 727.9 M583.9 736.3 L587.2 742.9"/>
<path class="k" d="M543.9 776.5 L563.9 765.4 L588.3 745.4 L602.7 734.4 L600.5 731.6 L586.1 742.7 L561.9 762.5 L542.2 773.4Z" style="fill:#fff"/>
<path class="r" d="M543.0 775.0 L562.9 763.9 L587.2 744.0 L601.6 733.0" style="stroke-width:.8;stroke-dasharray:1.6 3.2"/>
<path class="k" d="M590.6 746.2 L588.3 758.4 L585.0 765.0 M600.5 762.8 L600.9 769.4"/>
<ellipse cx="611.5" cy="703.2" rx="27.7" ry="31.9" style="fill:#fff;stroke:#111;stroke-width:1.2"/>
<ellipse class="k2" cx="611.5" cy="706.8" rx="20.4" ry="21.9"/>
<ellipse cx="611.5" cy="704.1" rx="24.2" ry="27.7" style="fill:none;stroke:#d8232a;stroke-width:1;stroke-dasharray:2.5 2"/>
<text class="hw" x="601.9" y="703.7" style="font-size:5.3px" textLength="20.2" lengthAdjust="spacingAndGlyphs">MARGINAL</text>
<text class="hw" x="594.5" y="711.1" style="font-size:4.6px" textLength="21.3" lengthAdjust="spacingAndGlyphs">DEJAR FLUIR</text>
<text class="hw" x="596.6" y="717.1" style="font-size:4.3px" textLength="28.7" lengthAdjust="spacingAndGlyphs">SIMPLES A DEBER</text>
<text class="hw" x="600.8" y="721.3" style="font-size:4.3px" textLength="12.8" lengthAdjust="spacingAndGlyphs">ROMPER</text>
<text class="hw" x="624.2" y="722.4" style="font-size:4.3px" textLength="8.9" lengthAdjust="spacingAndGlyphs">PERO</text>
<text class="hw" x="600.8" y="733.0" style="font-size:5.0px" transform="rotate(-14 600.8 733.0)" textLength="22.3" lengthAdjust="spacingAndGlyphs">FOCALIZAR</text>
<path class="k2" d="M607.2 676.0 L608.3 680.3 M612.5 676.0 L613.2 680.7 M617.9 676.0 L617.9 679.8"/>
<path class="k2" d="M630.6 680.3 C632.2 680.8 636.5 683.8 640.2 683.4 C643.9 683.1 649.4 679.4 653.0 678.1 C656.5 676.9 660.0 676.4 661.5 676.0"/>
<path class="k2" d="M675.3 676.0 C676.0 677.4 679.0 681.3 679.5 684.5 C680.1 687.7 680.1 692.0 678.5 695.1 C676.9 698.3 673.9 701.9 670.0 703.7 C666.1 705.4 659.3 704.7 655.1 705.8 C650.8 706.8 647.3 708.6 644.4 710.0 C641.6 711.5 639.1 713.6 638.1 714.3"/>
<path class="k2" d="M633.8 690.9 C635.6 690.5 640.9 689.8 644.4 688.8 C648.0 687.7 651.9 685.0 655.1 684.5 C658.3 684.0 662.2 685.4 663.6 685.6"/>
<path class="k2" d="M634.9 699.4 C636.8 699.0 642.9 698.3 646.6 697.3 C650.3 696.2 655.4 693.7 657.2 693.0"/>
<path class="k2" d="M637.6 705.8 C639.1 705.6 643.7 705.6 646.6 704.7 C649.5 703.8 653.7 701.2 655.1 700.5"/>
<path class="kf" d="M630.6 679.2 C630.8 678.5 632.9 677.5 633.8 677.7 C634.7 677.9 636.1 679.5 635.9 680.3 C635.8 681.0 633.6 682.1 632.7 682.0 C631.9 681.8 630.4 679.9 630.6 679.2Z"/>
<path class="k" d="M633.8 692.0 L636.4 696.2 L634.9 699.0 M638.1 700.5 L639.8 704.1 M637.6 713.2 L642.3 715.4 L644.4 721.7 L640.2 724.9 L637.0 718.5 M640.2 714.3 L643.4 718.5 M635.9 723.9 L650.8 730.2 L642.3 733.4 L638.1 731.7 M638.1 735.6 L646.6 735.6"/>
<text class="hw" x="652.5" y="716.8" style="font-size:4.6px" transform="rotate(-3 652.5 716.8)" textLength="21.3" lengthAdjust="spacingAndGlyphs">LO CUENTO,</text>
<text class="hw" x="650.8" y="722.8" style="font-size:4.6px" transform="rotate(-3 650.8 722.8)" textLength="29.8" lengthAdjust="spacingAndGlyphs">LAS EMOCIONES</text>
<text class="hw" x="651.9" y="730.9" style="font-size:4.6px" transform="rotate(-3 651.9 730.9)" textLength="28.7" lengthAdjust="spacingAndGlyphs">LAS APARIENCIAS.</text>
<text class="hw" x="653.4" y="736.6" style="font-size:4.6px" transform="rotate(-3 653.4 736.6)" textLength="11.1" lengthAdjust="spacingAndGlyphs">EL QUE</text>
<text class="hw" x="653.4" y="741.5" style="font-size:4.6px" transform="rotate(-3 653.4 741.5)" textLength="19.1" lengthAdjust="spacingAndGlyphs">CIERRA LA</text>
<text class="hw" x="652.5" y="746.8" style="font-size:4.6px" transform="rotate(-3 652.5 746.8)" textLength="21.3" lengthAdjust="spacingAndGlyphs">EXPOSICIÓN,</text>
<text class="hw" x="654.7" y="752.6" style="font-size:4.6px" transform="rotate(-3 654.7 752.6)" textLength="18.7" lengthAdjust="spacingAndGlyphs">REFLEJO</text>
<path class="k2" d="M650.4 727.0 L649.1 739.8 L650.8 753.6"/>
<path class="rf" d="M591.3 740.9 C592.7 737.7 596.0 736.5 598.7 736.0 C601.5 735.5 606.1 734.6 607.9 737.7 C609.7 740.8 610.7 750.4 609.6 754.7 C608.4 759.0 604.0 763.6 600.8 763.6 C597.7 763.7 592.0 758.9 590.4 755.1 C588.8 751.3 589.9 744.1 591.3 740.9Z"/>
<path class="k" d="M601.9 763.2 L602.3 769.6 M610.8 738.7 L617.9 740.9"/>
<path class="kf" d="M610.4 738.7 C611.7 738.3 617.7 738.8 618.9 739.4 C620.2 740.0 619.1 741.9 617.9 742.4 C616.6 742.8 612.7 742.5 611.5 741.9 C610.2 741.3 609.2 739.2 610.4 738.7Z"/>
<path class="k2" d="M623.2 737.7 L624.9 746.2 L625.7 753.0 L622.1 755.1 L630.6 754.9"/>
<text class="hw" x="605.1" y="763.6" style="font-size:4.8px" transform="rotate(-3 605.1 763.6)" textLength="54.2" lengthAdjust="spacingAndGlyphs">NO ES AGRADABLE A LA</text>
<text class="hw" x="616.8" y="770.0" style="font-size:4.6px" textLength="10.6" lengthAdjust="spacingAndGlyphs">VISTA</text>
<text class="hw" x="635.9" y="770.0" style="font-size:4.6px" transform="rotate(-2 635.9 770.0)" textLength="41.5" lengthAdjust="spacingAndGlyphs">ELEMENTOS SIMPLES</text>
<text class="hw" x="635.9" y="776.4" style="font-size:4.6px" transform="rotate(-2 635.9 776.4)" textLength="31.9" lengthAdjust="spacingAndGlyphs">LA MISMA. AQUÍ</text>
<text class="hw" x="638.5" y="781.9" style="font-size:4.6px" transform="rotate(-2 638.5 781.9)" textLength="23.4" lengthAdjust="spacingAndGlyphs">ESTA YA. EL</text>
<text class="hw" x="580.6" y="773.8" style="font-size:4.6px" transform="rotate(-3 580.6 773.8)" textLength="23.4" lengthAdjust="spacingAndGlyphs">COHERENCIA</text>
<text class="hwr" x="570.0" y="783.4" style="font-size:5.5px" transform="rotate(-1 570.0 783.4)" textLength="63.8" lengthAdjust="spacingAndGlyphs">CREACIÓN → INTERPRETACIÓN</text>
<path class="k2" d="M432.0 762.1 C433.9 763.5 439.6 767.6 443.7 770.6 C447.7 773.6 452.9 779.9 456.4 780.2 C460.0 780.6 460.0 775.4 464.9 772.8 C469.9 770.1 482.6 765.7 486.2 764.3"/>
<path class="rf" d="M492.6 760.0 L520.2 760.0 L526.6 770.6 L531.9 780.2 L522.4 787.7 L516.0 778.1 L511.7 768.5 L499.0 764.3Z"/>
<path class="kf" d="M487.3 768.5 C488.3 766.8 490.8 764.9 492.6 764.7 C494.3 764.5 496.9 765.7 497.9 767.4 C498.9 769.1 499.0 772.6 498.5 774.9 C498.1 777.2 496.7 780.4 495.1 781.3 C493.6 782.2 490.9 781.3 489.4 780.2 C487.9 779.1 486.5 776.8 486.2 774.9 C485.8 772.9 486.2 770.2 487.3 768.5Z"/>
<path class="k" d="M498.4 765.3 L499.0 769.1 L500.1 776.5 L496.3 765.6 L495.2 765.6 L499.6 782.4 L498.4 782.4 L493.4 765.8 L492.2 765.8 L496.6 782.5 L495.2 782.5 L490.5 766.0 L489.4 766.0 L493.3 782.7 L492.2 782.7 L487.5 766.2 L485.8 766.4 L490.9 782.7 L489.0 782.9 L485.6 770.2 L486.8 781.3 L487.7 782.9"/>
<path class="k2" d="M501.1 770.6 C502.5 770.3 508.5 767.1 509.6 768.5 C510.7 769.9 508.6 776.0 507.9 779.1 C507.2 782.3 504.3 785.3 505.3 787.7 C506.3 790.0 511.0 791.9 513.8 793.0 C516.7 794.0 519.7 794.9 522.4 794.0 C525.0 793.1 528.2 789.8 529.8 787.7 C531.4 785.5 531.6 782.3 531.9 781.3"/>
<path class="k2" d="M500.0 781.3 C499.5 782.0 499.5 784.6 496.8 785.5 C494.2 786.4 486.5 786.1 484.1 786.6 C481.6 787.1 480.9 788.1 481.9 788.7 C483.0 789.3 488.0 790.2 490.4 790.2 C492.9 790.2 495.8 789.0 496.8 788.7"/>
<path class="k2" d="M496.8 788.7 C496.1 789.2 491.9 790.8 492.6 791.9 C493.3 793.0 498.6 794.7 501.1 795.1 C503.6 795.5 506.4 794.2 507.5 794.0"/>
<path class="k" d="M530.2 781.7 L538.1 794.4 L546.0 807.2 L550.7 804.3 L542.8 791.5 L534.9 778.8Z" style="fill:#fff"/>
<path class="r" d="M532.6 780.2 L540.4 793.0 L548.3 805.7" style="stroke-width:.8;stroke-dasharray:1.6 3.2"/>
<path class="k" d="M461.3 786.5 L477.2 791.6 L494.7 797.2 L495.6 794.3 L478.1 788.8 L462.2 783.7Z" style="fill:#fff"/>
<path class="r" d="M461.7 785.1 L477.7 790.2 L495.1 795.7" style="stroke-width:.8;stroke-dasharray:1.6 3.2"/>
<text class="hw" x="430.9" y="783.0" style="font-size:4.6px" textLength="19.6" lengthAdjust="spacingAndGlyphs">PUÉRBOLO</text>
<text class="hw" x="429.8" y="792.5" style="font-size:4.6px" textLength="31.9" lengthAdjust="spacingAndGlyphs">S'ABRO POR LA</text>
<text class="hw" x="435.1" y="800.0" style="font-size:4.6px" textLength="26.6" lengthAdjust="spacingAndGlyphs">PUERTA GIRO</text>
<text class="hw" x="435.1" y="805.5" style="font-size:4.6px" textLength="20.2" lengthAdjust="spacingAndGlyphs">LA REINA</text>
<text class="hw" x="552.1" y="792.3" style="font-size:4.6px" textLength="13.2" lengthAdjust="spacingAndGlyphs">ES UNA</text>
<text class="hw" x="555.3" y="798.7" style="font-size:4.6px" textLength="11.7" lengthAdjust="spacingAndGlyphs">TRAMA</text>
<text class="hw" x="590.2" y="791.9" style="font-size:4.3px" transform="rotate(-2 590.2 791.9)" textLength="51.0" lengthAdjust="spacingAndGlyphs">OBJETOS FORMAS DE PODER.</text>
<text class="hw" x="590.2" y="798.3" style="font-size:4.3px" transform="rotate(-2 590.2 798.3)" textLength="63.8" lengthAdjust="spacingAndGlyphs">NO PERSISTENTE, ES CONSTRUCCIÓN</text>
<text class="hw" x="641.3" y="786.6" style="font-size:4.3px" transform="rotate(-2 641.3 786.6)" textLength="27.7" lengthAdjust="spacingAndGlyphs">ALGUNOS ESTÁ</text>
<text class="hw" x="643.4" y="791.9" style="font-size:4.3px" transform="rotate(-2 643.4 791.9)" textLength="21.3" lengthAdjust="spacingAndGlyphs">MEJORES O</text>
<text class="hw" x="643.4" y="797.9" style="font-size:4.3px" transform="rotate(-2 643.4 797.9)" textLength="21.3" lengthAdjust="spacingAndGlyphs">AFIANZAR_</text>
</svg></div>
<div id="p4" class="abs wht"><svg width="367.4" height="186.6" viewBox="45.6 773.8 367.4 186.6">
<path class="k2" d="M153.9 820.0 L152.9 799.7 L189.0 798.4 L224.5 797.9 L225.0 823.8 L225.0 847.2 L201.7 846.7"/>
<path class="k2" d="M149.6 800.4 C149.6 799.2 152.2 797.3 153.4 797.4 C154.5 797.5 156.5 799.7 156.4 801.0 C156.3 802.2 154.0 805.1 152.9 805.0 C151.7 804.9 149.5 801.7 149.6 800.4Z" style="fill:#fff"/>
<path class="kf" d="M219.4 797.1 C219.9 796.2 222.1 795.2 223.3 795.4 C224.4 795.6 226.2 797.3 226.3 798.4 C226.4 799.5 225.0 801.5 224.0 802.0 C223.0 802.4 221.2 801.8 220.5 801.0 C219.7 800.2 219.0 798.1 219.4 797.1Z"/>
<path class="k2" d="M192.8 808.3 L200.4 808.6 M194.0 814.9 L201.7 814.9 M194.0 820.8 L199.6 821.3 L205.5 820.0"/>
<ellipse class="k" cx="189.5" cy="808.1" rx="1.3" ry="1.3"/>
<path class="r2" d="M205.5 806.5 L210.6 808.1 M205.5 808.6 L209.8 810.1 M206.7 813.7 L211.8 814.9 M185.1 805.5 L186.9 808.6"/>
<path class="kf" d="M159.0 813.7 C159.3 811.8 160.7 809.9 162.3 809.1 C163.8 808.2 166.5 807.8 168.1 808.6 C169.7 809.3 171.2 811.8 171.7 813.7 C172.1 815.6 171.7 818.5 170.7 820.0 C169.6 821.5 167.3 822.6 165.6 822.6 C163.9 822.6 161.6 821.5 160.5 820.0 C159.4 818.5 158.7 815.5 159.0 813.7Z"/>
<path class="kf" d="M154.6 825.1 C155.9 822.6 158.5 821.8 161.0 821.3 C163.5 820.7 167.9 820.7 169.9 821.8 C171.9 822.9 172.5 825.2 173.2 827.6 C173.9 830.1 174.3 832.9 174.2 836.5 C174.1 840.1 175.6 846.9 172.4 849.2 C169.3 851.6 158.6 852.6 155.4 850.5 C152.2 848.4 153.5 840.8 153.4 836.5 C153.2 832.3 153.4 827.6 154.6 825.1Z"/>
<path class="k3" d="M175.0 832.7 C175.6 831.2 177.7 826.8 178.8 823.8 C179.8 820.9 180.9 816.4 181.3 814.9"/>
<path class="k3" d="M177.5 808.6 L185.1 819.3"/>
<path class="k2" d="M157.2 850.5 L157.9 869.6 M172.4 849.2 L171.7 864.5 M161.0 851.8 L162.3 867.0"/>
<path class="kf" d="M136.9 825.1 C137.3 823.1 139.0 821.6 140.7 820.8 C142.4 820.0 145.3 819.8 147.0 820.3 C148.7 820.8 150.8 823.0 150.8 823.8 C150.8 824.6 148.2 824.5 147.0 825.1 C145.8 825.7 144.4 826.2 143.7 827.6 C143.0 829.1 143.6 833.1 142.7 834.0 C141.8 834.8 139.1 834.2 138.1 832.7 C137.1 831.2 136.4 827.1 136.9 825.1Z"/>
<path class="k2" d="M143.7 827.6 C143.6 828.9 142.4 833.1 143.2 835.3 C144.0 837.4 146.6 839.8 148.3 840.3 C150.0 840.9 152.5 838.9 153.4 838.6"/>
<path class="k2" d="M138.1 832.7 C136.9 833.3 132.6 834.6 130.5 836.0 C128.4 837.4 125.2 839.3 125.4 841.1 C125.6 842.9 130.3 843.7 131.8 846.7 C133.3 849.8 134.2 854.7 134.3 859.4 C134.4 864.1 133.2 870.4 132.5 874.7 C131.9 878.9 130.2 882.5 130.5 884.8 C130.8 887.2 133.7 888.0 134.3 888.6"/>
<path class="k2" d="M153.4 839.6 C154.0 841.2 155.7 845.1 157.2 849.2 C158.7 853.4 161.0 860.5 162.3 864.5 C163.5 868.5 166.1 871.3 164.8 873.4 C163.5 875.5 156.3 876.6 154.6 877.2"/>
<path class="k2" d="M140.7 849.2 C141.1 851.4 141.5 857.7 143.2 862.0 C144.9 866.2 148.9 872.1 150.8 874.7 C152.7 877.2 152.5 877.0 154.6 877.2 C156.8 877.4 162.1 876.1 163.5 875.9"/>
<path class="k2" d="M130.5 884.8 C132.6 885.8 138.3 890.0 143.2 890.4 C148.1 890.8 157.0 887.9 159.7 887.4"/>
<path class="k2" d="M134.3 888.6 C134.9 890.1 137.1 895.1 138.1 897.5 C139.2 899.9 140.2 902.2 140.7 903.1"/>
<path class="k2" d="M159.7 887.4 C159.6 889.1 159.4 894.9 159.0 897.5 C158.5 900.2 157.5 902.2 157.2 903.1"/>
<path class="k" d="M131.8 846.7 L140.7 849.2 M148.3 840.3 L150.8 849.2"/>
<path class="kf" d="M181.3 842.9 C181.7 839.7 183.2 837.0 185.1 835.3 C187.0 833.6 190.3 832.5 192.8 832.7 C195.2 832.9 198.2 834.2 199.6 836.5 C201.0 838.9 201.4 843.5 201.1 846.7 C200.9 849.9 199.9 853.7 197.8 855.6 C195.8 857.5 191.5 858.3 189.0 858.1 C186.4 857.9 183.9 856.9 182.6 854.3 C181.3 851.8 180.9 846.1 181.3 842.9Z"/>
<path class="k2" d="M182.6 854.3 C182.2 855.4 182.4 858.6 180.1 860.7 C177.7 862.8 171.0 863.4 168.6 867.0 C166.2 870.6 165.4 877.6 165.6 882.3 C165.8 886.9 168.7 891.5 169.9 895.0 C171.0 898.5 172.0 901.8 172.4 903.1"/>
<path class="k2" d="M199.1 855.6 C199.5 856.6 199.9 859.7 201.7 861.4 C203.4 863.1 208.1 862.3 209.8 865.8 C211.5 869.2 211.7 876.1 211.8 882.3 C212.0 888.5 210.8 899.6 210.6 903.1"/>
<path class="k2" d="M180.8 860.7 C182.2 861.4 185.7 864.9 189.0 865.0 C192.2 865.1 198.5 862.0 200.4 861.4"/>
<path class="k2" d="M182.6 862.0 L191.5 873.4 L200.4 862.5"/>
<path class="k2" d="M181.8 884.8 L187.7 874.7 L189.5 882.3 L197.8 875.9 L200.4 884.8 L194.0 886.9 M186.9 887.4 L187.7 893.0"/>
<path class="kf" d="M222.0 827.6 C222.7 825.1 224.1 822.8 225.8 821.3 C227.5 819.8 230.5 818.5 232.2 818.7 C233.8 819.0 234.5 821.1 236.0 822.6 C237.4 824.0 239.9 825.1 241.0 827.6 C242.2 830.2 243.1 834.8 242.8 837.8 C242.5 840.8 241.0 843.9 239.3 845.4 C237.5 847.0 234.5 847.4 232.2 847.2 C229.8 847.0 226.8 845.9 225.0 844.2 C223.3 842.4 222.0 839.3 221.5 836.5 C221.0 833.8 221.3 830.2 222.0 827.6Z"/>
<path class="kf" d="M220.0 855.6 C221.5 852.7 223.6 850.6 227.1 849.8 C230.6 848.9 237.2 848.9 241.0 850.3 C244.9 851.7 248.4 853.2 249.9 858.1 C251.5 863.1 250.7 872.2 250.5 879.7 C250.2 887.2 253.6 899.2 248.7 903.1 C243.7 907.0 226.0 906.2 220.7 903.1 C215.4 900.1 217.4 890.8 216.9 884.8 C216.4 878.8 217.4 871.9 217.9 867.0 C218.4 862.2 218.4 858.5 220.0 855.6Z"/>
<path d="M229.6 851.8 L237.2 859.4 L242.3 879.7 L241.0 900.1" style="fill:none;stroke:#fff;stroke-width:.6"/>
<path d="M224.5 859.4 L223.3 879.7 L225.8 900.1" style="fill:none;stroke:#fff;stroke-width:.6"/>
<path class="k" d="M219.4 846.7 L222.0 851.8 M232.2 848.0 L246.1 849.2"/>
<path class="kf" d="M252.0 818.7 C252.3 817.7 255.6 816.0 257.6 816.2 C259.6 816.4 262.6 817.9 263.9 820.0 C265.3 822.1 265.6 826.2 265.7 828.9 C265.8 831.7 265.8 835.5 264.7 836.5 C263.5 837.6 260.0 836.7 258.8 835.3 C257.7 833.8 258.1 829.8 257.6 827.6 C257.0 825.5 256.5 824.0 255.5 822.6 C254.6 821.1 251.6 819.8 252.0 818.7Z"/>
<path class="k2" d="M252.0 819.3 C251.3 820.2 248.5 822.9 247.9 825.1 C247.4 827.3 247.9 830.8 248.7 832.7 C249.4 834.6 251.1 836.1 252.5 836.5 C253.9 837.0 256.3 835.5 257.1 835.3"/>
<path class="k" d="M249.9 825.1 L252.0 824.8 M249.4 832.0 L252.0 832.5"/>
<path class="k2" d="M247.4 832.7 C247.1 833.8 245.4 836.3 245.4 839.1 C245.4 841.8 247.1 847.5 247.4 849.2"/>
<path class="k2" d="M252.5 836.5 C252.1 837.8 250.5 841.6 250.5 844.2 C250.4 846.7 251.7 850.5 252.0 851.8"/>
<path class="k2" d="M264.7 836.5 C265.4 837.8 268.2 839.5 269.0 844.2 C269.9 848.8 270.0 857.7 269.8 864.5 C269.6 871.3 268.9 878.4 267.7 884.8 C266.5 891.3 263.5 900.1 262.7 903.1"/>
<path class="k2" d="M252.0 851.8 C251.9 854.3 251.1 863.2 251.2 867.0 C251.3 870.8 251.2 872.9 252.5 874.7 C253.8 876.4 257.8 877.2 258.8 877.7"/>
<path class="k" d="M251.2 874.7 L257.6 875.9"/>
<path class="k2" d="M284.0 818.7 C283.2 819.4 280.1 820.7 279.2 822.6 C278.2 824.5 278.0 828.2 278.4 830.2 C278.8 832.2 280.8 833.9 281.7 834.5 C282.6 835.1 283.6 834.1 284.0 834.0"/>
<path class="k2" d="M274.1 837.8 C274.7 837.6 277.1 835.7 277.9 836.5 C278.7 837.4 278.5 841.4 279.2 842.9 C279.8 844.4 281.3 845.0 281.7 845.4"/>
<path class="k2" d="M284.0 846.7 C283.4 849.2 281.5 856.0 280.4 862.0 C279.4 867.9 278.1 875.4 277.9 882.3 C277.7 889.1 279.0 899.6 279.2 903.1"/>
<path class="k" d="M275.4 839.1 L277.4 845.4"/>
<path class="r2" d="M132.5 817.2 L134.6 820.8 M136.1 816.2 L136.3 820.3 M139.6 816.7 L138.1 820.3"/>
<path class="r2" d="M165.6 803.5 L167.6 807.1 M169.1 802.5 L169.4 806.5 M172.7 803.0 L171.2 806.5"/>
<path class="r2" d="M187.4 826.4 L189.5 829.9 M191.0 825.4 L191.2 829.4 M194.5 825.9 L193.0 829.4"/>
<path class="r2" d="M228.6 812.6 L230.6 816.2 M232.2 811.6 L232.4 815.7 M235.7 812.1 L234.2 815.7"/>
<path class="r2" d="M251.5 811.6 L253.5 815.2 M255.0 810.6 L255.3 814.7 M258.6 811.1 L257.1 814.7"/>
<path class="r2" d="M278.9 812.1 L281.0 815.7 M282.5 811.1 L282.7 815.2 M286.0 811.6 L284.5 815.2"/>
<path class="k2" d="M287.5 823.8 L288.7 803.5 L289.5 790.3 L305.2 790.8 L330.7 797.9 L358.6 807.3 M323.0 867.0 L343.4 872.6 L362.4 878.5"/>
<path class="kf" d="M279.3 822.6 C279.7 821.0 281.7 818.8 283.6 818.2 C285.6 817.7 289.4 818.1 291.3 819.3 C293.2 820.4 294.5 822.9 295.1 825.1 C295.6 827.3 295.2 831.9 294.6 832.7 C293.9 833.6 292.2 831.7 291.3 830.2 C290.3 828.7 290.0 825.1 288.7 823.8 C287.5 822.6 284.9 821.9 283.6 822.6 C282.4 823.2 281.8 827.6 281.1 827.6 C280.4 827.6 278.9 824.1 279.3 822.6Z"/>
<path class="k2" d="M281.1 826.4 C280.9 827.3 279.4 830.5 279.8 832.0 C280.3 833.4 282.3 834.9 283.6 835.3 C285.0 835.6 287.2 834.2 288.0 834.0"/>
<path class="k2" d="M274.2 837.8 C274.5 837.5 275.3 835.7 276.0 836.0 C276.7 836.3 278.3 838.2 278.6 839.6 C278.8 840.9 276.9 842.6 277.3 844.2 C277.7 845.8 280.5 848.4 281.1 849.2"/>
<path class="k2" d="M279.8 835.3 C280.5 836.3 282.6 839.3 283.6 841.6 C284.7 843.9 285.9 846.1 286.2 849.2 C286.5 852.4 285.5 858.8 285.4 860.7"/>
<path class="k2" d="M293.8 833.5 C294.5 834.5 297.2 837.0 298.1 839.6 C299.1 842.2 299.7 845.5 299.7 849.2 C299.6 853.0 298.0 859.8 297.6 862.0"/>
<path class="kf" d="M285.4 862.0 L298.1 862.5 L297.1 879.7 L292.5 903.1 L282.4 903.1 L282.9 879.7Z"/>
<path class="k2" d="M281.1 849.2 C280.7 851.8 279.3 859.0 278.6 864.5 C277.8 870.0 276.8 875.8 276.8 882.3 C276.8 888.7 278.3 899.6 278.6 903.1"/>
<path class="kf" d="M304.0 825.1 C304.5 824.0 307.7 822.6 309.8 822.6 C311.9 822.6 315.2 823.2 316.7 825.1 C318.2 827.0 318.8 831.2 319.0 834.0 C319.1 836.8 318.7 840.9 317.4 842.1 C316.2 843.3 312.9 842.7 311.6 841.1 C310.3 839.5 310.7 834.7 309.8 832.7 C309.0 830.8 307.5 830.7 306.5 829.4 C305.5 828.1 303.4 826.2 304.0 825.1Z"/>
<path class="k2" d="M303.2 826.4 C302.8 827.4 300.8 830.5 300.7 832.7 C300.5 834.9 301.2 838.2 302.2 839.6 C303.2 841.0 305.8 840.9 306.5 841.1"/>
<path class="k2" d="M306.5 841.1 C305.5 842.5 301.9 846.2 300.7 849.2 C299.4 852.3 298.6 856.7 298.9 859.4 C299.2 862.2 302.1 864.7 302.7 865.8"/>
<path class="k2" d="M316.7 842.1 C317.7 843.3 321.4 844.7 322.5 849.2 C323.7 853.8 323.9 863.2 323.5 869.6 C323.2 875.9 321.4 881.8 320.5 887.4 C319.6 893.0 318.4 900.5 318.0 903.1"/>
<path class="k2" d="M302.7 865.8 C302.5 868.5 302.1 876.1 301.4 882.3 C300.8 888.5 299.3 899.6 298.9 903.1"/>
<path class="k" d="M310.3 846.7 L309.1 862.0 L305.2 867.0"/>
<path class="r2" d="M228.5 812.6 L230.5 816.2 M232.0 811.6 L232.3 815.7 M235.6 812.1 L234.1 815.7"/>
<path class="r2" d="M251.4 811.6 L253.4 815.2 M254.9 810.6 L255.2 814.7 M258.5 811.1 L257.0 814.7"/>
<path class="r2" d="M279.8 812.6 L281.9 816.2 M283.4 811.6 L283.6 815.7 M286.9 812.1 L285.4 815.7"/>
<path class="r2" d="M307.3 817.7 L309.3 821.3 M310.8 816.7 L311.1 820.8 M314.4 817.2 L312.9 820.8"/>
<path class="k2" d="M134.3 888.0 C134.9 890.9 137.1 900.2 138.1 905.7 C139.2 911.3 140.0 916.5 140.7 921.0 C141.3 925.4 141.7 930.5 141.9 932.4"/>
<path class="k2" d="M157.2 888.0 C157.1 890.9 156.8 899.8 156.4 905.7 C156.0 911.7 154.9 920.6 154.6 923.5"/>
<path class="k2" d="M141.9 932.4 C143.4 933.1 147.7 935.9 150.8 936.2 C154.0 936.5 159.5 935.3 161.0 934.2 C162.5 933.2 160.8 931.2 159.7 929.9 C158.7 928.6 155.5 927.1 154.6 926.6"/>
<path class="k" d="M144.5 908.3 L149.6 907.8 M145.7 910.8 L148.3 910.3"/>
<path class="k2" d="M169.9 875.2 C169.8 878.2 168.5 887.7 169.1 893.0 C169.8 898.3 172.5 903.8 173.7 907.0 C174.9 910.2 175.8 911.3 176.2 912.1"/>
<path class="k2" d="M209.8 875.2 C210.0 878.2 211.3 887.1 211.3 893.0 C211.3 899.0 210.0 907.9 209.8 910.8"/>
<path class="k2" d="M172.4 912.1 L186.4 914.6 L209.3 910.8"/>
<path class="kf" d="M174.2 913.4 L186.4 915.9 L209.8 912.1 L210.8 936.2 L208.0 960.4 L196.1 960.4 L194.5 936.2 L192.0 926.1 L189.5 936.2 L189.0 960.4 L176.2 960.4 L175.0 936.2Z"/>
<path class="kf" d="M217.4 860.0 C222.7 855.8 244.4 856.6 249.9 860.0 C255.5 863.4 251.1 873.8 250.5 880.3 C249.8 886.9 249.2 895.2 246.1 899.4 C243.1 903.6 236.1 905.3 232.2 905.7 C228.2 906.2 224.8 905.3 222.5 901.9 C220.2 898.5 219.3 892.4 218.4 885.4 C217.6 878.4 212.2 864.2 217.4 860.0Z"/>
<path class="k2" d="M219.4 898.1 C219.5 901.9 218.7 913.4 220.0 921.0 C221.2 928.6 225.4 937.3 227.1 943.9 C228.8 950.4 229.6 957.6 230.1 960.4"/>
<path class="k2" d="M249.9 900.7 C249.5 903.6 248.5 912.1 247.4 918.5 C246.3 924.8 244.4 932.2 243.6 938.8 C242.7 945.3 242.5 954.7 242.3 957.8"/>
<path class="k" d="M237.2 936.2 L238.5 960.4 M246.1 905.7 L249.9 923.5 M218.2 900.7 L220.7 908.3"/>
<path class="k2" d="M252.5 875.2 C253.5 878.2 257.4 886.7 258.8 893.0 C260.3 899.4 261.1 906.9 261.4 913.4 C261.7 919.8 260.7 928.6 260.6 931.7"/>
<path class="k2" d="M267.7 860.0 C267.3 863.4 266.0 874.0 265.2 880.3 C264.3 886.7 263.1 895.2 262.7 898.1"/>
<path class="k2" d="M246.1 932.4 C247.2 933.1 250.2 935.8 252.5 936.2 C254.8 936.7 258.8 935.7 260.1 935.0 C261.5 934.2 260.5 932.2 260.6 931.7"/>
<path class="k2" d="M269.8 905.7 C270.2 904.3 275.5 903.0 277.9 903.2 C280.3 903.4 283.0 905.4 284.0 907.0 C285.0 908.6 285.4 912.0 284.0 912.9 C282.6 913.7 277.7 913.3 275.4 912.1 C273.0 910.9 269.3 907.2 269.8 905.7Z" style="fill:#fff"/>
<path class="k2" d="M279.2 860.0 L281.7 882.9 L283.0 903.2"/>
<path class="kf" d="M229.0 860.0 C232.7 852.2 247.8 856.6 251.4 860.0 C255.0 863.4 251.4 873.3 250.6 880.3 C249.8 887.3 250.4 897.5 246.8 901.9 C243.2 906.4 232.0 914.0 229.0 907.0 C226.0 900.0 225.3 867.8 229.0 860.0Z"/>
<path class="k2" d="M267.1 860.0 C266.5 863.4 264.2 872.7 263.3 880.3 C262.4 888.0 262.2 896.9 261.5 905.7 C260.9 914.6 259.8 929.0 259.5 933.7"/>
<path class="k2" d="M246.8 903.2 C247.4 905.7 250.6 913.6 250.6 918.5 C250.6 923.3 247.4 930.1 246.8 932.4"/>
<path class="k2" d="M246.8 932.4 C247.8 933.1 251.0 935.9 253.1 936.2 C255.3 936.5 258.4 934.5 259.5 934.2"/>
<path class="k" d="M251.4 874.0 L257.0 879.1 L262.0 877.8"/>
<path class="k2" d="M240.4 923.5 L239.2 943.9 L241.2 960.4 M244.8 918.5 L245.5 956.6 M229.0 936.2 L230.3 960.4"/>
<path class="kf" d="M285.4 862.5 L298.9 863.8 L295.6 882.9 L288.7 907.0 L281.9 905.7 L283.6 882.9Z"/>
<path class="k2" d="M279.8 860.0 C279.4 863.4 277.3 874.0 277.3 880.3 C277.3 886.7 279.6 894.1 279.8 898.1 C280.0 902.1 278.8 903.4 278.6 904.5"/>
<path class="k2" d="M270.9 905.7 C271.8 905.4 274.3 903.5 276.0 903.7 C277.7 903.9 279.2 906.0 281.1 907.0 C283.0 908.0 286.6 908.6 287.5 909.6 C288.3 910.5 287.9 912.7 286.2 912.9 C284.5 913.1 278.8 911.2 277.3 910.8"/>
<path class="k2" d="M305.2 860.0 C305.0 861.3 303.3 866.8 304.0 867.6 C304.6 868.5 308.2 865.5 309.1 865.1"/>
<path class="k2" d="M323.5 860.0 C323.2 863.4 322.9 873.3 321.8 880.3 C320.6 887.3 317.5 898.3 316.7 901.9"/>
<path class="k2" d="M301.4 875.2 C301.2 878.2 299.9 888.4 300.2 893.0 C300.4 897.7 300.4 901.1 302.7 903.2 C305.0 905.3 312.4 902.1 314.1 905.7 C315.8 909.3 313.1 921.6 312.9 924.8"/>
<path class="k2" d="M300.2 888.0 C299.4 891.8 295.4 904.4 295.6 910.8 C295.8 917.3 300.5 924.0 301.4 926.6"/>
<path class="kf" d="M292.5 928.1 C293.4 926.9 299.7 925.8 302.7 925.6 C305.8 925.3 309.8 925.7 310.8 926.6 C311.9 927.5 311.3 930.1 309.1 931.2 C306.9 932.2 300.4 933.2 297.6 932.7 C294.9 932.2 291.7 929.3 292.5 928.1Z"/>
<path class="k2" d="M324.3 867.1 L343.4 873.2 L362.4 878.3"/>
<path class="k3" d="M313.4 905.7 L312.9 923.5"/>
</svg></div>
<div id="c1" class="abs cap"><b>1.</b> 6/3/1 por parejas en 6 minutos (cada uno) contar quién soy cómo profesor LGTBIQ+, cambio de pareja ahora<br>en 3 minutos, cambio de pareja ahora en 1 minuto.</div>
<div id="c2" class="abs cap"><b>2.</b> Después escribe cada uno un resumen de sí mismo. Quién soy<br>como profe LGTBIQ+</div>
<div id="c3" class="abs cap"><b>3.</b> Creación de mondongos: con un rollo<br>de cinta de carrocero construir una pieza<br>que narre algo de lo que le han contando..<br>escribir una experiencia positiva y otra<br>negativa y vincularla con alguna de las<br>piezas.paseo por el museo de las expe-<br>riencias del profesorado LGTBIQ+ lectura<br>de piezas.</div>
<div id="c4" class="abs cap"><b>4.</b> Pensar qué categorías de análisis</div>
</body>
</html>
